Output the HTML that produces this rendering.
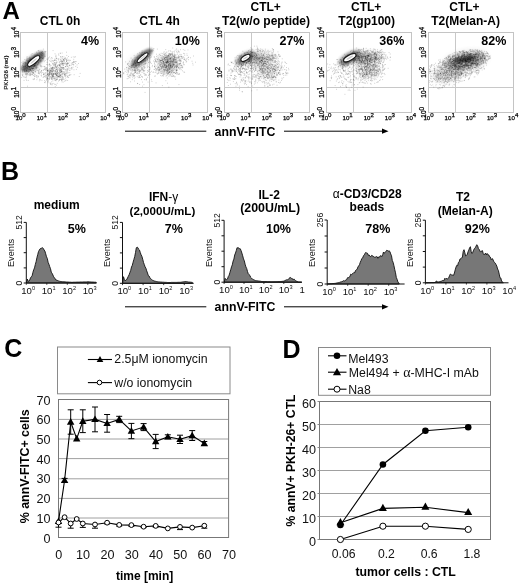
<!DOCTYPE html>
<html><head><meta charset="utf-8"><style>
html,body{margin:0;padding:0;background:#fff;}
svg{display:block;filter:blur(0.35px);}
text{font-family:"Liberation Sans",sans-serif;}
</style></head><body>
<svg width="520" height="584" viewBox="0 0 520 584">
<defs><filter id="b11" x="-50%" y="-50%" width="200%" height="200%"><feGaussianBlur stdDeviation="1.1"/></filter><filter id="b12" x="-50%" y="-50%" width="200%" height="200%"><feGaussianBlur stdDeviation="1.2"/></filter><filter id="b15" x="-50%" y="-50%" width="200%" height="200%"><feGaussianBlur stdDeviation="1.5"/></filter><filter id="b30" x="-50%" y="-50%" width="200%" height="200%"><feGaussianBlur stdDeviation="3.0"/></filter></defs>
<rect width="520" height="584" fill="#fff"/>
<text x="2.5" y="19.3" font-size="24" font-weight="bold" text-anchor="start" fill="#000" >A</text>
<rect x="20.5" y="32.5" width="85" height="80" fill="none" stroke="#c4c4c4" stroke-width="1"/>
<line x1="47.5" y1="32.5" x2="47.5" y2="112.5" stroke="#c8c8c8" stroke-width="1"/>
<line x1="20.5" y1="87.5" x2="105.5" y2="87.5" stroke="#c8c8c8" stroke-width="1"/>
<ellipse cx="0" cy="0" rx="14.5" ry="5.5" fill="#333" opacity="0.72" filter="url(#b11)" transform="translate(33.3 61.699999999999996) rotate(-40)"/>
<ellipse cx="0" cy="0" rx="9" ry="6" fill="#777" opacity="0.3" filter="url(#b30)" transform="translate(31.4 65.3) rotate(-30)"/>
<path d="M33.2 64.2h.9M28.2 62.2h.9M26.7 62.9h.9M36.3 67.1h.9M27.4 64.2h.9M36.7 61.6h.9M30.7 59.8h.9M34.0 65.6h.9M22.0 69.7h.9M24.4 71.5h.9M33.0 61.8h.9M32.4 63.9h.9M23.6 66.5h.9M37.6 54.7h.9M34.4 66.2h.9M28.1 66.3h.9M33.3 62.9h.9M24.1 70.6h.9M37.8 50.7h.9M38.6 58.7h.9M33.1 73.1h.9M34.6 55.2h.9M34.4 64.6h.9M32.9 66.5h.9M33.7 65.7h.9M40.6 52.9h.9M32.6 60.7h.9M30.2 58.9h.9M27.9 66.1h.9M41.5 61.6h.9M21.2 68.5h.9M31.7 53.5h.9M29.0 65.7h.9M42.8 58.1h.9M29.2 64.1h.9M34.6 69.4h.9M28.7 64.8h.9M34.5 60.9h.9M28.2 61.0h.9M31.2 62.0h.9M42.1 58.6h.9M34.0 65.5h.9M32.8 68.5h.9M33.9 65.1h.9M24.4 71.8h.9M28.0 62.3h.9M39.3 69.2h.9M25.1 66.2h.9M35.1 63.6h.9M30.7 63.7h.9M38.6 60.8h.9M25.1 69.0h.9M29.9 59.9h.9M32.0 59.2h.9M39.6 58.3h.9M31.5 61.0h.9M26.4 57.9h.9M25.5 71.0h.9M22.3 75.7h.9M28.6 70.6h.9M29.4 57.8h.9M44.7 60.5h.9M31.2 62.8h.9M28.8 61.2h.9M38.6 55.3h.9M30.0 61.2h.9M24.8 63.0h.9M40.7 55.6h.9M39.1 57.8h.9M26.8 66.3h.9M28.6 66.6h.9M29.0 64.6h.9M42.1 51.7h.9M26.0 70.4h.9M38.4 50.7h.9M29.3 62.6h.9M22.1 75.7h.9M32.4 63.7h.9M28.4 69.0h.9M28.3 66.0h.9M21.6 66.0h.9M40.3 54.0h.9M34.3 61.5h.9M28.1 64.3h.9M36.0 58.7h.9M31.4 64.2h.9M42.3 58.6h.9M33.6 59.4h.9M25.3 74.2h.9M38.7 57.3h.9M38.1 62.6h.9M40.5 61.3h.9M33.2 70.6h.9M26.0 73.2h.9M38.1 63.1h.9M49.2 57.0h.9M35.4 55.5h.9M34.5 65.9h.9M34.3 61.9h.9M30.8 64.8h.9M22.6 63.6h.9M28.8 61.3h.9M22.4 74.4h.9M33.0 64.9h.9M23.9 67.0h.9M23.2 66.4h.9M31.7 59.8h.9M35.7 62.3h.9M38.3 57.9h.9M28.6 58.9h.9M31.1 68.2h.9M32.0 64.0h.9M33.4 68.5h.9M26.6 56.7h.9M22.6 61.3h.9M41.7 55.7h.9M21.9 67.2h.9M40.6 57.2h.9M32.6 62.9h.9M34.7 65.5h.9M36.8 60.8h.9M26.5 70.9h.9M30.5 70.6h.9M23.3 70.2h.9M28.9 59.3h.9M48.0 57.8h.9M31.2 68.3h.9M34.0 61.7h.9M30.2 59.5h.9M30.1 64.3h.9M41.5 57.5h.9M36.3 68.0h.9M27.6 65.3h.9M41.4 60.5h.9M37.3 59.8h.9M33.2 61.3h.9M31.1 64.6h.9M44.3 56.3h.9M30.5 61.9h.9M32.1 71.9h.9M36.1 60.6h.9M27.2 61.9h.9M34.2 66.4h.9M29.1 64.9h.9M31.2 64.9h.9M28.8 71.0h.9M28.6 69.5h.9M42.1 53.5h.9M28.7 67.4h.9M29.8 60.3h.9M40.8 66.8h.9M30.1 64.2h.9M26.0 70.3h.9M21.0 67.1h.9M38.9 53.1h.9M43.8 61.7h.9M35.6 63.5h.9M45.4 51.4h.9M24.8 62.6h.9M36.5 67.6h.9M36.6 54.9h.9M25.2 66.7h.9M33.9 61.0h.9M34.6 63.0h.9M30.2 64.9h.9M33.6 61.8h.9M40.7 66.1h.9M36.6 60.0h.9M21.8 74.2h.9M40.1 60.5h.9M27.0 58.9h.9M28.1 63.4h.9M42.6 66.5h.9M31.9 59.7h.9M24.2 69.9h.9M28.2 60.8h.9M30.2 59.1h.9M42.8 60.1h.9M38.7 55.6h.9M35.6 59.9h.9M28.8 64.5h.9M37.4 58.1h.9M36.5 65.1h.9M34.6 63.5h.9M32.4 68.6h.9M30.7 58.4h.9M28.1 71.2h.9M30.7 54.8h.9M43.2 57.3h.9M40.7 54.4h.9M27.5 61.6h.9M41.7 52.1h.9M29.2 57.2h.9M32.3 68.5h.9M26.5 73.8h.9M32.0 58.2h.9M27.8 64.8h.9M30.7 61.9h.9M25.9 67.2h.9M22.0 65.3h.9M34.3 66.3h.9M21.9 72.2h.9M25.4 64.1h.9M37.0 56.8h.9M40.7 52.2h.9M34.5 60.4h.9M28.7 69.5h.9M32.9 66.0h.9M29.3 60.2h.9M31.8 64.0h.9M36.7 55.0h.9M27.7 58.3h.9M34.1 56.2h.9M36.1 52.2h.9M23.0 67.3h.9M25.6 71.0h.9M25.0 65.8h.9M34.5 57.6h.9M32.9 57.8h.9M44.4 51.6h.9M34.0 61.8h.9M33.6 62.5h.9M42.9 49.1h.9M25.1 73.3h.9M35.6 55.6h.9M21.9 70.3h.9M33.3 57.0h.9M36.8 54.0h.9M26.6 60.3h.9M29.2 73.2h.9M37.0 57.3h.9M21.5 62.5h.9M29.6 65.5h.9M31.6 63.5h.9M24.5 69.6h.9M35.5 67.5h.9M44.9 52.1h.9M26.9 67.5h.9M32.6 72.3h.9M27.9 80.4h.9M32.6 79.2h.9M36.2 67.0h.9M28.1 72.5h.9M30.8 70.5h.9M28.7 61.3h.9M29.0 59.2h.9M32.6 66.7h.9M26.1 69.2h.9M32.0 63.1h.9M39.9 65.0h.9M34.3 63.4h.9M32.2 68.7h.9M30.0 73.1h.9M40.9 71.3h.9M31.1 65.4h.9M33.9 69.1h.9M35.4 70.1h.9M28.6 74.7h.9M28.3 66.3h.9M28.8 63.4h.9M37.3 64.8h.9M25.2 68.3h.9M36.4 66.2h.9M26.3 74.7h.9M35.6 68.4h.9M23.7 62.6h.9M26.2 59.1h.9M34.9 67.1h.9M33.3 79.6h.9M37.4 64.5h.9M35.6 76.1h.9M25.9 65.5h.9M29.7 62.3h.9M23.8 69.0h.9M29.0 71.1h.9M32.0 69.2h.9M30.4 66.7h.9M31.2 71.4h.9M24.9 67.1h.9M35.2 72.0h.9M26.3 80.5h.9M35.1 71.4h.9M29.2 67.6h.9M29.1 67.5h.9M34.9 68.3h.9M27.8 64.3h.9M30.1 65.8h.9M29.3 75.5h.9M32.6 72.8h.9M32.5 70.6h.9M29.6 68.8h.9M35.0 64.9h.9M38.4 70.5h.9M25.9 67.9h.9M26.3 71.1h.9M26.1 76.0h.9M26.0 60.3h.9M30.2 75.6h.9M34.3 63.6h.9M25.8 79.2h.9M32.3 70.3h.9M38.2 71.0h.9M32.5 73.4h.9M26.7 65.0h.9M30.7 65.6h.9M30.0 70.8h.9M29.7 69.5h.9M33.0 75.5h.9M27.5 66.2h.9M33.6 70.5h.9M24.3 68.4h.9M30.6 72.8h.9M26.8 69.0h.9M28.4 71.4h.9M28.2 66.3h.9M30.0 70.3h.9M29.9 60.9h.9M29.5 66.0h.9M27.1 71.4h.9M34.2 74.8h.9M27.4 74.9h.9M37.4 76.0h.9M38.7 69.6h.9M29.4 74.4h.9M22.2 71.3h.9M27.2 68.5h.9M30.3 74.7h.9M36.3 69.9h.9M29.3 66.1h.9M32.8 69.1h.9M34.0 79.1h.9M30.2 62.8h.9M25.2 63.0h.9M23.2 76.8h.9M31.8 62.7h.9M34.3 76.6h.9M28.2 66.9h.9M28.4 71.7h.9M34.2 76.2h.9M37.7 76.2h.9M38.6 73.6h.9M21.2 69.6h.9M32.3 68.4h.9M35.9 68.5h.9M24.8 77.5h.9M34.4 71.4h.9M36.0 75.6h.9M26.3 68.0h.9M24.5 71.3h.9M37.6 67.9h.9M23.6 80.4h.9M27.7 64.1h.9M31.8 72.4h.9M26.2 74.3h.9M27.5 65.7h.9M31.5 74.2h.9M26.6 72.0h.9M26.1 77.2h.9M30.1 69.7h.9M34.7 74.8h.9M38.0 71.9h.9M26.8 67.6h.9M33.5 73.2h.9M38.8 72.4h.9M36.8 77.9h.9M31.4 62.9h.9M23.3 63.1h.9M39.9 66.1h.9M37.8 73.2h.9M40.7 75.3h.9M29.8 69.3h.9M30.9 71.2h.9M27.2 70.1h.9M40.1 61.8h.9M32.0 65.8h.9M31.5 74.5h.9M30.1 74.2h.9M26.8 73.4h.9M25.9 71.4h.9M39.7 71.7h.9M31.9 63.2h.9M39.0 79.3h.9M30.6 69.2h.9M38.0 73.0h.9M24.5 77.0h.9M23.0 69.2h.9M32.1 74.7h.9M32.9 72.2h.9M25.8 63.9h.9M30.8 66.7h.9M22.6 64.0h.9M47.1 70.5h.9M50.7 84.1h.9M51.5 71.9h.9M50.5 73.6h.9M59.0 75.2h.9M68.8 75.3h.9M64.5 75.5h.9M58.6 67.8h.9M53.5 74.0h.9M52.7 64.6h.9M60.6 72.6h.9M51.3 73.2h.9M52.8 76.1h.9M45.5 70.1h.9M56.4 75.0h.9M51.8 71.7h.9M48.6 74.0h.9M62.7 69.5h.9M65.1 78.1h.9M51.2 77.8h.9M44.1 66.5h.9M45.4 72.5h.9M52.1 72.0h.9M55.1 64.7h.9M57.9 67.9h.9M49.8 72.4h.9M46.3 68.1h.9M47.4 74.2h.9M58.5 76.8h.9M47.4 70.7h.9M48.0 76.3h.9M40.1 79.9h.9M51.0 70.8h.9M56.8 78.9h.9M56.8 79.0h.9M55.3 79.8h.9M63.1 73.9h.9M64.5 75.0h.9M55.0 70.2h.9M52.4 77.8h.9M45.2 77.2h.9M56.8 75.5h.9M39.0 73.8h.9M58.9 70.9h.9M55.0 63.6h.9M59.1 71.3h.9M60.5 66.0h.9M59.2 73.2h.9M60.1 70.1h.9M50.1 84.4h.9M48.6 71.1h.9M52.5 69.7h.9M62.7 82.1h.9M49.5 66.5h.9M62.6 79.3h.9M60.2 79.5h.9M48.3 73.5h.9M44.7 67.9h.9M61.3 71.3h.9M70.4 74.6h.9M49.9 77.9h.9M67.0 76.5h.9M45.9 76.0h.9M64.0 72.1h.9M49.0 78.9h.9M55.4 69.3h.9M51.7 70.9h.9M56.5 74.8h.9M62.5 77.5h.9M43.5 76.1h.9M60.7 76.4h.9M61.6 71.8h.9M47.7 78.5h.9M61.6 71.0h.9M52.3 68.0h.9M45.1 69.1h.9M51.9 76.0h.9M46.1 69.5h.9M59.1 74.0h.9M48.4 75.4h.9M55.8 80.7h.9M51.2 78.8h.9M49.2 79.3h.9M49.1 72.7h.9M67.7 75.7h.9M55.2 84.4h.9M56.9 70.6h.9M59.5 69.0h.9M62.3 79.7h.9M50.4 71.5h.9M55.6 74.4h.9M47.6 76.9h.9M40.1 72.4h.9M51.6 73.1h.9M56.6 68.8h.9M58.5 73.5h.9M49.8 68.1h.9M46.1 75.9h.9M47.7 74.6h.9M61.8 78.9h.9M65.3 73.0h.9M46.8 78.9h.9M56.6 79.4h.9M54.5 79.7h.9M60.3 77.5h.9M57.9 76.1h.9M56.0 75.3h.9M61.3 72.0h.9M66.5 73.8h.9M61.3 73.9h.9M52.7 83.4h.9M52.2 68.6h.9M49.4 72.9h.9M69.5 75.2h.9M60.9 69.8h.9M56.9 77.3h.9M67.0 71.2h.9M58.6 75.7h.9M47.2 74.2h.9M52.6 63.8h.9M58.6 76.7h.9M51.3 68.3h.9M64.8 75.5h.9M61.5 80.6h.9M50.8 78.0h.9M52.7 74.0h.9M53.8 74.3h.9M62.2 74.9h.9M53.3 73.1h.9M56.8 70.3h.9M50.9 74.1h.9M50.4 73.8h.9M50.1 83.3h.9M63.7 76.3h.9M54.0 84.2h.9M56.7 73.9h.9M56.5 75.7h.9M64.3 74.2h.9M69.1 70.3h.9M59.3 69.8h.9M67.1 72.8h.9M54.0 78.5h.9M63.2 69.3h.9M52.0 68.0h.9M55.4 73.8h.9M52.0 71.2h.9M51.7 70.9h.9M58.1 81.1h.9M40.9 73.8h.9M51.5 76.5h.9M47.7 73.6h.9M47.1 77.4h.9M55.1 73.6h.9M57.0 73.2h.9M43.5 77.0h.9M56.4 73.6h.9M61.3 79.8h.9M46.8 70.8h.9M65.2 80.7h.9M49.2 69.0h.9M49.9 72.1h.9M43.3 74.4h.9M45.4 68.9h.9M60.8 71.2h.9M53.9 77.1h.9M60.1 72.8h.9M54.7 70.6h.9M66.6 77.2h.9M46.7 74.3h.9M59.4 76.5h.9M67.2 80.5h.9M50.6 73.9h.9M45.4 75.4h.9M55.1 64.9h.9M49.7 74.8h.9M45.6 70.4h.9M51.8 75.8h.9M53.2 70.3h.9M59.9 71.9h.9M50.9 68.1h.9M48.9 77.2h.9M43.1 74.0h.9M59.4 72.6h.9M56.1 69.3h.9M63.6 79.3h.9M56.0 66.4h.9M47.1 78.7h.9M66.4 75.6h.9M63.1 71.6h.9M53.1 74.3h.9M57.4 67.4h.9M61.0 80.3h.9M46.4 68.2h.9M56.9 71.4h.9M55.5 72.2h.9M69.2 74.9h.9M49.1 74.8h.9M47.1 70.9h.9M57.1 71.8h.9M51.2 81.8h.9M60.4 77.9h.9M58.1 76.5h.9M64.6 74.2h.9M67.4 70.0h.9M52.6 68.1h.9M52.0 76.6h.9M64.6 71.3h.9M54.4 72.7h.9M49.2 68.9h.9M54.8 66.5h.9M55.2 74.4h.9M49.8 69.8h.9M44.7 82.7h.9M45.0 81.3h.9M58.6 72.7h.9M46.3 79.0h.9M66.5 70.1h.9M52.3 79.0h.9M56.8 83.3h.9M50.4 76.7h.9M49.3 64.4h.9M53.5 73.7h.9M67.8 72.8h.9M54.3 77.0h.9M65.5 74.0h.9M61.7 76.6h.9M52.3 74.6h.9M54.6 70.2h.9M62.9 68.1h.9M62.6 78.6h.9M53.7 70.9h.9M52.8 76.4h.9M59.6 75.6h.9M61.3 71.8h.9M56.0 67.2h.9M59.7 75.0h.9M51.5 79.5h.9M54.7 67.8h.9M50.8 74.6h.9M52.6 75.9h.9M58.9 80.1h.9M47.5 81.4h.9M47.9 75.5h.9M62.5 77.5h.9M47.8 71.1h.9M51.2 74.1h.9M62.4 68.5h.9M57.7 77.0h.9M58.3 76.4h.9M65.0 76.5h.9M60.4 76.8h.9M63.4 73.1h.9M52.4 69.9h.9M41.3 72.6h.9M49.6 76.5h.9M44.1 80.7h.9M56.3 73.2h.9M49.4 70.8h.9M46.5 71.9h.9M54.4 73.5h.9M44.5 73.1h.9M48.1 75.0h.9M67.5 77.1h.9M52.2 67.0h.9M44.5 66.7h.9M59.5 70.9h.9M54.8 71.5h.9M55.0 80.6h.9M49.6 72.8h.9M48.8 78.2h.9M47.2 69.2h.9M44.7 68.0h.9M47.4 78.6h.9M56.2 69.3h.9M52.5 73.3h.9M49.6 83.0h.9M41.1 76.0h.9M56.7 71.7h.9M55.4 78.2h.9M55.5 76.2h.9M59.3 65.2h.9M61.3 78.9h.9M44.5 73.8h.9M48.7 71.7h.9M61.2 70.7h.9M53.5 65.7h.9M53.3 74.7h.9M49.5 71.1h.9M67.6 68.9h.9M47.0 70.7h.9M56.7 71.1h.9M51.4 79.1h.9M48.0 80.8h.9M64.3 74.6h.9M58.9 77.7h.9M65.3 69.6h.9M62.7 72.6h.9M49.0 74.8h.9M52.9 69.9h.9M43.2 70.1h.9M59.0 79.6h.9M50.8 74.0h.9M56.4 69.4h.9M47.5 74.7h.9M52.2 69.5h.9M57.1 73.1h.9M61.5 74.3h.9M52.3 74.9h.9M53.2 71.3h.9M51.6 77.7h.9M58.9 80.1h.9M42.5 72.5h.9M51.5 75.1h.9M51.2 72.0h.9M59.9 75.1h.9M46.2 80.3h.9M61.4 71.7h.9M60.2 71.0h.9M62.3 73.3h.9M48.8 72.6h.9M49.0 75.2h.9M55.6 74.5h.9M55.0 65.8h.9M56.1 79.4h.9M56.3 72.5h.9M53.1 73.7h.9M50.6 71.7h.9M47.9 79.6h.9M54.3 78.6h.9M52.6 74.6h.9M53.2 76.4h.9M60.2 75.4h.9M49.7 70.8h.9M66.0 73.0h.9M52.4 80.9h.9M62.0 76.7h.9M51.6 84.9h.9M57.2 76.8h.9M53.2 67.9h.9M45.1 76.1h.9M57.1 73.2h.9M46.2 67.8h.9M52.1 67.7h.9M60.7 79.5h.9M50.3 70.4h.9M53.2 78.7h.9M58.7 76.9h.9M55.9 77.3h.9M64.5 69.5h.9M51.2 68.1h.9M65.7 80.1h.9M59.7 68.9h.9M55.6 73.2h.9M55.0 73.5h.9M58.0 72.5h.9M60.4 75.4h.9M52.3 73.8h.9M51.3 78.0h.9M52.5 75.6h.9M51.7 67.6h.9M60.7 69.5h.9M59.2 76.2h.9M42.8 70.0h.9M50.8 70.6h.9M46.1 77.6h.9M52.7 76.0h.9M51.4 75.7h.9M49.1 74.2h.9M58.5 74.5h.9M51.2 69.4h.9M55.6 75.9h.9M52.6 70.8h.9M52.3 75.8h.9M55.3 71.1h.9M64.1 73.2h.9M49.0 73.3h.9M55.6 71.8h.9M54.0 68.2h.9M52.8 77.8h.9M68.2 77.5h.9M56.3 79.6h.9M61.5 81.8h.9M62.0 73.8h.9M56.2 75.1h.9M56.5 75.2h.9M48.9 64.8h.9M49.7 65.2h.9M54.9 74.3h.9M42.7 77.4h.9M60.5 74.7h.9M46.0 79.0h.9M57.5 76.2h.9M60.9 71.1h.9M50.3 70.6h.9M49.1 73.9h.9M44.2 69.6h.9M58.4 74.0h.9M57.1 65.8h.9M48.9 71.8h.9M54.6 71.7h.9M55.7 62.5h.9M49.1 63.8h.9M67.2 62.6h.9M65.9 59.1h.9M51.5 60.4h.9M71.1 67.9h.9M59.0 68.7h.9M60.0 70.1h.9M66.0 61.3h.9M68.4 59.8h.9M55.4 56.8h.9M64.3 63.1h.9M61.8 61.5h.9M73.2 61.4h.9M57.0 68.9h.9M73.1 64.8h.9M49.3 60.6h.9M67.0 63.4h.9M74.1 57.1h.9M67.5 60.5h.9M72.3 63.0h.9M70.1 60.4h.9M51.8 58.3h.9M57.8 58.7h.9M71.4 69.3h.9M64.4 58.6h.9M61.5 60.2h.9M73.3 64.7h.9M66.1 61.5h.9M47.3 59.8h.9M54.0 65.0h.9M63.1 59.7h.9M59.5 70.3h.9M55.2 59.2h.9M60.7 60.2h.9M59.2 65.7h.9M62.3 63.5h.9M61.8 62.5h.9M59.8 67.8h.9M58.9 62.7h.9M62.4 63.8h.9M61.1 67.8h.9M62.3 64.1h.9M62.0 58.8h.9M56.2 58.6h.9M63.8 60.1h.9M54.4 64.4h.9M66.3 55.4h.9M75.1 63.4h.9M61.6 68.1h.9M62.9 60.6h.9M61.7 67.1h.9M54.4 62.8h.9M55.7 63.1h.9M67.3 63.7h.9M53.4 65.1h.9M63.2 65.3h.9M70.9 67.9h.9M65.5 64.7h.9M54.2 62.7h.9M64.1 61.5h.9M63.1 59.6h.9M59.5 65.1h.9M60.6 69.0h.9M65.7 63.6h.9M60.7 63.9h.9M54.9 66.3h.9M57.0 65.7h.9M63.4 68.2h.9M62.3 67.9h.9M55.5 66.0h.9M60.7 64.2h.9M62.9 67.5h.9M47.3 64.8h.9M51.2 68.7h.9M47.6 58.8h.9M49.8 70.7h.9M52.7 63.8h.9M58.4 55.2h.9M59.9 66.3h.9M61.0 67.5h.9M59.7 63.3h.9M59.5 64.8h.9M76.6 64.9h.9M63.9 60.5h.9M56.7 69.9h.9M54.1 59.2h.9M61.7 61.4h.9M65.1 66.5h.9M54.0 60.4h.9M65.6 70.6h.9M55.5 56.2h.9M69.7 70.2h.9M59.9 53.3h.9M73.3 62.4h.9M70.8 63.1h.9M59.6 61.3h.9M73.5 69.8h.9M46.4 59.1h.9M75.7 61.6h.9M52.2 63.3h.9M61.6 62.9h.9M58.8 61.9h.9M59.0 64.8h.9M56.3 62.0h.9M61.3 69.2h.9M65.2 62.8h.9M66.4 65.1h.9M70.6 65.6h.9M75.9 69.4h.9M62.1 61.4h.9M69.0 65.6h.9M61.7 56.7h.9M48.7 64.9h.9M68.2 66.9h.9M52.7 68.0h.9M58.4 65.0h.9M65.5 59.7h.9M58.0 54.0h.9M55.5 55.2h.9M65.7 63.6h.9M69.3 64.9h.9M57.6 64.9h.9M59.5 66.0h.9M64.8 58.9h.9M62.4 63.5h.9M60.1 67.3h.9M75.2 61.6h.9M59.8 53.2h.9M61.4 61.3h.9M46.2 64.6h.9M66.8 60.0h.9M59.6 59.0h.9M68.1 56.5h.9M60.1 72.1h.9M62.8 65.4h.9M61.3 58.0h.9M62.2 65.1h.9M54.7 64.8h.9M71.7 68.1h.9M50.5 58.9h.9M50.3 68.1h.9M67.0 66.5h.9M55.8 58.1h.9M63.0 63.8h.9M56.0 63.9h.9M67.2 64.3h.9M54.6 53.8h.9M60.5 64.0h.9M60.4 61.4h.9M57.2 66.5h.9M62.0 63.9h.9M55.1 60.5h.9M63.6 58.8h.9M53.0 61.8h.9M71.4 64.2h.9M73.3 62.7h.9M60.1 57.0h.9M58.1 69.8h.9M64.9 66.6h.9M67.7 63.3h.9M60.9 63.8h.9M67.4 65.4h.9M66.1 64.0h.9M56.6 62.1h.9M55.3 67.8h.9M46.6 62.3h.9M53.9 63.2h.9M72.1 62.6h.9M67.0 63.7h.9M62.9 60.9h.9M58.7 65.0h.9M65.5 66.8h.9M63.5 56.9h.9M66.4 61.9h.9M60.3 56.6h.9M58.1 60.0h.9M62.1 56.8h.9M62.8 63.9h.9M54.0 60.5h.9M56.0 67.4h.9M49.9 61.4h.9M68.8 60.5h.9M63.4 59.5h.9M76.9 67.4h.9M70.9 57.3h.9M54.1 68.2h.9M60.9 62.1h.9M64.9 57.7h.9M68.2 63.4h.9M66.0 60.3h.9M66.2 60.1h.9M69.6 68.4h.9M69.2 65.6h.9M68.7 62.1h.9M63.1 62.0h.9M52.0 60.9h.9M67.3 69.7h.9M57.7 59.2h.9M73.3 59.3h.9M78.0 63.5h.9M55.8 67.7h.9M75.1 56.8h.9M74.1 62.0h.9M73.5 61.6h.9M50.6 65.6h.9M69.3 72.7h.9M75.3 66.4h.9M60.6 61.0h.9M60.2 59.6h.9M63.7 63.2h.9M58.8 65.8h.9M53.2 60.6h.9M48.4 69.8h.9M66.9 58.0h.9M61.9 67.6h.9M66.1 65.0h.9M56.0 60.4h.9M63.1 67.4h.9M56.2 58.3h.9M65.2 73.8h.9M65.9 69.0h.9M27.1 86.2h.9M47.6 82.7h.9M57.3 76.4h.9M79.7 73.4h.9M72.8 56.9h.9M64.3 68.1h.9M48.3 70.4h.9M55.9 85.2h.9M38.9 80.8h.9M43.6 74.4h.9M44.0 76.3h.9M66.6 66.7h.9M51.2 57.5h.9M55.3 78.0h.9M41.5 80.4h.9M28.2 65.9h.9M50.7 69.6h.9M49.3 76.8h.9M42.8 58.9h.9M73.7 74.7h.9M37.1 70.3h.9M64.2 81.2h.9M36.0 77.1h.9M54.4 80.2h.9M72.6 67.2h.9M27.2 73.9h.9M78.8 76.5h.9M33.8 78.4h.9M41.3 70.7h.9M51.8 83.9h.9M35.4 65.5h.9M24.9 74.7h.9M43.1 74.1h.9M33.2 67.1h.9M67.0 68.7h.9M60.4 75.1h.9M44.7 56.3h.9M66.2 71.8h.9M66.1 52.2h.9M36.4 79.7h.9M59.5 70.0h.9M52.5 77.1h.9M45.6 73.9h.9M52.6 50.6h.9M44.2 82.5h.9M44.1 69.0h.9M40.7 65.9h.9M68.4 67.9h.9M41.2 52.6h.9M21.2 77.5h.9M61.7 53.0h.9M64.0 74.4h.9M37.9 76.9h.9M24.4 59.5h.9M27.4 60.3h.9M64.5 58.3h.9M32.0 61.7h.9M53.5 67.2h.9M64.2 63.9h.9M29.8 65.8h.9M51.0 61.9h.9M54.8 86.6h.9M41.0 70.6h.9M71.9 64.4h.9M36.7 60.3h.9M56.6 74.8h.9" stroke="#000" stroke-opacity="0.22" stroke-width=".9" fill="none"/>
<g transform="translate(33.7 61.0) rotate(-40)"><ellipse rx="7.6" ry="2.6" fill="#fff" stroke="#1a1a1a" stroke-width="1.1"/><ellipse rx="4.18" ry="0.78" fill="#ccc"/></g>
<text x="60.1" y="25.4" font-size="12" font-weight="bold" text-anchor="middle" fill="#000" >CTL 0h</text>
<text x="99.2" y="44.8" font-size="12.5" font-weight="bold" text-anchor="end" fill="#000" >4%</text>
<text x="20.6" y="119.6" font-size="6.1" text-anchor="middle" fill="#000" stroke="#000" stroke-width=".25">10<tspan dy="-2.4">0</tspan></text>
<text x="41.8" y="119.6" font-size="6.1" text-anchor="middle" fill="#000" stroke="#000" stroke-width=".25">10<tspan dy="-2.4">1</tspan></text>
<text x="63.0" y="119.6" font-size="6.1" text-anchor="middle" fill="#000" stroke="#000" stroke-width=".25">10<tspan dy="-2.4">2</tspan></text>
<text x="84.1" y="119.6" font-size="6.1" text-anchor="middle" fill="#000" stroke="#000" stroke-width=".25">10<tspan dy="-2.4">3</tspan></text>
<text x="105.3" y="119.6" font-size="6.1" text-anchor="middle" fill="#000" stroke="#000" stroke-width=".25">10<tspan dy="-2.4">4</tspan></text>
<text x="18.6" y="112.3" font-size="6.5" text-anchor="middle" fill="#000" stroke="#000" stroke-width=".25" transform="rotate(-90 18.6 112.3)">10<tspan dy="-2.4">0</tspan></text>
<text x="18.6" y="92.3" font-size="6.5" text-anchor="middle" fill="#000" stroke="#000" stroke-width=".25" transform="rotate(-90 18.6 92.3)">10<tspan dy="-2.4">1</tspan></text>
<text x="18.6" y="72.3" font-size="6.5" text-anchor="middle" fill="#000" stroke="#000" stroke-width=".25" transform="rotate(-90 18.6 72.3)">10<tspan dy="-2.4">2</tspan></text>
<text x="18.6" y="52.3" font-size="6.5" text-anchor="middle" fill="#000" stroke="#000" stroke-width=".25" transform="rotate(-90 18.6 52.3)">10<tspan dy="-2.4">3</tspan></text>
<text x="18.6" y="32.3" font-size="6.5" text-anchor="middle" fill="#000" stroke="#000" stroke-width=".25" transform="rotate(-90 18.6 32.3)">10<tspan dy="-2.4">4</tspan></text>
<rect x="122.5" y="32.5" width="85" height="80" fill="none" stroke="#c4c4c4" stroke-width="1"/>
<line x1="149.5" y1="32.5" x2="149.5" y2="112.5" stroke="#c8c8c8" stroke-width="1"/>
<line x1="122.5" y1="87.5" x2="207.5" y2="87.5" stroke="#c8c8c8" stroke-width="1"/>
<ellipse cx="0" cy="0" rx="13.5" ry="4.6" fill="#333" opacity="0.7" filter="url(#b11)" transform="translate(141.8 57.9) rotate(-40)"/>
<ellipse cx="0" cy="0" rx="9" ry="6" fill="#888" opacity="0.3" filter="url(#b30)" transform="translate(137.5 63.3) rotate(-30)"/>
<ellipse cx="0" cy="0" rx="8" ry="7" fill="#777" opacity="0.35" filter="url(#b30)" transform="translate(168.4 64.3) rotate(0)"/>
<path d="M141.6 62.9h.9M137.2 53.8h.9M138.8 64.9h.9M144.9 63.5h.9M132.0 70.1h.9M135.8 65.6h.9M144.5 61.4h.9M136.3 65.1h.9M128.2 63.2h.9M143.8 58.2h.9M126.3 67.5h.9M143.8 66.3h.9M149.4 58.3h.9M126.9 70.8h.9M144.3 60.1h.9M142.4 58.4h.9M156.1 56.6h.9M136.9 58.8h.9M153.4 48.5h.9M153.1 61.0h.9M133.9 67.5h.9M138.7 65.0h.9M146.9 65.9h.9M144.2 58.2h.9M147.4 54.5h.9M142.7 70.6h.9M132.9 64.3h.9M137.7 57.8h.9M127.3 76.2h.9M133.0 64.0h.9M134.9 60.3h.9M132.6 67.8h.9M141.7 52.6h.9M136.9 57.8h.9M144.9 56.5h.9M140.0 60.9h.9M132.1 59.7h.9M140.8 53.9h.9M130.7 66.9h.9M135.5 66.1h.9M147.8 56.8h.9M141.4 60.4h.9M141.7 50.9h.9M140.3 56.5h.9M131.1 68.1h.9M138.6 65.4h.9M144.1 68.1h.9M149.7 61.4h.9M137.2 56.3h.9M133.6 69.8h.9M145.1 53.9h.9M138.6 63.7h.9M126.5 69.8h.9M143.6 67.9h.9M134.2 61.7h.9M142.9 70.9h.9M142.8 60.2h.9M130.6 76.0h.9M136.9 62.9h.9M145.6 54.1h.9M141.6 62.2h.9M147.1 56.5h.9M151.8 51.3h.9M134.5 63.2h.9M147.8 56.8h.9M134.9 67.0h.9M124.8 71.4h.9M145.4 60.8h.9M136.6 68.5h.9M152.4 49.9h.9M141.6 52.4h.9M127.4 74.0h.9M140.8 61.8h.9M135.1 63.6h.9M150.0 62.5h.9M134.5 57.3h.9M150.6 56.4h.9M145.3 58.3h.9M156.9 49.1h.9M139.2 52.7h.9M134.2 62.4h.9M140.6 62.7h.9M138.8 71.0h.9M131.3 65.7h.9M138.7 56.1h.9M145.6 60.3h.9M142.5 69.1h.9M141.3 61.9h.9M129.1 61.3h.9M134.7 63.8h.9M138.6 66.3h.9M130.1 75.6h.9M134.7 62.8h.9M134.3 70.3h.9M137.6 64.4h.9M128.2 76.2h.9M144.2 61.0h.9M148.4 54.1h.9M140.5 64.6h.9M142.5 58.3h.9M139.1 59.6h.9M147.4 60.5h.9M144.6 67.4h.9M128.4 69.0h.9M151.3 50.8h.9M131.9 74.6h.9M141.1 54.6h.9M143.2 53.9h.9M130.0 68.2h.9M133.9 60.5h.9M135.0 60.2h.9M140.4 61.0h.9M144.3 55.9h.9M127.3 64.4h.9M142.0 67.7h.9M144.6 54.7h.9M144.0 52.6h.9M146.4 54.7h.9M147.1 59.2h.9M138.8 64.0h.9M132.2 67.0h.9M145.3 57.9h.9M135.3 70.3h.9M126.2 67.8h.9M139.7 55.6h.9M153.8 56.5h.9M134.6 62.7h.9M127.2 64.1h.9M144.8 61.0h.9M143.2 60.3h.9M136.9 65.6h.9M129.5 69.4h.9M153.9 57.6h.9M135.9 62.8h.9M154.3 59.6h.9M128.2 68.2h.9M144.7 64.0h.9M135.6 68.0h.9M143.6 70.7h.9M142.8 58.6h.9M140.2 66.6h.9M142.3 54.2h.9M138.4 55.9h.9M131.5 61.4h.9M128.8 66.4h.9M134.3 68.4h.9M145.2 56.3h.9M133.9 70.1h.9M146.9 59.5h.9M146.6 55.4h.9M129.7 66.6h.9M142.3 55.9h.9M131.6 60.7h.9M133.7 70.4h.9M140.5 55.2h.9M130.9 65.5h.9M141.2 54.7h.9M133.7 55.4h.9M132.0 69.6h.9M143.8 52.8h.9M136.4 68.2h.9M135.9 61.8h.9M144.3 59.2h.9M150.0 57.9h.9M135.6 64.1h.9M136.4 57.4h.9M135.4 69.8h.9M131.0 73.2h.9M141.8 59.4h.9M145.1 60.0h.9M147.8 53.5h.9M137.8 61.8h.9M156.0 54.2h.9M132.6 65.3h.9M135.0 65.3h.9M147.2 67.6h.9M129.4 74.6h.9M141.6 56.8h.9M137.8 60.6h.9M142.9 64.3h.9M132.3 73.8h.9M141.1 68.2h.9M146.1 63.1h.9M146.8 61.8h.9M138.5 58.4h.9M146.7 60.0h.9M141.3 65.9h.9M130.6 67.5h.9M137.3 70.7h.9M150.6 57.4h.9M143.5 60.1h.9M132.7 64.4h.9M145.8 57.8h.9M152.7 50.3h.9M143.1 61.1h.9M138.7 58.4h.9M149.4 51.1h.9M144.7 56.6h.9M135.0 72.4h.9M142.5 57.9h.9M141.5 76.7h.9M138.7 67.3h.9M135.7 71.9h.9M147.6 82.1h.9M140.9 67.8h.9M131.7 71.2h.9M148.6 74.3h.9M137.1 67.7h.9M144.6 74.0h.9M137.1 72.9h.9M151.0 71.3h.9M151.0 79.8h.9M137.9 77.6h.9M136.5 67.3h.9M135.4 66.9h.9M141.6 72.4h.9M142.0 77.3h.9M123.1 73.3h.9M130.5 72.9h.9M148.4 62.1h.9M139.0 71.8h.9M137.8 69.2h.9M134.3 61.5h.9M130.1 70.1h.9M134.4 71.8h.9M129.1 75.5h.9M133.6 64.1h.9M131.0 70.0h.9M144.3 75.2h.9M134.8 72.4h.9M139.2 84.5h.9M132.6 75.1h.9M143.3 66.6h.9M139.0 73.3h.9M133.7 75.7h.9M145.7 79.1h.9M136.0 73.4h.9M139.3 77.6h.9M138.7 76.2h.9M138.9 76.8h.9M147.8 71.0h.9M139.1 72.0h.9M134.3 72.2h.9M128.4 76.8h.9M147.7 66.5h.9M149.7 68.0h.9M137.1 83.4h.9M128.9 77.3h.9M139.8 71.4h.9M130.5 74.8h.9M133.8 78.6h.9M147.3 64.0h.9M133.5 70.4h.9M128.0 65.6h.9M138.2 71.1h.9M124.3 69.1h.9M141.7 65.1h.9M130.1 81.8h.9M148.0 62.6h.9M126.7 74.6h.9M128.0 70.8h.9M133.9 75.7h.9M127.7 78.4h.9M136.3 62.1h.9M141.4 76.5h.9M135.5 70.3h.9M141.0 79.6h.9M138.7 75.5h.9M137.1 70.0h.9M130.2 73.8h.9M135.1 70.8h.9M144.9 75.2h.9M144.5 62.8h.9M142.0 68.8h.9M131.0 67.2h.9M147.2 77.3h.9M131.8 65.5h.9M137.6 69.5h.9M150.8 63.5h.9M137.6 73.1h.9M143.5 84.7h.9M134.8 69.0h.9M123.4 73.8h.9M144.3 70.7h.9M146.9 72.5h.9M149.6 74.3h.9M129.0 68.5h.9M125.2 61.9h.9M139.6 77.5h.9M153.1 72.0h.9M135.6 65.6h.9M145.4 74.6h.9M132.7 76.4h.9M142.0 61.1h.9M143.4 73.1h.9M134.4 69.8h.9M151.5 81.5h.9M152.1 65.4h.9M132.3 77.7h.9M127.8 68.0h.9M146.0 75.1h.9M139.3 69.8h.9M134.3 76.0h.9M131.8 79.7h.9M133.6 67.1h.9M147.9 71.4h.9M141.9 69.8h.9M126.7 78.8h.9M140.0 74.9h.9M138.4 65.0h.9M144.6 63.5h.9M133.8 67.6h.9M134.5 77.4h.9M132.4 75.7h.9M143.1 62.0h.9M128.2 70.0h.9M132.8 74.1h.9M143.5 71.3h.9M126.4 72.3h.9M133.2 75.7h.9M136.8 76.7h.9M134.0 81.0h.9M141.4 63.2h.9M143.4 65.0h.9M138.2 66.8h.9M134.0 73.3h.9M136.7 70.0h.9M154.7 72.4h.9M129.7 77.9h.9M144.1 79.6h.9M151.8 66.7h.9M146.0 79.1h.9M137.5 73.8h.9M133.2 74.0h.9M142.1 82.1h.9M123.4 72.6h.9M144.4 64.4h.9M137.2 83.6h.9M148.0 75.5h.9M140.6 70.4h.9M135.8 66.5h.9M139.4 70.4h.9M135.0 71.8h.9M143.7 73.7h.9M127.9 71.5h.9M141.3 69.5h.9M182.2 67.8h.9M167.9 56.1h.9M166.3 75.3h.9M171.0 72.1h.9M165.7 55.8h.9M165.0 62.2h.9M163.0 62.4h.9M167.5 62.5h.9M159.2 65.4h.9M171.3 67.3h.9M159.5 64.0h.9M155.5 70.7h.9M160.9 63.0h.9M165.2 61.0h.9M160.7 53.3h.9M181.6 66.4h.9M167.9 68.4h.9M168.8 72.5h.9M172.4 66.8h.9M166.7 66.6h.9M167.7 62.1h.9M166.4 52.0h.9M174.1 59.3h.9M166.9 61.5h.9M156.1 61.9h.9M154.8 58.7h.9M166.3 64.8h.9M169.1 63.9h.9M159.5 60.8h.9M163.7 63.7h.9M164.1 59.3h.9M181.0 65.1h.9M166.1 63.2h.9M167.0 73.9h.9M172.2 72.1h.9M168.9 53.7h.9M173.1 60.9h.9M155.2 60.8h.9M176.6 72.6h.9M174.1 58.0h.9M168.1 55.4h.9M178.6 67.7h.9M175.3 65.4h.9M168.2 66.0h.9M175.5 62.3h.9M168.6 66.8h.9M180.5 67.7h.9M169.0 61.6h.9M157.4 61.0h.9M169.3 63.2h.9M169.3 69.7h.9M172.0 66.7h.9M173.7 66.1h.9M168.5 67.9h.9M159.1 70.3h.9M168.8 72.1h.9M169.0 58.8h.9M176.8 66.1h.9M169.7 65.4h.9M176.3 70.2h.9M170.5 54.8h.9M165.8 65.6h.9M182.2 67.4h.9M168.1 72.7h.9M168.0 64.8h.9M170.0 55.2h.9M176.0 67.7h.9M166.7 57.5h.9M170.4 74.1h.9M164.0 58.1h.9M172.0 54.6h.9M163.6 63.2h.9M164.7 67.1h.9M167.2 61.1h.9M165.4 69.1h.9M176.0 70.9h.9M161.3 62.9h.9M170.4 54.5h.9M179.5 67.0h.9M164.2 66.0h.9M166.2 60.0h.9M172.6 62.0h.9M158.3 60.9h.9M168.0 58.0h.9M178.3 57.9h.9M182.0 70.8h.9M161.8 65.8h.9M177.7 63.8h.9M159.9 65.7h.9M173.0 65.1h.9M168.0 62.5h.9M166.5 71.8h.9M173.4 58.6h.9M180.6 56.6h.9M173.9 66.2h.9M177.9 67.4h.9M176.8 64.9h.9M176.2 67.3h.9M177.9 68.1h.9M170.3 61.4h.9M172.3 55.5h.9M158.7 69.7h.9M166.9 66.7h.9M169.5 67.8h.9M166.9 62.7h.9M168.0 71.9h.9M177.5 73.4h.9M171.7 63.8h.9M156.4 69.3h.9M175.3 62.5h.9M175.0 73.5h.9M169.7 72.0h.9M171.3 53.8h.9M165.4 62.4h.9M172.9 59.5h.9M165.7 58.8h.9M168.7 65.6h.9M176.3 70.3h.9M170.2 66.7h.9M169.8 65.8h.9M167.7 67.1h.9M177.5 58.0h.9M171.6 70.7h.9M165.6 52.7h.9M166.3 57.3h.9M173.9 59.6h.9M182.3 66.0h.9M162.9 61.8h.9M160.8 67.6h.9M180.2 63.7h.9M175.9 59.0h.9M158.4 73.1h.9M158.2 58.8h.9M176.2 62.3h.9M167.7 69.7h.9M169.9 66.6h.9M166.6 72.4h.9M163.1 76.0h.9M166.4 59.9h.9M173.8 68.0h.9M154.1 66.5h.9M158.8 59.7h.9M174.9 59.5h.9M171.6 62.6h.9M183.4 64.5h.9M160.1 57.9h.9M162.1 65.9h.9M168.9 71.4h.9M170.2 65.9h.9M171.3 64.2h.9M171.1 70.1h.9M174.8 61.5h.9M155.6 59.8h.9M165.3 67.9h.9M164.6 57.7h.9M166.9 73.6h.9M178.6 57.6h.9M166.9 57.9h.9M169.4 56.4h.9M168.8 72.0h.9M170.4 63.2h.9M180.4 59.1h.9M176.1 63.0h.9M170.4 65.1h.9M169.8 64.6h.9M162.9 61.2h.9M172.1 64.2h.9M160.0 60.3h.9M163.6 64.5h.9M170.1 65.5h.9M163.8 65.0h.9M168.3 54.1h.9M161.6 57.0h.9M173.4 57.0h.9M170.7 61.6h.9M159.4 54.6h.9M172.1 67.3h.9M174.4 76.7h.9M170.6 66.6h.9M167.7 65.4h.9M165.9 58.9h.9M170.4 67.6h.9M169.6 58.4h.9M167.1 61.7h.9M160.4 64.4h.9M165.4 61.1h.9M173.6 57.8h.9M171.7 60.7h.9M171.6 65.1h.9M170.2 58.2h.9M162.6 59.0h.9M169.7 69.4h.9M176.5 61.3h.9M169.0 54.1h.9M163.4 54.5h.9M155.0 68.0h.9M162.3 53.6h.9M165.9 68.9h.9M162.6 74.8h.9M156.8 56.0h.9M167.2 59.5h.9M162.8 66.0h.9M172.4 70.9h.9M164.6 65.5h.9M174.6 62.4h.9M166.0 61.4h.9M163.3 57.1h.9M164.0 54.3h.9M171.0 54.0h.9M176.4 63.0h.9M163.7 72.3h.9M169.4 67.9h.9M162.7 71.2h.9M162.1 65.0h.9M155.1 60.1h.9M171.8 61.4h.9M164.7 69.4h.9M167.5 72.3h.9M171.8 54.3h.9M158.3 70.0h.9M160.0 60.1h.9M172.5 62.1h.9M171.6 58.6h.9M170.2 71.3h.9M172.9 64.6h.9M161.2 73.3h.9M163.3 74.4h.9M167.7 55.6h.9M168.7 66.4h.9M172.0 71.1h.9M161.3 67.4h.9M173.5 62.5h.9M161.0 58.1h.9M173.6 69.4h.9M161.8 55.6h.9M177.2 54.2h.9M169.2 59.0h.9M154.9 65.0h.9M166.6 73.6h.9M175.6 71.0h.9M164.1 58.6h.9M180.0 61.9h.9M167.8 62.4h.9M167.0 60.3h.9M173.6 72.4h.9M165.2 55.3h.9M168.4 54.6h.9M163.2 72.2h.9M160.0 69.3h.9M179.3 69.1h.9M174.4 63.9h.9M163.5 66.9h.9M163.7 51.8h.9M174.0 60.0h.9M160.5 55.6h.9M169.8 59.0h.9M172.6 62.5h.9M176.0 61.7h.9M159.8 68.9h.9M160.2 66.4h.9M171.5 59.9h.9M168.6 53.8h.9M165.8 70.1h.9M180.2 63.2h.9M166.1 67.2h.9M176.2 67.4h.9M162.4 66.5h.9M175.2 59.6h.9M158.0 67.5h.9M170.7 70.5h.9M168.7 60.1h.9M164.7 57.6h.9M160.9 60.6h.9M164.4 71.5h.9M158.9 64.0h.9M163.6 73.9h.9M170.0 61.9h.9M174.1 64.7h.9M164.5 74.2h.9M173.3 75.5h.9M176.7 69.3h.9M169.0 57.3h.9M173.3 64.8h.9M173.1 64.2h.9M162.9 57.8h.9M173.3 72.7h.9M165.9 67.2h.9M178.4 58.9h.9M165.5 57.1h.9M176.9 66.0h.9M164.6 53.6h.9M166.7 70.8h.9M165.9 61.6h.9M172.9 56.4h.9M168.5 68.2h.9M162.3 59.0h.9M169.9 63.7h.9M166.3 65.7h.9M169.8 58.4h.9M163.1 67.2h.9M176.5 73.1h.9M161.8 71.4h.9M173.8 64.2h.9M171.8 69.7h.9M181.4 57.6h.9M172.6 63.5h.9M166.6 71.8h.9M174.2 57.8h.9M166.0 65.9h.9M157.6 70.0h.9M167.6 65.4h.9M170.7 76.0h.9M168.4 62.1h.9M181.1 61.2h.9M164.3 55.5h.9M176.2 66.2h.9M171.7 65.5h.9M167.2 59.4h.9M162.4 67.2h.9M169.1 74.9h.9M162.5 61.3h.9M160.6 73.3h.9M159.0 69.4h.9M178.9 63.5h.9M165.3 53.8h.9M169.5 64.5h.9M162.5 70.5h.9M170.8 61.1h.9M164.4 55.0h.9M166.8 78.0h.9M162.9 67.1h.9M164.1 69.6h.9M171.5 62.9h.9M155.0 61.1h.9M177.1 62.9h.9M172.9 61.3h.9M154.4 67.2h.9M170.6 60.7h.9M165.5 66.3h.9M163.8 66.7h.9M167.1 60.6h.9M162.0 67.0h.9M164.6 67.9h.9M176.3 65.4h.9M156.8 59.8h.9M175.0 62.8h.9M162.2 63.9h.9M172.0 66.1h.9M173.0 59.2h.9M166.2 62.8h.9M168.1 51.0h.9M166.5 55.8h.9M178.6 74.5h.9M180.7 69.7h.9M164.7 70.6h.9M166.8 68.4h.9M161.6 60.7h.9M171.7 75.9h.9M168.1 58.4h.9M167.2 61.1h.9M167.8 70.7h.9M175.2 66.2h.9M168.3 65.3h.9M169.2 68.2h.9M168.3 67.7h.9M158.6 69.6h.9M181.2 65.7h.9M157.8 73.2h.9M166.7 68.4h.9M171.1 72.5h.9M172.9 65.3h.9M169.6 68.9h.9M160.7 60.6h.9M171.8 52.2h.9M153.9 63.0h.9M170.2 61.4h.9M158.4 68.7h.9M167.6 66.2h.9M173.1 61.1h.9M174.4 72.5h.9M171.3 73.1h.9M163.7 70.4h.9M170.3 58.2h.9M167.7 61.1h.9M164.2 65.1h.9M176.2 62.5h.9M169.2 55.1h.9M169.1 71.9h.9M174.3 67.6h.9M164.4 58.3h.9M167.6 55.9h.9M159.2 70.6h.9M161.5 76.1h.9M157.7 67.3h.9M159.6 65.6h.9M160.6 64.8h.9M167.2 61.6h.9M172.1 74.2h.9M163.9 70.2h.9M168.9 64.3h.9M163.3 52.9h.9M166.0 63.0h.9M165.0 67.6h.9M180.7 65.6h.9M169.9 67.8h.9M157.1 59.3h.9M170.8 68.0h.9M161.5 62.4h.9M167.4 63.5h.9M173.5 65.2h.9M169.5 55.4h.9M160.5 66.6h.9M156.4 66.2h.9M163.4 59.3h.9M173.1 60.1h.9M161.9 60.1h.9M166.5 70.6h.9M178.1 57.4h.9M167.8 55.6h.9M160.1 61.3h.9M174.6 69.9h.9M163.8 67.7h.9M165.5 65.2h.9M169.4 68.4h.9M163.6 63.6h.9M169.8 65.0h.9M162.3 75.5h.9M164.8 69.3h.9M169.7 72.3h.9M166.6 56.5h.9M172.0 56.5h.9M164.7 73.0h.9M157.7 63.2h.9M166.0 72.9h.9M163.1 59.2h.9M175.7 68.4h.9M155.3 68.5h.9M173.0 60.4h.9M169.8 66.1h.9M164.5 60.6h.9M163.2 62.6h.9M158.3 64.1h.9M157.0 64.9h.9M167.5 57.7h.9M174.5 76.9h.9M178.0 55.6h.9M177.6 65.8h.9M167.8 60.5h.9M168.1 73.3h.9M172.2 61.7h.9M163.2 61.7h.9M172.5 76.4h.9M160.3 64.4h.9M165.3 59.5h.9M171.1 67.9h.9M157.6 57.7h.9M177.0 66.4h.9M172.0 61.1h.9M165.3 67.3h.9M164.4 57.2h.9M168.1 70.2h.9M160.5 71.2h.9M173.4 58.8h.9M168.2 64.1h.9M172.9 68.7h.9M158.5 55.7h.9M175.8 65.1h.9M171.2 66.5h.9M179.5 56.6h.9M176.2 59.1h.9M173.5 73.0h.9M157.9 67.0h.9M166.1 62.5h.9M168.5 57.6h.9M161.0 68.6h.9M174.4 60.7h.9M176.3 66.7h.9M160.5 60.6h.9M169.9 58.2h.9M180.0 65.3h.9M171.1 57.8h.9M161.4 59.3h.9M170.2 62.7h.9M166.0 66.4h.9M169.8 73.9h.9M166.7 57.9h.9M168.1 73.8h.9M164.1 64.7h.9M165.5 67.0h.9M170.0 59.2h.9M166.5 70.4h.9M176.2 70.3h.9M174.5 62.3h.9M165.5 70.3h.9M159.5 64.0h.9M154.5 62.0h.9M162.9 56.7h.9M172.4 59.7h.9M165.4 62.7h.9M162.7 73.5h.9M164.5 65.6h.9M158.5 61.4h.9M165.8 62.4h.9M163.9 65.3h.9M179.6 63.5h.9M167.1 61.9h.9M172.3 68.9h.9M162.9 63.4h.9M169.7 65.2h.9M161.9 59.4h.9M172.0 66.4h.9M177.5 60.3h.9M169.9 55.1h.9M174.3 57.3h.9M159.0 62.4h.9M158.9 67.3h.9M169.9 75.0h.9M158.8 54.2h.9M165.9 66.8h.9M170.8 71.3h.9M157.2 59.1h.9M167.2 69.8h.9M171.7 61.7h.9M160.7 70.0h.9M166.9 74.8h.9M159.3 60.9h.9M163.2 61.5h.9M161.7 60.9h.9M167.8 61.5h.9M173.0 63.9h.9M168.2 73.8h.9M170.5 65.4h.9M168.0 64.8h.9M172.4 59.3h.9M176.6 74.4h.9M176.7 61.3h.9M156.5 61.6h.9M169.3 69.7h.9M166.8 62.5h.9M179.4 60.1h.9M176.0 70.2h.9M158.4 66.2h.9M164.1 58.4h.9M171.2 61.9h.9M170.2 57.6h.9M165.8 62.7h.9M171.4 65.3h.9M161.3 63.8h.9M173.0 76.1h.9M161.7 68.3h.9M183.7 64.8h.9M178.8 64.3h.9M154.4 69.4h.9M175.9 72.1h.9M177.0 64.2h.9M162.7 61.5h.9M167.9 67.0h.9M164.6 64.7h.9M174.6 66.5h.9M159.7 60.8h.9M158.6 57.0h.9M172.2 58.1h.9M160.5 62.7h.9M174.1 62.1h.9M165.6 70.3h.9M171.7 67.3h.9M175.2 58.0h.9M169.8 60.4h.9M175.7 69.6h.9M160.5 73.0h.9M159.6 71.9h.9M169.7 58.8h.9M159.9 62.5h.9M168.0 59.9h.9M172.3 55.5h.9M168.1 64.4h.9M154.4 66.4h.9M163.6 62.9h.9M174.9 61.3h.9M179.1 73.6h.9M176.2 72.9h.9M170.8 60.8h.9M173.0 70.6h.9M169.9 62.8h.9M156.6 68.7h.9M170.8 56.1h.9M168.9 69.0h.9M167.4 69.4h.9M173.8 54.9h.9M165.9 67.5h.9M175.0 73.4h.9M154.0 64.0h.9M173.5 72.3h.9M180.7 58.4h.9M165.4 57.6h.9M174.2 55.9h.9M176.9 70.4h.9M163.2 69.2h.9M157.7 62.9h.9M167.4 70.1h.9M170.3 66.2h.9M164.9 64.4h.9M167.2 69.1h.9M166.8 71.0h.9M155.6 72.1h.9M166.9 71.6h.9M168.8 69.9h.9M179.2 60.8h.9M168.8 63.3h.9M169.7 54.0h.9M166.9 62.8h.9M162.3 63.1h.9M156.7 73.4h.9M171.5 76.5h.9M161.7 56.9h.9M170.2 53.7h.9M169.8 59.9h.9M165.7 66.0h.9M168.5 76.3h.9M172.8 56.1h.9M175.4 55.8h.9M168.8 56.4h.9M162.0 72.8h.9M164.0 60.2h.9M164.0 62.4h.9M178.8 56.8h.9M159.0 68.1h.9M156.3 62.0h.9M176.5 64.4h.9M164.6 59.8h.9M161.3 60.5h.9M169.1 72.3h.9M175.2 60.7h.9M162.7 68.8h.9M154.6 61.5h.9M165.7 57.2h.9M160.7 66.5h.9M155.8 58.4h.9M163.2 64.8h.9M157.9 71.2h.9M165.7 62.6h.9M165.3 59.9h.9M160.7 71.6h.9M169.5 63.5h.9M175.3 59.6h.9M172.6 64.3h.9M161.3 69.1h.9M156.9 68.3h.9M161.4 66.8h.9M178.1 67.8h.9M176.5 57.5h.9M177.7 50.3h.9M184.3 55.2h.9M179.3 64.7h.9M181.1 54.8h.9M165.4 63.9h.9M179.5 61.1h.9M175.4 54.5h.9M184.2 53.7h.9M184.4 50.3h.9M170.4 51.4h.9M187.5 49.9h.9M168.8 61.5h.9M179.3 68.8h.9M191.6 61.2h.9M182.8 49.6h.9M170.8 56.7h.9M176.1 51.7h.9M170.4 54.2h.9M185.6 60.3h.9M175.0 57.0h.9M179.7 55.0h.9M175.5 50.1h.9M182.6 62.9h.9M180.3 60.6h.9M180.3 68.1h.9M179.1 52.0h.9M169.5 61.7h.9M185.7 62.0h.9M183.9 59.2h.9M166.1 54.9h.9M163.6 56.4h.9M167.0 58.8h.9M176.2 49.0h.9M183.1 61.9h.9M166.8 59.0h.9M183.0 56.9h.9M184.0 59.2h.9M185.7 59.2h.9M176.2 60.7h.9M183.5 59.5h.9M174.0 54.5h.9M174.6 55.5h.9M179.0 59.1h.9M176.8 58.2h.9M178.7 65.8h.9M186.7 55.5h.9M180.6 56.7h.9M176.6 57.1h.9M172.6 51.7h.9M158.4 59.2h.9M186.5 53.9h.9M181.3 56.4h.9M179.5 54.3h.9M175.6 57.7h.9M159.0 59.3h.9M182.4 58.0h.9M178.9 59.9h.9M174.1 53.0h.9M173.9 56.1h.9M173.6 56.2h.9M179.8 60.9h.9M172.0 53.3h.9M192.3 63.3h.9M165.3 49.6h.9M170.9 59.2h.9M181.5 56.5h.9M164.8 59.2h.9M182.0 58.2h.9M173.4 60.9h.9M176.8 52.7h.9M178.0 51.9h.9M184.8 60.4h.9M169.5 59.2h.9M176.2 66.2h.9M165.2 57.3h.9M166.2 57.8h.9M173.1 58.8h.9M180.2 60.2h.9M186.2 61.6h.9M183.0 53.4h.9M195.0 62.2h.9M183.0 63.0h.9M174.1 67.7h.9M174.3 57.7h.9M180.1 49.7h.9M172.1 57.7h.9M174.5 59.0h.9M171.2 57.6h.9M167.9 56.2h.9M166.3 61.4h.9M167.1 61.6h.9M174.0 56.7h.9M186.6 58.7h.9M162.3 60.6h.9M174.1 51.2h.9M177.9 56.6h.9M193.1 56.0h.9M192.6 65.0h.9M172.4 54.1h.9M187.7 57.5h.9M178.5 56.9h.9M167.7 56.3h.9M169.7 50.6h.9M174.9 67.0h.9M190.1 57.8h.9M178.3 60.7h.9M188.1 59.7h.9M173.5 56.2h.9M172.3 48.0h.9M183.7 57.8h.9M178.4 64.3h.9M177.8 51.6h.9M161.6 57.9h.9M168.0 59.6h.9M167.1 56.4h.9M165.6 56.3h.9M173.7 61.1h.9M188.0 57.2h.9M170.4 67.9h.9M179.4 63.7h.9M163.1 69.5h.9M145.8 80.1h.9M137.6 61.2h.9M163.8 71.7h.9M147.1 70.6h.9M160.8 68.2h.9M165.6 76.1h.9M178.5 84.6h.9M167.3 69.9h.9M154.0 66.0h.9M161.9 85.6h.9M127.3 63.7h.9M144.8 62.0h.9M129.0 66.8h.9M175.2 79.2h.9M152.5 72.3h.9M159.6 61.1h.9M155.6 70.1h.9M142.6 62.1h.9M139.8 62.6h.9M160.2 75.6h.9M157.7 70.2h.9M144.6 92.4h.9M158.3 72.7h.9M142.8 69.8h.9M130.6 58.1h.9M149.9 55.4h.9M167.1 83.2h.9M156.9 74.1h.9M154.0 76.2h.9M165.4 80.7h.9M184.2 72.3h.9M167.5 55.8h.9M149.6 59.8h.9M161.8 59.0h.9M150.0 72.3h.9M155.6 82.9h.9M176.6 67.1h.9M142.0 86.2h.9M147.3 58.4h.9M128.2 72.6h.9M168.4 87.1h.9M149.0 67.4h.9M181.3 67.5h.9M178.3 74.4h.9M156.4 69.7h.9M157.4 67.4h.9M139.9 70.7h.9M140.4 75.1h.9M153.6 69.4h.9M148.5 69.8h.9M183.4 72.0h.9M141.4 69.1h.9M164.0 70.1h.9M149.4 69.5h.9M155.0 76.0h.9M160.1 55.7h.9" stroke="#000" stroke-opacity="0.22" stroke-width=".9" fill="none"/>
<g transform="translate(142.6 57.599999999999994) rotate(-41)"><ellipse rx="6.9" ry="1.9" fill="#fff" stroke="#1a1a1a" stroke-width="1.0"/><ellipse rx="3.7950000000000004" ry="0.57" fill="#ccc"/></g>
<text x="159.5" y="25.4" font-size="12" font-weight="bold" text-anchor="middle" fill="#000" >CTL 4h</text>
<text x="199.9" y="44.8" font-size="12.5" font-weight="bold" text-anchor="end" fill="#000" >10%</text>
<text x="122.7" y="119.6" font-size="6.1" text-anchor="middle" fill="#000" stroke="#000" stroke-width=".25">10<tspan dy="-2.4">0</tspan></text>
<text x="143.9" y="119.6" font-size="6.1" text-anchor="middle" fill="#000" stroke="#000" stroke-width=".25">10<tspan dy="-2.4">1</tspan></text>
<text x="165.0" y="119.6" font-size="6.1" text-anchor="middle" fill="#000" stroke="#000" stroke-width=".25">10<tspan dy="-2.4">2</tspan></text>
<text x="186.2" y="119.6" font-size="6.1" text-anchor="middle" fill="#000" stroke="#000" stroke-width=".25">10<tspan dy="-2.4">3</tspan></text>
<text x="207.4" y="119.6" font-size="6.1" text-anchor="middle" fill="#000" stroke="#000" stroke-width=".25">10<tspan dy="-2.4">4</tspan></text>
<text x="120.7" y="112.3" font-size="6.5" text-anchor="middle" fill="#000" stroke="#000" stroke-width=".25" transform="rotate(-90 120.7 112.3)">10<tspan dy="-2.4">0</tspan></text>
<text x="120.7" y="92.3" font-size="6.5" text-anchor="middle" fill="#000" stroke="#000" stroke-width=".25" transform="rotate(-90 120.7 92.3)">10<tspan dy="-2.4">1</tspan></text>
<text x="120.7" y="72.3" font-size="6.5" text-anchor="middle" fill="#000" stroke="#000" stroke-width=".25" transform="rotate(-90 120.7 72.3)">10<tspan dy="-2.4">2</tspan></text>
<text x="120.7" y="52.3" font-size="6.5" text-anchor="middle" fill="#000" stroke="#000" stroke-width=".25" transform="rotate(-90 120.7 52.3)">10<tspan dy="-2.4">3</tspan></text>
<text x="120.7" y="32.3" font-size="6.5" text-anchor="middle" fill="#000" stroke="#000" stroke-width=".25" transform="rotate(-90 120.7 32.3)">10<tspan dy="-2.4">4</tspan></text>
<rect x="224.5" y="32.5" width="85" height="80" fill="none" stroke="#c4c4c4" stroke-width="1"/>
<line x1="251.5" y1="32.5" x2="251.5" y2="112.5" stroke="#c8c8c8" stroke-width="1"/>
<line x1="224.5" y1="87.5" x2="309.5" y2="87.5" stroke="#c8c8c8" stroke-width="1"/>
<ellipse cx="0" cy="0" rx="11" ry="5" fill="#3a3a3a" opacity="0.6" filter="url(#b15)" transform="translate(245.5 58.099999999999994) rotate(-30)"/>
<ellipse cx="0" cy="0" rx="12" ry="5" fill="#777" opacity="0.28" filter="url(#b30)" transform="translate(260.3 58.3) rotate(-5)"/>
<ellipse cx="0" cy="0" rx="10" ry="8" fill="#999" opacity="0.22" filter="url(#b30)" transform="translate(267.3 70.3) rotate(10)"/>
<path d="M241.0 65.3h.9M234.8 59.9h.9M250.3 47.8h.9M245.5 52.6h.9M244.4 59.9h.9M236.9 55.5h.9M244.2 60.8h.9M238.3 64.7h.9M250.6 53.0h.9M244.3 55.3h.9M249.3 60.5h.9M251.4 62.7h.9M240.2 68.9h.9M239.7 61.1h.9M253.6 55.5h.9M251.4 48.9h.9M245.9 57.3h.9M238.8 55.6h.9M252.4 56.3h.9M234.9 61.0h.9M241.9 69.3h.9M243.6 59.8h.9M248.7 57.9h.9M248.5 61.6h.9M249.5 61.5h.9M236.6 66.6h.9M242.8 62.5h.9M243.4 58.5h.9M244.8 65.1h.9M238.4 59.1h.9M251.7 60.4h.9M243.5 62.1h.9M238.7 63.9h.9M255.0 57.3h.9M245.7 58.7h.9M234.2 69.6h.9M250.9 61.4h.9M260.7 51.3h.9M249.7 51.9h.9M255.9 57.0h.9M256.6 55.6h.9M251.9 62.8h.9M242.0 65.7h.9M251.4 52.3h.9M238.0 67.5h.9M247.6 61.6h.9M248.3 54.6h.9M250.3 62.2h.9M242.2 61.2h.9M239.1 68.6h.9M256.4 46.1h.9M252.9 59.3h.9M240.6 61.9h.9M236.2 63.0h.9M248.1 61.5h.9M248.2 62.4h.9M244.3 55.5h.9M258.5 56.8h.9M244.3 69.5h.9M249.1 58.3h.9M235.5 70.6h.9M241.6 58.5h.9M257.4 54.2h.9M234.9 64.6h.9M255.6 61.7h.9M231.7 71.1h.9M238.9 56.6h.9M240.8 56.0h.9M245.3 68.1h.9M251.0 60.2h.9M250.7 58.4h.9M250.0 51.6h.9M244.9 64.8h.9M239.4 62.5h.9M257.7 59.1h.9M239.4 60.7h.9M250.4 58.2h.9M242.1 65.5h.9M249.8 57.7h.9M253.8 59.4h.9M241.2 64.9h.9M244.9 58.0h.9M248.1 59.7h.9M244.2 58.9h.9M248.1 50.9h.9M251.7 56.1h.9M242.4 51.2h.9M253.9 46.2h.9M240.9 66.6h.9M240.4 62.0h.9M228.6 70.1h.9M248.8 61.3h.9M244.1 62.4h.9M247.4 55.8h.9M244.7 70.3h.9M242.4 68.5h.9M249.5 64.6h.9M242.3 65.1h.9M247.6 57.8h.9M246.2 56.2h.9M244.3 59.3h.9M251.0 56.1h.9M234.8 66.1h.9M243.0 57.8h.9M256.3 54.8h.9M250.1 53.5h.9M245.1 65.5h.9M236.2 68.6h.9M245.3 58.2h.9M244.0 56.3h.9M244.6 55.2h.9M239.7 71.2h.9M235.9 57.0h.9M251.0 52.8h.9M253.2 56.6h.9M257.9 51.1h.9M247.8 53.9h.9M250.4 64.3h.9M249.8 58.2h.9M230.6 69.0h.9M238.2 69.3h.9M241.2 65.1h.9M242.7 71.4h.9M237.6 66.6h.9M240.8 66.6h.9M254.9 58.0h.9M231.9 70.9h.9M245.2 58.4h.9M251.7 58.4h.9M240.8 71.5h.9M240.0 55.8h.9M259.4 58.0h.9M256.1 55.6h.9M241.4 67.8h.9M261.2 53.4h.9M255.7 49.5h.9M255.3 58.0h.9M231.2 62.5h.9M240.7 64.1h.9M248.6 57.2h.9M245.1 60.2h.9M247.8 61.6h.9M249.3 57.5h.9M246.7 57.4h.9M250.5 54.5h.9M257.7 51.7h.9M246.1 56.3h.9M243.7 62.5h.9M244.5 58.1h.9M237.4 66.3h.9M248.2 61.2h.9M254.2 52.8h.9M230.9 70.0h.9M229.4 65.5h.9M254.7 56.8h.9M239.7 61.4h.9M241.2 54.9h.9M248.5 56.6h.9M256.9 47.3h.9M251.6 52.8h.9M251.1 51.8h.9M250.2 55.0h.9M239.4 63.9h.9M250.3 59.1h.9M259.3 54.8h.9M230.3 69.2h.9M247.4 52.6h.9M237.5 66.7h.9M247.3 66.8h.9M249.4 60.3h.9M257.6 49.6h.9M243.6 57.0h.9M250.1 62.2h.9M255.8 53.0h.9M238.9 61.3h.9M235.9 67.8h.9M234.8 69.6h.9M238.4 69.2h.9M252.0 56.7h.9M252.1 56.1h.9M254.2 63.2h.9M252.5 52.4h.9M239.5 63.5h.9M244.4 61.6h.9M243.0 65.4h.9M247.0 61.2h.9M247.4 62.2h.9M240.8 71.5h.9M249.5 59.9h.9M252.9 60.6h.9M251.9 57.1h.9M240.9 55.7h.9M246.9 58.0h.9M232.4 69.9h.9M257.2 57.1h.9M252.3 49.6h.9M240.4 67.1h.9M247.8 67.3h.9M248.2 59.6h.9M248.7 57.0h.9M245.4 57.3h.9M244.7 58.8h.9M244.7 54.2h.9M236.2 69.4h.9M245.6 55.8h.9M242.0 57.9h.9M256.9 48.6h.9M248.6 57.1h.9M245.5 65.2h.9M251.5 55.0h.9M244.2 71.6h.9M256.8 53.4h.9M244.6 62.6h.9M249.5 63.6h.9M239.1 65.2h.9M243.4 68.5h.9M259.2 50.5h.9M253.4 62.0h.9M241.8 58.6h.9M255.0 56.4h.9M248.0 66.0h.9M243.8 53.1h.9M248.6 58.1h.9M260.0 50.4h.9M245.7 62.6h.9M244.8 54.3h.9M246.3 58.4h.9M235.7 62.7h.9M238.5 62.3h.9M241.2 63.9h.9M251.2 50.2h.9M230.6 62.0h.9M257.4 58.8h.9M231.1 62.7h.9M249.7 63.0h.9M254.1 55.5h.9M252.0 57.7h.9M246.5 69.2h.9M243.6 56.5h.9M239.2 57.5h.9M248.8 63.6h.9M239.5 70.3h.9M262.5 50.6h.9M235.7 63.3h.9M240.8 57.6h.9M236.4 65.7h.9M246.3 63.0h.9M241.7 72.5h.9M256.1 57.6h.9M245.4 69.2h.9M267.0 59.4h.9M257.2 65.3h.9M253.9 57.8h.9M267.6 61.8h.9M279.1 56.6h.9M243.3 64.3h.9M272.0 57.5h.9M254.0 57.4h.9M249.0 63.1h.9M267.3 61.9h.9M248.6 56.4h.9M246.4 52.2h.9M247.2 52.3h.9M258.9 61.6h.9M266.1 58.7h.9M254.1 59.8h.9M265.5 57.3h.9M260.7 57.7h.9M255.5 59.9h.9M250.5 65.6h.9M246.1 62.9h.9M248.4 68.2h.9M268.0 54.4h.9M255.6 53.9h.9M260.0 61.5h.9M271.5 55.3h.9M263.2 63.6h.9M265.5 61.0h.9M258.5 59.4h.9M262.2 65.3h.9M246.5 58.0h.9M248.4 55.4h.9M253.4 65.6h.9M249.4 60.6h.9M250.0 62.5h.9M272.3 61.3h.9M268.3 57.8h.9M259.6 62.3h.9M271.9 56.5h.9M261.1 60.5h.9M270.1 58.1h.9M250.7 65.7h.9M264.3 60.9h.9M248.6 60.3h.9M257.9 57.3h.9M266.2 66.2h.9M260.8 68.5h.9M255.2 63.7h.9M248.7 61.0h.9M257.3 58.5h.9M264.9 49.2h.9M261.0 55.1h.9M261.6 61.2h.9M256.7 57.7h.9M249.9 63.0h.9M254.3 62.1h.9M247.8 67.4h.9M251.4 66.0h.9M256.4 62.4h.9M259.3 62.9h.9M260.9 65.8h.9M266.8 62.2h.9M275.3 54.4h.9M272.3 58.6h.9M246.9 62.9h.9M259.2 68.1h.9M255.8 59.9h.9M261.6 49.4h.9M264.5 53.8h.9M274.0 66.7h.9M259.5 51.2h.9M262.0 60.1h.9M266.8 57.2h.9M249.3 59.5h.9M252.6 69.1h.9M253.5 56.5h.9M259.3 53.0h.9M256.1 59.0h.9M255.7 58.4h.9M271.9 60.5h.9M247.8 58.2h.9M266.9 55.4h.9M261.0 59.1h.9M265.1 58.0h.9M258.6 55.0h.9M263.2 54.3h.9M276.2 57.8h.9M258.6 63.5h.9M259.6 59.8h.9M259.5 55.6h.9M251.5 56.5h.9M270.4 55.2h.9M256.4 57.3h.9M267.6 68.8h.9M252.1 62.8h.9M261.3 57.7h.9M264.4 52.4h.9M268.0 59.8h.9M251.9 68.2h.9M268.6 64.5h.9M246.8 59.1h.9M255.8 62.9h.9M271.9 48.5h.9M260.4 58.6h.9M269.5 58.3h.9M248.5 59.3h.9M250.4 56.2h.9M260.5 56.8h.9M262.2 51.3h.9M266.3 52.1h.9M240.1 56.6h.9M259.2 70.9h.9M272.0 55.6h.9M271.9 64.6h.9M261.0 65.5h.9M263.0 55.7h.9M249.5 59.6h.9M268.8 51.6h.9M245.8 63.4h.9M256.6 63.4h.9M257.6 58.9h.9M262.9 64.5h.9M272.5 58.8h.9M257.2 59.4h.9M263.7 65.7h.9M262.4 68.5h.9M252.7 62.7h.9M277.0 64.5h.9M263.0 54.5h.9M253.7 59.1h.9M263.0 57.8h.9M246.6 56.7h.9M265.4 63.1h.9M247.3 58.6h.9M244.7 57.8h.9M256.9 56.6h.9M248.4 50.8h.9M259.8 57.9h.9M273.1 49.8h.9M264.9 65.8h.9M242.6 64.2h.9M245.8 63.3h.9M273.8 58.1h.9M262.6 55.5h.9M263.5 64.8h.9M258.6 58.7h.9M264.2 63.2h.9M245.3 60.9h.9M254.2 62.4h.9M269.9 60.1h.9M271.7 53.2h.9M256.1 54.6h.9M260.9 59.7h.9M257.9 53.3h.9M259.4 57.1h.9M265.7 57.4h.9M271.1 59.5h.9M243.2 59.9h.9M247.6 65.4h.9M273.4 58.0h.9M263.7 51.6h.9M239.4 58.3h.9M257.3 51.8h.9M261.3 60.8h.9M266.9 66.7h.9M267.6 56.8h.9M261.5 62.3h.9M251.3 66.9h.9M268.5 57.4h.9M268.5 63.4h.9M277.3 62.9h.9M262.6 62.7h.9M252.3 63.7h.9M246.4 62.7h.9M264.8 50.9h.9M277.5 51.9h.9M269.7 55.8h.9M262.9 55.7h.9M277.4 61.9h.9M266.9 59.6h.9M258.5 62.7h.9M261.9 58.5h.9M247.7 58.9h.9M265.8 56.5h.9M263.6 58.4h.9M250.6 55.6h.9M253.6 58.5h.9M258.6 65.3h.9M249.6 49.8h.9M266.6 56.5h.9M274.2 61.2h.9M269.3 59.3h.9M269.1 55.5h.9M253.8 57.6h.9M275.8 66.1h.9M255.5 65.8h.9M259.6 65.0h.9M258.1 64.6h.9M259.4 58.1h.9M260.5 60.3h.9M254.6 52.9h.9M276.0 56.1h.9M272.4 50.0h.9M256.9 50.3h.9M271.0 60.4h.9M264.2 66.1h.9M276.3 63.4h.9M254.7 53.1h.9M250.3 51.3h.9M277.2 57.0h.9M261.9 60.4h.9M279.0 55.0h.9M271.7 60.1h.9M258.4 49.8h.9M268.8 54.9h.9M256.6 61.0h.9M262.1 65.2h.9M254.6 60.9h.9M263.3 59.4h.9M266.9 57.6h.9M271.5 54.9h.9M247.4 60.4h.9M271.4 55.9h.9M254.8 58.2h.9M262.1 58.4h.9M262.8 50.4h.9M274.8 61.3h.9M253.4 67.2h.9M265.5 66.7h.9M250.6 68.9h.9M260.2 48.9h.9M267.5 57.3h.9M251.3 59.2h.9M243.0 64.0h.9M258.6 58.3h.9M273.8 58.5h.9M254.2 55.1h.9M260.6 65.0h.9M254.9 54.6h.9M269.2 59.0h.9M261.4 70.2h.9M249.6 61.5h.9M244.2 59.4h.9M266.6 64.8h.9M249.3 64.8h.9M267.9 58.2h.9M252.8 62.4h.9M269.6 56.6h.9M266.6 61.7h.9M278.3 54.8h.9M257.3 51.7h.9M259.3 61.7h.9M256.2 55.0h.9M271.6 57.5h.9M263.3 64.2h.9M248.2 55.8h.9M251.0 59.0h.9M254.8 53.6h.9M256.9 59.7h.9M260.8 62.2h.9M244.0 53.2h.9M267.8 56.6h.9M272.1 60.0h.9M247.9 63.4h.9M251.5 61.6h.9M260.4 63.1h.9M263.8 63.3h.9M263.6 61.6h.9M254.1 64.3h.9M270.9 58.9h.9M258.4 57.8h.9M262.5 65.4h.9M274.3 55.9h.9M251.8 56.2h.9M269.9 59.8h.9M263.7 61.7h.9M264.1 58.5h.9M250.8 57.2h.9M262.0 61.4h.9M257.1 57.6h.9M273.1 56.0h.9M262.6 57.7h.9M252.1 52.4h.9M255.4 55.7h.9M268.0 52.9h.9M257.2 63.1h.9M259.9 62.1h.9M267.6 50.3h.9M256.5 54.9h.9M273.0 57.8h.9M266.0 67.7h.9M257.5 60.1h.9M264.3 57.8h.9M272.6 62.6h.9M269.9 58.9h.9M257.4 57.9h.9M256.6 51.4h.9M264.4 63.3h.9M260.4 57.0h.9M261.1 60.6h.9M264.5 68.3h.9M253.0 62.0h.9M267.0 59.3h.9M258.1 54.5h.9M255.6 63.5h.9M273.6 55.0h.9M265.2 61.7h.9M270.0 59.9h.9M265.1 63.6h.9M250.1 60.6h.9M252.5 52.3h.9M265.7 64.1h.9M257.8 59.0h.9M258.4 58.3h.9M262.0 61.1h.9M256.1 55.9h.9M256.3 63.9h.9M257.5 67.1h.9M259.1 66.5h.9M249.5 56.9h.9M265.2 61.5h.9M260.1 69.8h.9M261.4 60.8h.9M256.2 68.2h.9M268.6 60.8h.9M246.0 62.6h.9M256.6 61.8h.9M268.5 55.0h.9M263.0 63.7h.9M261.9 57.7h.9M250.8 56.9h.9M249.6 65.4h.9M261.0 53.3h.9M260.0 53.0h.9M270.5 51.1h.9M254.2 61.0h.9M256.8 55.5h.9M255.9 58.6h.9M255.7 60.9h.9M258.2 55.8h.9M260.1 51.1h.9M272.8 49.6h.9M260.0 61.2h.9M264.4 60.4h.9M271.4 52.8h.9M260.0 60.2h.9M255.9 56.8h.9M271.8 54.9h.9M256.1 58.4h.9M258.7 60.4h.9M258.9 61.4h.9M262.0 61.7h.9M272.5 54.1h.9M275.1 55.9h.9M266.6 59.7h.9M257.0 49.9h.9M274.6 54.4h.9M253.9 65.3h.9M262.0 68.8h.9M275.9 61.6h.9M263.1 63.0h.9M248.8 61.3h.9M261.6 56.9h.9M262.2 51.9h.9M269.1 65.1h.9M249.0 61.1h.9M274.5 60.3h.9M250.9 55.3h.9M268.9 67.8h.9M250.8 60.4h.9M253.5 58.6h.9M263.2 58.9h.9M255.3 70.3h.9M259.0 58.6h.9M270.4 58.6h.9M259.1 64.2h.9M251.6 63.9h.9M269.9 61.9h.9M258.9 59.5h.9M245.2 60.1h.9M263.4 63.4h.9M261.6 57.3h.9M253.0 59.8h.9M262.2 65.2h.9M260.3 56.9h.9M259.3 57.1h.9M257.4 48.7h.9M245.8 54.7h.9M264.6 58.6h.9M262.3 65.0h.9M251.7 65.8h.9M263.6 55.6h.9M273.1 51.2h.9M250.4 59.2h.9M264.0 58.1h.9M241.4 59.6h.9M272.7 58.9h.9M250.9 61.9h.9M250.2 61.3h.9M263.5 57.1h.9M282.8 67.8h.9M273.7 68.3h.9M256.0 76.8h.9M270.3 70.6h.9M270.3 68.3h.9M255.3 80.4h.9M274.6 72.3h.9M273.9 79.9h.9M264.5 73.0h.9M263.3 73.2h.9M263.2 72.2h.9M271.5 67.2h.9M275.4 69.8h.9M263.3 68.3h.9M258.8 76.6h.9M271.2 77.2h.9M254.7 68.8h.9M260.1 68.4h.9M277.9 72.8h.9M264.0 76.9h.9M273.5 84.2h.9M250.1 68.4h.9M264.4 61.8h.9M269.5 60.5h.9M262.2 82.3h.9M262.1 59.2h.9M249.9 63.2h.9M264.7 69.6h.9M255.2 61.0h.9M246.7 66.6h.9M276.6 74.5h.9M269.6 72.1h.9M256.4 75.2h.9M255.2 81.4h.9M271.4 55.7h.9M272.1 84.9h.9M263.3 76.4h.9M265.9 64.0h.9M262.6 71.1h.9M258.1 60.5h.9M277.4 67.8h.9M265.1 59.0h.9M267.9 75.0h.9M263.2 66.8h.9M254.4 77.4h.9M261.7 66.8h.9M282.3 69.9h.9M254.5 59.7h.9M261.5 81.6h.9M269.3 67.7h.9M272.7 79.9h.9M258.4 78.4h.9M274.1 73.7h.9M279.8 69.2h.9M287.5 73.2h.9M257.2 71.8h.9M268.6 75.7h.9M263.4 78.4h.9M262.0 69.2h.9M257.0 61.1h.9M269.8 64.5h.9M263.4 66.8h.9M268.4 75.2h.9M272.6 77.9h.9M269.7 65.3h.9M253.4 64.0h.9M262.4 54.3h.9M269.6 73.8h.9M268.3 63.4h.9M284.0 65.9h.9M255.6 59.3h.9M261.3 68.4h.9M272.2 58.3h.9M267.3 86.4h.9M260.9 67.0h.9M271.8 79.2h.9M262.4 60.8h.9M256.6 75.7h.9M278.1 54.3h.9M253.1 69.8h.9M266.5 84.1h.9M274.1 71.3h.9M278.9 64.3h.9M254.5 67.1h.9M277.7 58.5h.9M274.0 77.0h.9M262.4 69.6h.9M264.6 69.3h.9M275.5 64.4h.9M275.3 77.3h.9M277.9 55.8h.9M249.5 71.3h.9M262.8 63.0h.9M262.0 57.8h.9M265.5 63.2h.9M260.6 71.7h.9M255.0 75.7h.9M254.1 71.3h.9M275.4 70.5h.9M274.0 69.5h.9M250.8 68.9h.9M278.2 66.8h.9M252.6 61.9h.9M269.7 71.9h.9M276.4 75.0h.9M274.4 54.9h.9M287.2 73.0h.9M275.4 67.9h.9M265.7 69.3h.9M279.3 83.0h.9M270.1 85.0h.9M262.9 72.4h.9M261.3 78.1h.9M266.2 76.6h.9M286.4 75.0h.9M266.8 54.2h.9M267.5 51.3h.9M268.2 68.0h.9M284.1 69.6h.9M275.4 79.7h.9M286.2 70.6h.9M276.1 58.9h.9M257.5 65.4h.9M268.6 60.0h.9M262.5 73.8h.9M263.3 67.3h.9M257.3 78.2h.9M283.1 73.6h.9M264.0 81.6h.9M272.5 64.9h.9M255.8 62.6h.9M288.0 68.3h.9M263.5 78.9h.9M264.5 71.7h.9M259.5 58.2h.9M260.3 69.8h.9M263.8 53.3h.9M271.8 68.8h.9M265.5 64.2h.9M262.2 72.5h.9M278.4 80.1h.9M269.1 69.7h.9M268.9 76.6h.9M273.1 66.8h.9M270.9 72.9h.9M273.3 72.0h.9M279.5 73.0h.9M275.3 71.0h.9M263.3 61.2h.9M265.1 73.1h.9M278.9 70.6h.9M263.2 64.6h.9M278.9 72.2h.9M261.7 74.1h.9M255.1 68.1h.9M267.1 68.2h.9M255.5 74.9h.9M284.4 62.0h.9M267.5 74.4h.9M288.4 69.8h.9M258.7 67.7h.9M285.5 73.0h.9M267.3 83.2h.9M274.5 76.6h.9M254.0 71.0h.9M267.4 71.0h.9M260.6 64.6h.9M259.3 68.3h.9M263.0 81.7h.9M275.1 58.4h.9M269.2 80.8h.9M268.4 78.0h.9M266.0 74.6h.9M257.8 73.8h.9M253.0 76.9h.9M272.4 68.8h.9M267.8 72.7h.9M268.2 62.6h.9M268.8 72.3h.9M269.1 85.1h.9M260.5 68.6h.9M273.0 66.8h.9M257.2 63.1h.9M277.3 69.0h.9M273.8 64.7h.9M272.3 64.9h.9M259.5 68.8h.9M265.8 80.5h.9M251.9 70.6h.9M280.1 82.2h.9M264.7 63.5h.9M262.4 70.8h.9M268.6 72.3h.9M274.2 62.2h.9M258.7 58.2h.9M255.2 66.4h.9M272.1 70.3h.9M281.2 66.0h.9M269.1 77.2h.9M273.9 73.6h.9M265.8 59.3h.9M266.7 64.5h.9M273.7 69.4h.9M274.6 58.0h.9M277.3 64.4h.9M254.9 56.4h.9M260.1 76.8h.9M275.3 61.6h.9M268.2 68.6h.9M254.4 59.3h.9M249.9 59.4h.9M259.9 61.8h.9M258.3 76.7h.9M263.8 70.6h.9M273.0 77.3h.9M274.2 66.2h.9M258.4 61.7h.9M263.0 68.6h.9M265.1 77.5h.9M264.0 82.7h.9M277.3 67.3h.9M279.2 74.6h.9M273.1 57.2h.9M264.5 77.6h.9M266.7 62.6h.9M274.6 62.7h.9M273.8 71.5h.9M279.1 61.9h.9M278.2 73.5h.9M286.1 67.5h.9M283.2 77.6h.9M275.4 65.1h.9M271.5 75.3h.9M261.3 59.2h.9M258.3 79.1h.9M267.5 76.6h.9M269.8 70.6h.9M269.9 66.6h.9M278.1 72.6h.9M271.2 59.2h.9M271.0 64.7h.9M261.4 76.3h.9M257.7 66.0h.9M271.5 79.0h.9M262.2 70.9h.9M271.4 61.2h.9M272.6 71.0h.9M256.0 62.3h.9M264.1 66.0h.9M264.1 85.9h.9M260.0 69.1h.9M261.2 63.3h.9M259.6 66.1h.9M261.8 71.0h.9M270.4 62.9h.9M286.2 63.5h.9M267.6 86.2h.9M259.1 78.2h.9M279.7 74.1h.9M248.7 77.1h.9M268.9 65.3h.9M279.8 65.9h.9M277.7 66.9h.9M273.6 62.0h.9M264.9 61.7h.9M260.6 69.6h.9M265.5 70.4h.9M279.1 70.5h.9M250.8 64.1h.9M266.7 77.1h.9M275.4 78.1h.9M264.4 73.8h.9M252.5 76.7h.9M270.6 73.8h.9M263.8 69.1h.9M260.5 72.5h.9M254.0 74.5h.9M269.5 85.4h.9M267.1 68.5h.9M269.0 69.9h.9M267.8 60.8h.9M258.0 63.3h.9M266.2 59.9h.9M257.2 65.3h.9M274.3 69.0h.9M272.1 77.7h.9M274.8 67.3h.9M266.1 54.6h.9M260.5 71.7h.9M255.7 77.8h.9M280.8 68.8h.9M277.5 60.1h.9M258.3 64.8h.9M267.6 67.9h.9M256.9 82.8h.9M269.6 71.9h.9M273.2 71.7h.9M265.9 64.7h.9M250.5 78.0h.9M261.2 55.3h.9M262.1 55.9h.9M284.9 75.2h.9M278.1 82.5h.9M271.7 74.5h.9M260.9 67.5h.9M261.8 68.7h.9M259.3 77.7h.9M274.4 69.7h.9M251.3 71.8h.9M275.4 70.2h.9M255.3 70.5h.9M279.4 56.5h.9M274.8 56.5h.9M265.7 82.6h.9M267.5 73.1h.9M264.4 68.7h.9M265.0 65.9h.9M264.6 85.9h.9M267.7 78.0h.9M265.7 59.1h.9M279.4 70.8h.9M261.1 62.8h.9M262.0 63.7h.9M251.8 75.9h.9M269.5 77.2h.9M263.7 71.4h.9M267.3 78.4h.9M274.2 73.3h.9M263.0 59.2h.9M260.9 63.3h.9M264.1 59.1h.9M281.9 74.0h.9M250.6 57.9h.9M254.9 69.0h.9M278.2 63.6h.9M273.2 68.2h.9M275.8 81.4h.9M269.2 75.2h.9M267.8 66.5h.9M256.4 69.9h.9M267.2 66.3h.9M266.9 67.8h.9M258.7 63.7h.9M277.9 69.4h.9M281.4 62.9h.9M255.0 68.1h.9M275.1 65.6h.9M271.7 77.3h.9M277.1 70.2h.9M269.0 56.9h.9M267.1 71.4h.9M281.7 62.0h.9M261.0 60.5h.9M254.9 83.0h.9M274.9 60.4h.9M265.6 75.5h.9M272.5 68.5h.9M259.1 74.3h.9M266.2 75.3h.9M271.5 66.4h.9M280.9 67.9h.9M272.0 65.3h.9M265.6 67.1h.9M261.1 70.0h.9M276.6 85.2h.9M280.4 70.3h.9M279.8 74.7h.9M285.0 62.7h.9M281.4 67.2h.9M278.3 67.7h.9M275.8 68.6h.9M251.8 59.1h.9M265.1 69.1h.9M261.0 66.6h.9M270.4 63.5h.9M253.3 69.2h.9M263.2 75.4h.9M261.8 73.3h.9M259.0 69.9h.9M267.5 72.8h.9M259.1 66.9h.9M259.9 66.8h.9M266.7 74.7h.9M266.8 77.9h.9M270.1 77.8h.9M281.8 58.8h.9M269.9 70.4h.9M248.8 59.5h.9M264.2 63.1h.9M270.8 56.2h.9M273.0 76.3h.9M270.9 67.4h.9M268.0 65.9h.9M276.9 74.9h.9M285.6 69.7h.9M281.0 67.3h.9M267.2 61.3h.9M272.1 69.7h.9M270.9 81.4h.9M266.3 72.1h.9M275.4 70.3h.9M262.0 71.1h.9M270.8 75.9h.9M275.6 65.7h.9M269.7 79.2h.9M262.7 71.3h.9M261.6 69.6h.9M282.6 73.4h.9M258.3 70.4h.9M267.8 78.0h.9M256.4 60.4h.9M268.7 57.7h.9M280.1 56.1h.9M261.9 57.1h.9M260.5 74.3h.9M271.5 77.2h.9M275.4 55.3h.9M272.4 56.2h.9M263.4 65.7h.9M261.9 72.2h.9M257.9 80.9h.9M271.1 79.1h.9M272.9 77.2h.9M264.4 83.8h.9M257.4 71.1h.9M267.7 67.7h.9M271.2 64.3h.9M274.1 76.5h.9M267.3 75.0h.9M260.5 54.4h.9M262.5 66.7h.9M275.4 77.3h.9M286.0 73.5h.9M273.4 69.0h.9M261.0 60.6h.9M258.5 78.7h.9M270.1 68.7h.9M268.3 65.2h.9M267.1 69.0h.9M272.0 77.1h.9M252.5 68.5h.9M280.9 64.0h.9M264.9 70.2h.9M276.4 75.5h.9M264.8 72.7h.9M276.1 73.9h.9M283.3 75.4h.9M259.1 62.0h.9M266.5 67.7h.9M272.4 73.0h.9M281.5 78.1h.9M281.6 66.1h.9M262.7 73.8h.9M267.4 74.2h.9M270.4 65.2h.9M281.0 80.5h.9M254.4 62.4h.9M266.7 74.5h.9M268.5 59.3h.9M275.1 69.2h.9M277.7 73.6h.9M275.2 77.2h.9M275.9 67.1h.9M276.3 72.6h.9M256.9 64.6h.9M263.8 72.4h.9M275.0 62.3h.9M274.0 70.1h.9M257.0 74.0h.9M262.3 59.5h.9M273.0 77.3h.9M260.3 76.3h.9M277.0 67.2h.9M285.2 72.2h.9M272.6 52.3h.9M273.9 66.0h.9M273.6 57.6h.9M275.8 82.1h.9M272.3 73.0h.9M264.9 79.9h.9M259.9 69.8h.9M266.6 72.2h.9M262.9 75.6h.9M277.9 61.1h.9M278.5 65.9h.9M263.7 77.5h.9M267.7 74.0h.9M273.8 75.3h.9M264.1 61.8h.9M272.7 76.3h.9M271.0 68.9h.9M275.3 70.8h.9M255.2 69.7h.9M271.1 76.2h.9M260.8 62.8h.9M271.2 67.0h.9M265.9 76.6h.9M268.8 83.8h.9M268.1 82.9h.9M268.0 69.3h.9M280.0 68.1h.9M263.4 71.0h.9M273.0 60.2h.9M270.5 68.1h.9M267.4 71.2h.9M264.8 77.6h.9M272.5 69.4h.9M267.3 77.8h.9M273.2 80.6h.9M266.6 70.9h.9M285.8 73.0h.9M281.7 79.0h.9M266.1 59.2h.9M274.5 66.0h.9M264.0 56.4h.9M278.4 72.8h.9M267.8 73.1h.9M270.1 71.3h.9M273.0 69.0h.9M271.8 71.1h.9M236.0 82.2h.9M257.9 73.4h.9M236.9 84.9h.9M240.5 65.2h.9M241.1 79.8h.9M259.1 70.6h.9M248.2 71.8h.9M254.6 76.4h.9M245.2 66.7h.9M239.0 71.9h.9M242.3 72.8h.9M238.5 74.6h.9M245.0 64.2h.9M243.7 75.3h.9M242.7 62.8h.9M240.9 64.4h.9M246.1 84.6h.9M251.7 71.7h.9M236.6 70.0h.9M246.1 69.2h.9M233.3 68.3h.9M236.6 83.8h.9M227.9 64.0h.9M248.8 66.7h.9M240.6 75.7h.9M242.5 68.3h.9M252.2 86.0h.9M231.6 72.2h.9M252.4 72.7h.9M231.7 71.0h.9M251.3 66.6h.9M245.1 77.3h.9M235.4 78.7h.9M249.5 82.1h.9M252.3 62.8h.9M251.9 78.9h.9M252.8 67.7h.9M252.0 77.2h.9M230.0 84.2h.9M234.0 66.5h.9M246.6 69.7h.9M246.2 72.4h.9M245.4 80.7h.9M242.0 81.1h.9M251.4 67.9h.9M251.5 79.2h.9M243.8 83.0h.9M260.1 80.3h.9M226.7 77.8h.9M241.0 72.3h.9M246.1 71.8h.9M259.8 76.5h.9M242.6 80.5h.9M251.0 83.6h.9M249.2 74.1h.9M243.9 57.7h.9M226.8 82.5h.9M239.0 88.5h.9M261.7 64.7h.9M234.1 77.5h.9M240.0 72.6h.9M239.5 74.3h.9M250.6 68.2h.9M247.9 69.0h.9M248.1 76.9h.9M234.2 75.5h.9M234.6 67.9h.9M254.9 60.3h.9M248.4 79.9h.9M236.2 82.9h.9M252.2 64.4h.9M248.1 78.1h.9M234.6 78.9h.9M250.5 68.8h.9M234.6 61.1h.9M238.4 55.9h.9M238.9 86.1h.9M232.6 71.2h.9M232.8 79.4h.9M242.4 68.4h.9M228.5 71.1h.9M254.8 65.0h.9M246.9 77.1h.9M242.1 91.8h.9M261.1 72.5h.9M240.8 66.6h.9M227.8 80.6h.9M239.8 71.3h.9M240.7 79.7h.9M252.6 74.4h.9M240.4 75.2h.9M230.1 78.2h.9M244.1 84.1h.9M256.6 89.9h.9M233.9 79.3h.9M240.0 82.1h.9M244.5 81.4h.9M234.5 75.8h.9M237.0 72.4h.9M237.7 66.4h.9M254.6 76.8h.9M254.3 66.7h.9M240.9 80.7h.9M253.9 84.1h.9M259.1 80.2h.9M243.8 68.5h.9M250.0 70.6h.9M233.9 79.1h.9M244.9 81.2h.9M234.8 83.7h.9M246.5 73.2h.9M234.4 66.0h.9M227.9 85.5h.9M227.3 79.5h.9M239.9 70.0h.9M237.5 73.7h.9M252.3 78.9h.9M242.6 63.7h.9M231.7 62.2h.9M254.7 62.7h.9M250.6 81.8h.9M245.3 82.1h.9M227.6 64.9h.9M240.5 74.5h.9M241.7 78.1h.9M234.6 57.8h.9M246.9 72.7h.9M251.3 90.8h.9M243.4 79.0h.9M232.9 81.6h.9M246.2 76.4h.9M252.4 65.6h.9M248.6 78.1h.9M259.7 60.3h.9M241.6 91.7h.9M238.1 71.0h.9M243.8 68.9h.9M236.1 71.4h.9M233.4 68.1h.9M244.4 74.8h.9M247.7 74.7h.9M229.5 80.3h.9M245.2 69.9h.9M239.6 77.0h.9M243.4 73.4h.9M250.8 82.8h.9M239.1 74.3h.9M230.5 73.1h.9M247.7 81.2h.9M244.3 73.8h.9M234.8 76.1h.9M230.7 75.5h.9M242.7 67.3h.9M246.0 72.8h.9M249.0 70.7h.9M247.7 86.7h.9M244.4 80.6h.9M235.6 71.7h.9M230.3 75.3h.9M243.4 77.5h.9M232.6 78.5h.9M245.0 78.0h.9M252.8 75.2h.9M251.6 60.4h.9M235.5 86.2h.9M249.0 82.0h.9M235.8 76.6h.9M250.1 65.5h.9M240.1 72.5h.9M239.3 68.9h.9M228.9 77.8h.9M245.1 83.4h.9M241.7 69.1h.9M226.8 75.1h.9M239.1 90.2h.9M232.7 63.5h.9M239.9 67.4h.9M257.7 75.3h.9M238.0 74.3h.9M255.9 67.0h.9M247.7 64.0h.9M240.2 69.2h.9M245.8 75.6h.9M255.3 79.7h.9M235.9 64.0h.9M233.6 71.0h.9M239.9 68.4h.9M254.0 81.7h.9M239.5 70.5h.9M239.8 74.0h.9M242.1 61.7h.9M237.7 59.7h.9M242.8 79.6h.9M230.9 75.6h.9" stroke="#000" stroke-opacity="0.22" stroke-width=".9" fill="none"/>
<g transform="translate(245.5 57.9) rotate(-32)"><ellipse rx="5.2" ry="2.4" fill="#fff" stroke="#1a1a1a" stroke-width="1.2"/><ellipse rx="2.8600000000000003" ry="0.72" fill="#ccc"/></g>
<text x="265.7" y="10.7" font-size="12" font-weight="bold" text-anchor="middle" fill="#000" >CTL+</text>
<text x="266" y="25.2" font-size="12" font-weight="bold" text-anchor="middle" fill="#000" >T2(w/o peptide)</text>
<text x="304.5" y="44.8" font-size="12.5" font-weight="bold" text-anchor="end" fill="#000" >27%</text>
<text x="224.5" y="119.6" font-size="6.1" text-anchor="middle" fill="#000" stroke="#000" stroke-width=".25">10<tspan dy="-2.4">0</tspan></text>
<text x="245.7" y="119.6" font-size="6.1" text-anchor="middle" fill="#000" stroke="#000" stroke-width=".25">10<tspan dy="-2.4">1</tspan></text>
<text x="266.9" y="119.6" font-size="6.1" text-anchor="middle" fill="#000" stroke="#000" stroke-width=".25">10<tspan dy="-2.4">2</tspan></text>
<text x="288.0" y="119.6" font-size="6.1" text-anchor="middle" fill="#000" stroke="#000" stroke-width=".25">10<tspan dy="-2.4">3</tspan></text>
<text x="309.2" y="119.6" font-size="6.1" text-anchor="middle" fill="#000" stroke="#000" stroke-width=".25">10<tspan dy="-2.4">4</tspan></text>
<text x="222.5" y="112.3" font-size="6.5" text-anchor="middle" fill="#000" stroke="#000" stroke-width=".25" transform="rotate(-90 222.5 112.3)">10<tspan dy="-2.4">0</tspan></text>
<text x="222.5" y="92.3" font-size="6.5" text-anchor="middle" fill="#000" stroke="#000" stroke-width=".25" transform="rotate(-90 222.5 92.3)">10<tspan dy="-2.4">1</tspan></text>
<text x="222.5" y="72.3" font-size="6.5" text-anchor="middle" fill="#000" stroke="#000" stroke-width=".25" transform="rotate(-90 222.5 72.3)">10<tspan dy="-2.4">2</tspan></text>
<text x="222.5" y="52.3" font-size="6.5" text-anchor="middle" fill="#000" stroke="#000" stroke-width=".25" transform="rotate(-90 222.5 52.3)">10<tspan dy="-2.4">3</tspan></text>
<text x="222.5" y="32.3" font-size="6.5" text-anchor="middle" fill="#000" stroke="#000" stroke-width=".25" transform="rotate(-90 222.5 32.3)">10<tspan dy="-2.4">4</tspan></text>
<rect x="326.5" y="32.5" width="85" height="80" fill="none" stroke="#c4c4c4" stroke-width="1"/>
<line x1="353.5" y1="32.5" x2="353.5" y2="112.5" stroke="#c8c8c8" stroke-width="1"/>
<line x1="326.5" y1="87.5" x2="411.5" y2="87.5" stroke="#c8c8c8" stroke-width="1"/>
<ellipse cx="0" cy="0" rx="12.5" ry="5.2" fill="#3a3a3a" opacity="0.6" filter="url(#b15)" transform="translate(349.8 57.8) rotate(-30)"/>
<ellipse cx="0" cy="0" rx="14" ry="5" fill="#666" opacity="0.32" filter="url(#b30)" transform="translate(366.2 58.3) rotate(-5)"/>
<ellipse cx="0" cy="0" rx="10" ry="8" fill="#999" opacity="0.22" filter="url(#b30)" transform="translate(368.2 69.3) rotate(10)"/>
<path d="M350.3 59.1h.9M341.2 60.2h.9M348.6 60.9h.9M338.0 66.4h.9M351.9 58.3h.9M352.3 54.6h.9M353.4 61.9h.9M354.3 59.1h.9M346.3 57.4h.9M352.7 56.5h.9M343.3 67.2h.9M335.5 65.6h.9M357.1 60.1h.9M346.3 62.2h.9M353.2 57.6h.9M344.0 65.3h.9M350.6 59.9h.9M358.4 56.4h.9M345.9 62.9h.9M362.8 49.1h.9M345.5 58.7h.9M349.4 54.3h.9M354.1 60.9h.9M341.4 60.9h.9M337.6 67.2h.9M339.1 63.2h.9M344.5 59.8h.9M358.8 62.1h.9M330.9 67.1h.9M349.0 55.5h.9M345.4 63.4h.9M362.3 58.1h.9M347.1 62.1h.9M346.0 61.3h.9M336.4 59.5h.9M348.2 65.3h.9M351.4 50.4h.9M346.4 59.0h.9M349.2 55.2h.9M355.8 55.5h.9M355.4 60.7h.9M333.6 68.3h.9M361.0 53.6h.9M358.1 57.1h.9M345.8 63.5h.9M359.9 60.0h.9M358.2 50.0h.9M352.9 51.8h.9M347.7 60.2h.9M354.7 58.6h.9M357.7 52.6h.9M356.5 57.9h.9M346.8 56.1h.9M354.2 58.8h.9M355.2 56.6h.9M347.9 62.8h.9M354.1 60.6h.9M362.7 49.7h.9M355.0 53.2h.9M363.0 48.2h.9M355.4 52.1h.9M342.0 68.2h.9M354.5 54.0h.9M359.3 49.8h.9M341.9 64.9h.9M342.2 66.4h.9M332.8 70.6h.9M342.9 59.5h.9M350.4 58.6h.9M347.3 65.1h.9M352.2 60.3h.9M359.4 54.1h.9M354.9 55.1h.9M354.9 59.4h.9M341.9 57.5h.9M337.4 62.8h.9M353.2 57.3h.9M347.8 63.3h.9M357.6 61.8h.9M345.6 64.9h.9M352.8 53.9h.9M348.3 56.6h.9M348.3 62.8h.9M334.2 64.9h.9M343.1 64.2h.9M344.2 64.9h.9M341.5 62.4h.9M354.5 58.7h.9M350.3 59.5h.9M359.7 60.5h.9M344.9 59.5h.9M344.6 70.9h.9M339.6 59.8h.9M353.3 62.7h.9M339.4 65.4h.9M336.7 64.3h.9M362.1 53.6h.9M347.3 61.7h.9M351.2 58.7h.9M337.6 61.5h.9M363.2 48.7h.9M357.0 52.5h.9M360.6 56.9h.9M351.5 68.2h.9M341.5 63.7h.9M341.0 61.5h.9M344.5 58.6h.9M349.8 67.2h.9M333.2 63.8h.9M340.9 63.0h.9M358.4 58.3h.9M353.3 58.9h.9M340.2 65.4h.9M350.3 58.6h.9M340.1 59.6h.9M345.6 59.1h.9M343.3 58.7h.9M360.5 55.9h.9M362.5 50.2h.9M349.1 59.2h.9M348.8 59.3h.9M344.0 54.3h.9M348.5 63.9h.9M333.4 67.8h.9M356.1 62.1h.9M349.4 62.2h.9M365.3 56.9h.9M344.5 60.2h.9M357.5 56.5h.9M344.5 61.9h.9M351.2 58.2h.9M346.8 60.6h.9M341.1 72.9h.9M361.6 60.1h.9M348.4 61.3h.9M355.3 60.6h.9M335.7 69.7h.9M341.3 64.5h.9M347.4 69.1h.9M353.3 57.8h.9M359.8 53.8h.9M343.2 62.9h.9M346.5 62.1h.9M355.5 56.1h.9M350.7 64.1h.9M353.3 62.3h.9M347.6 55.2h.9M337.2 59.6h.9M358.8 56.6h.9M343.6 59.0h.9M351.7 58.2h.9M350.0 56.0h.9M343.7 70.6h.9M341.8 64.5h.9M355.9 48.0h.9M354.7 57.4h.9M348.6 61.9h.9M363.2 50.9h.9M358.3 60.1h.9M352.3 60.6h.9M357.8 62.5h.9M355.5 62.4h.9M346.1 60.1h.9M350.7 61.3h.9M357.2 64.6h.9M355.8 56.8h.9M365.2 52.6h.9M353.0 60.4h.9M344.5 58.0h.9M349.6 58.6h.9M342.8 64.6h.9M346.5 59.2h.9M335.2 67.6h.9M364.5 55.5h.9M357.5 55.4h.9M356.0 53.3h.9M346.7 64.1h.9M338.3 66.8h.9M354.9 64.7h.9M344.7 64.9h.9M343.1 61.3h.9M359.1 57.0h.9M351.0 53.7h.9M347.6 61.0h.9M359.8 50.1h.9M354.4 61.8h.9M343.2 64.2h.9M333.9 69.6h.9M331.5 68.8h.9M363.3 54.0h.9M349.9 60.6h.9M367.0 52.6h.9M356.4 54.2h.9M343.8 58.6h.9M346.5 58.7h.9M358.1 58.1h.9M347.3 59.0h.9M352.9 61.2h.9M348.4 56.1h.9M346.6 59.6h.9M350.1 51.3h.9M346.7 66.1h.9M349.2 56.5h.9M353.3 59.3h.9M343.8 66.6h.9M354.2 56.8h.9M354.2 52.1h.9M354.8 56.2h.9M340.8 62.4h.9M357.1 53.2h.9M345.3 59.6h.9M345.1 67.1h.9M354.7 60.6h.9M345.6 60.1h.9M343.1 70.4h.9M345.2 59.3h.9M344.7 63.8h.9M345.1 62.8h.9M353.2 64.1h.9M340.3 66.8h.9M343.1 61.9h.9M363.0 55.2h.9M347.3 63.7h.9M351.3 64.2h.9M346.5 64.1h.9M347.7 61.2h.9M346.9 58.8h.9M352.0 63.2h.9M343.9 61.7h.9M350.6 56.1h.9M357.4 58.8h.9M330.3 68.3h.9M342.6 67.9h.9M354.1 52.0h.9M343.9 63.1h.9M347.9 64.4h.9M358.0 58.0h.9M359.5 58.6h.9M347.9 59.1h.9M345.2 66.4h.9M358.2 59.8h.9M346.0 60.4h.9M353.8 63.4h.9M352.5 59.5h.9M343.8 65.5h.9M351.6 54.7h.9M361.0 49.4h.9M356.1 55.5h.9M349.0 56.9h.9M346.4 65.2h.9M357.6 58.7h.9M355.7 58.7h.9M362.3 58.6h.9M357.2 58.8h.9M369.4 55.1h.9M360.1 53.3h.9M364.5 59.1h.9M367.1 58.0h.9M381.1 55.5h.9M371.5 60.4h.9M373.7 58.6h.9M369.6 64.7h.9M367.6 55.9h.9M374.7 63.3h.9M382.6 56.8h.9M376.9 58.8h.9M369.3 59.8h.9M374.7 57.6h.9M385.7 55.0h.9M389.7 57.3h.9M366.3 51.4h.9M352.4 52.3h.9M377.0 59.3h.9M350.2 58.1h.9M371.6 51.4h.9M377.8 51.8h.9M379.8 57.6h.9M361.2 51.6h.9M365.0 57.2h.9M367.0 55.2h.9M366.5 60.8h.9M359.3 57.1h.9M373.0 57.1h.9M377.4 62.8h.9M364.9 58.4h.9M374.9 52.8h.9M381.4 49.5h.9M381.9 54.7h.9M358.1 56.1h.9M365.5 53.6h.9M354.5 56.1h.9M378.0 58.4h.9M381.7 54.3h.9M364.8 56.3h.9M369.9 59.0h.9M386.1 59.1h.9M370.3 62.4h.9M360.3 52.8h.9M375.1 57.6h.9M369.8 60.8h.9M365.0 57.1h.9M372.3 59.6h.9M378.2 57.3h.9M380.3 50.7h.9M364.7 51.5h.9M384.4 54.4h.9M366.7 56.8h.9M375.8 59.9h.9M367.3 61.6h.9M359.4 60.4h.9M362.2 60.3h.9M361.5 56.0h.9M382.8 52.3h.9M356.7 60.1h.9M365.5 55.8h.9M367.3 65.5h.9M357.9 56.8h.9M369.7 53.7h.9M368.0 59.2h.9M359.4 62.0h.9M356.8 57.4h.9M350.8 59.3h.9M379.2 57.6h.9M354.0 59.6h.9M359.4 58.1h.9M353.4 60.9h.9M381.2 58.6h.9M364.7 56.6h.9M367.7 57.3h.9M360.8 55.9h.9M374.2 54.7h.9M360.1 55.6h.9M364.7 58.1h.9M363.3 56.8h.9M361.0 62.4h.9M369.0 56.1h.9M371.1 57.0h.9M352.5 57.4h.9M384.8 58.4h.9M379.8 54.1h.9M353.2 55.4h.9M381.5 52.8h.9M360.5 61.9h.9M365.7 56.7h.9M372.0 57.4h.9M365.2 58.4h.9M361.1 57.5h.9M374.5 52.9h.9M365.8 53.1h.9M375.8 59.2h.9M377.8 60.7h.9M378.6 59.5h.9M360.6 61.3h.9M371.2 59.4h.9M356.1 62.0h.9M379.6 50.7h.9M362.5 55.8h.9M362.0 62.9h.9M378.6 55.8h.9M364.1 62.1h.9M360.8 62.2h.9M363.3 61.9h.9M373.9 55.4h.9M360.5 57.1h.9M379.8 56.7h.9M352.4 57.3h.9M373.4 53.0h.9M368.0 55.7h.9M353.5 59.8h.9M356.6 55.0h.9M380.3 52.4h.9M374.4 61.5h.9M378.2 58.5h.9M365.5 52.1h.9M369.7 58.9h.9M362.8 53.8h.9M376.6 52.8h.9M372.4 55.2h.9M351.6 64.3h.9M374.3 59.0h.9M353.9 57.5h.9M370.7 54.3h.9M374.7 49.7h.9M352.1 53.2h.9M373.5 54.2h.9M361.0 54.1h.9M352.9 54.6h.9M357.9 56.5h.9M361.5 62.1h.9M363.0 57.1h.9M360.3 54.9h.9M366.6 52.0h.9M365.5 50.8h.9M370.5 50.9h.9M374.2 60.6h.9M351.3 60.4h.9M363.5 61.7h.9M361.9 56.2h.9M364.6 61.9h.9M348.1 60.9h.9M368.1 55.1h.9M365.0 60.7h.9M375.8 63.0h.9M360.4 50.1h.9M361.6 56.5h.9M363.0 61.8h.9M390.0 57.2h.9M349.5 61.8h.9M360.7 57.5h.9M375.6 57.9h.9M366.5 58.1h.9M374.8 58.9h.9M359.2 55.1h.9M375.4 57.4h.9M375.3 51.1h.9M365.1 59.5h.9M366.5 55.5h.9M370.2 63.1h.9M369.7 53.6h.9M373.7 56.8h.9M379.0 53.3h.9M376.6 53.0h.9M370.4 59.4h.9M366.4 59.4h.9M361.4 61.3h.9M361.9 54.5h.9M365.9 56.8h.9M358.9 60.4h.9M366.0 59.3h.9M351.9 52.7h.9M364.3 53.3h.9M365.9 59.1h.9M378.5 61.9h.9M374.8 53.9h.9M372.5 54.7h.9M372.3 52.7h.9M380.6 57.8h.9M364.0 51.9h.9M369.8 54.8h.9M369.5 54.1h.9M361.8 59.6h.9M381.7 51.4h.9M365.3 58.5h.9M365.5 55.4h.9M388.6 52.6h.9M370.7 54.9h.9M365.7 48.3h.9M376.0 55.7h.9M357.8 63.8h.9M364.3 54.8h.9M358.9 61.5h.9M367.4 55.8h.9M353.8 54.2h.9M370.6 56.7h.9M346.9 54.7h.9M374.7 54.7h.9M354.1 59.8h.9M364.7 53.4h.9M354.0 57.2h.9M367.7 50.2h.9M376.8 51.6h.9M381.2 57.5h.9M365.4 58.3h.9M361.2 57.0h.9M383.5 53.9h.9M375.2 53.1h.9M367.2 60.6h.9M355.2 58.9h.9M363.2 60.5h.9M374.2 53.1h.9M365.9 57.7h.9M351.6 59.4h.9M380.9 61.0h.9M361.2 55.7h.9M357.7 55.6h.9M364.8 59.7h.9M367.8 53.4h.9M375.5 59.9h.9M361.0 56.4h.9M365.8 50.8h.9M368.7 59.5h.9M386.7 56.7h.9M364.3 56.6h.9M373.5 59.7h.9M358.7 58.2h.9M373.3 49.0h.9M380.9 55.5h.9M375.9 56.4h.9M364.7 56.8h.9M370.3 60.1h.9M364.4 52.9h.9M360.1 53.7h.9M374.6 53.0h.9M382.5 56.7h.9M366.6 62.0h.9M363.5 56.1h.9M375.2 59.4h.9M372.7 52.0h.9M365.7 60.6h.9M369.7 60.2h.9M387.5 58.6h.9M361.0 63.1h.9M360.6 61.0h.9M373.8 53.5h.9M360.4 56.8h.9M371.7 61.9h.9M368.6 64.3h.9M376.1 54.2h.9M361.4 57.8h.9M362.4 57.1h.9M375.5 57.7h.9M377.3 54.0h.9M358.8 52.3h.9M349.9 56.4h.9M368.4 56.4h.9M368.3 64.9h.9M356.9 56.7h.9M362.8 54.0h.9M381.3 56.4h.9M380.1 52.3h.9M359.2 57.6h.9M366.7 59.4h.9M355.0 59.7h.9M375.1 54.6h.9M345.2 55.8h.9M364.1 60.3h.9M361.5 53.2h.9M374.2 58.3h.9M375.3 57.0h.9M378.6 58.6h.9M350.2 58.9h.9M375.7 57.0h.9M382.5 54.7h.9M374.7 52.2h.9M367.9 55.2h.9M357.8 52.8h.9M370.3 58.7h.9M361.4 52.9h.9M359.4 60.6h.9M356.2 62.2h.9M351.4 59.2h.9M374.9 61.5h.9M363.6 54.6h.9M354.0 61.4h.9M366.7 55.6h.9M363.9 58.4h.9M368.6 61.7h.9M346.7 61.6h.9M362.7 57.2h.9M364.9 57.1h.9M375.7 57.7h.9M353.7 57.8h.9M367.2 58.7h.9M368.5 56.9h.9M378.1 52.6h.9M389.8 54.0h.9M357.9 60.8h.9M379.1 61.5h.9M382.8 58.3h.9M368.9 58.7h.9M368.0 55.2h.9M368.2 56.4h.9M362.9 51.2h.9M361.3 55.7h.9M367.8 53.5h.9M349.3 60.8h.9M367.0 60.6h.9M356.3 52.5h.9M368.5 56.4h.9M362.2 63.9h.9M383.3 59.0h.9M367.5 56.1h.9M377.1 56.0h.9M383.4 61.3h.9M362.4 60.6h.9M384.2 59.0h.9M358.9 56.8h.9M365.1 58.0h.9M368.7 56.0h.9M377.3 62.1h.9M362.6 52.1h.9M372.3 57.3h.9M372.7 54.6h.9M371.4 53.8h.9M379.9 63.3h.9M363.8 55.7h.9M370.7 57.5h.9M363.2 56.4h.9M372.8 50.3h.9M376.6 54.7h.9M354.4 55.1h.9M374.1 60.5h.9M381.5 58.6h.9M361.9 60.0h.9M376.8 58.7h.9M368.0 55.5h.9M359.1 52.2h.9M389.6 60.1h.9M375.9 58.6h.9M349.9 57.6h.9M370.6 61.9h.9M359.2 59.2h.9M366.8 57.9h.9M361.5 59.4h.9M369.7 50.5h.9M360.7 62.5h.9M359.4 56.2h.9M386.9 57.5h.9M384.5 58.0h.9M379.4 56.5h.9M376.1 55.2h.9M365.5 54.3h.9M375.6 59.4h.9M362.7 61.6h.9M364.1 64.9h.9M378.0 63.3h.9M362.2 54.3h.9M351.4 61.1h.9M358.6 63.4h.9M371.2 60.6h.9M356.6 56.2h.9M371.6 60.4h.9M356.8 59.7h.9M361.5 61.3h.9M367.3 56.7h.9M374.2 61.9h.9M367.5 62.5h.9M359.7 59.4h.9M358.5 59.1h.9M360.5 58.4h.9M375.6 53.8h.9M352.1 58.0h.9M374.8 58.4h.9M360.7 61.4h.9M366.9 60.8h.9M360.9 59.9h.9M381.2 54.6h.9M366.8 60.2h.9M374.8 58.8h.9M368.0 51.9h.9M369.2 52.8h.9M369.9 48.8h.9M373.7 54.3h.9M366.6 61.2h.9M375.9 54.7h.9M381.5 59.8h.9M374.7 56.1h.9M369.3 55.0h.9M371.2 55.1h.9M381.1 57.2h.9M371.6 58.8h.9M372.3 52.2h.9M382.1 57.4h.9M363.8 54.3h.9M362.5 55.7h.9M369.4 54.4h.9M370.5 58.2h.9M363.0 66.4h.9M368.3 59.0h.9M370.4 57.0h.9M376.3 62.5h.9M368.4 54.5h.9M374.3 49.3h.9M370.8 56.9h.9M372.2 51.8h.9M364.7 54.0h.9M364.0 60.1h.9M367.1 55.5h.9M380.8 57.0h.9M348.9 54.7h.9M373.2 59.0h.9M371.3 58.4h.9M360.1 57.6h.9M357.0 55.0h.9M359.7 54.8h.9M365.4 56.8h.9M361.1 61.9h.9M364.5 63.5h.9M378.3 52.4h.9M377.1 51.7h.9M382.9 57.9h.9M358.3 49.7h.9M364.3 52.5h.9M379.0 52.1h.9M366.2 59.3h.9M368.5 58.3h.9M366.0 60.2h.9M359.2 59.9h.9M356.4 58.6h.9M357.0 57.1h.9M374.2 61.6h.9M350.3 55.4h.9M358.8 62.3h.9M359.8 60.4h.9M362.8 52.2h.9M369.0 53.0h.9M375.5 60.0h.9M381.0 52.8h.9M383.8 60.1h.9M384.5 52.5h.9M371.1 52.1h.9M366.8 58.0h.9M374.0 53.9h.9M367.6 53.8h.9M372.0 59.6h.9M369.0 61.5h.9M375.6 58.3h.9M379.3 52.0h.9M367.4 50.6h.9M367.8 55.5h.9M376.1 55.2h.9M361.7 57.2h.9M366.9 59.3h.9M359.2 52.1h.9M352.6 62.4h.9M355.5 56.2h.9M357.3 61.1h.9M362.8 62.2h.9M361.2 58.7h.9M375.8 60.5h.9M356.2 56.5h.9M366.9 50.4h.9M375.2 58.4h.9M372.9 51.8h.9M370.0 58.8h.9M378.2 54.8h.9M375.2 64.3h.9M363.8 56.0h.9M364.6 51.8h.9M364.9 63.6h.9M358.9 57.0h.9M380.1 58.8h.9M370.3 55.9h.9M367.0 57.4h.9M375.0 57.2h.9M377.1 49.8h.9M376.2 54.9h.9M368.2 55.7h.9M374.5 56.5h.9M374.2 54.0h.9M370.3 61.8h.9M379.1 55.4h.9M369.5 55.8h.9M367.0 57.4h.9M380.3 58.9h.9M382.9 62.3h.9M355.8 59.1h.9M363.5 51.5h.9M357.5 56.0h.9M384.7 56.8h.9M366.4 57.3h.9M360.9 58.3h.9M367.0 51.3h.9M374.4 56.6h.9M374.6 53.3h.9M369.3 60.5h.9M352.3 55.4h.9M364.3 56.5h.9M363.3 58.6h.9M378.3 58.1h.9M378.5 60.7h.9M362.5 58.6h.9M364.7 60.0h.9M364.8 56.8h.9M384.9 55.8h.9M353.0 58.6h.9M371.1 55.3h.9M369.2 61.1h.9M363.2 56.9h.9M361.4 58.9h.9M366.9 54.0h.9M367.1 64.2h.9M351.4 53.1h.9M371.3 52.0h.9M355.5 56.1h.9M379.0 59.8h.9M373.9 58.2h.9M380.7 49.9h.9M371.3 62.5h.9M358.0 59.1h.9M380.5 61.4h.9M367.4 64.3h.9M373.5 61.1h.9M357.8 55.1h.9M361.3 64.3h.9M376.1 57.5h.9M365.6 62.0h.9M349.6 56.4h.9M378.9 59.6h.9M359.4 56.8h.9M383.9 64.8h.9M369.1 66.3h.9M382.8 69.8h.9M356.5 66.9h.9M364.2 63.5h.9M367.1 60.3h.9M369.2 63.1h.9M372.6 78.7h.9M355.9 64.0h.9M372.3 64.2h.9M374.1 62.0h.9M364.0 67.6h.9M372.5 70.1h.9M364.2 65.9h.9M366.3 66.8h.9M370.6 73.3h.9M372.6 65.4h.9M356.3 65.8h.9M363.5 64.6h.9M368.9 70.8h.9M379.5 70.1h.9M354.9 70.6h.9M378.3 60.0h.9M373.7 71.3h.9M364.7 69.6h.9M371.5 73.6h.9M378.2 70.7h.9M361.0 66.0h.9M365.5 73.7h.9M379.4 62.3h.9M380.2 63.3h.9M378.2 69.1h.9M375.6 65.4h.9M370.2 69.6h.9M369.0 74.5h.9M366.0 66.5h.9M358.9 66.5h.9M364.3 74.2h.9M375.3 65.5h.9M371.2 78.3h.9M368.8 61.4h.9M362.5 70.1h.9M353.6 69.8h.9M373.2 64.8h.9M362.6 66.9h.9M365.5 79.1h.9M367.4 67.9h.9M369.6 58.8h.9M366.8 59.9h.9M372.6 55.4h.9M360.0 69.3h.9M378.5 62.1h.9M368.7 71.2h.9M362.7 56.9h.9M381.8 67.8h.9M374.1 65.1h.9M373.5 61.3h.9M359.5 60.6h.9M364.9 64.3h.9M366.0 71.5h.9M363.9 74.5h.9M363.2 72.6h.9M377.5 82.2h.9M353.6 75.9h.9M368.6 71.5h.9M360.6 73.9h.9M375.2 66.6h.9M363.3 73.9h.9M376.4 75.6h.9M366.1 68.7h.9M375.6 75.9h.9M377.9 71.7h.9M363.3 70.1h.9M373.3 66.5h.9M373.6 64.5h.9M371.9 65.7h.9M372.7 61.2h.9M358.7 72.0h.9M367.6 71.0h.9M358.4 57.4h.9M370.3 68.1h.9M359.6 62.3h.9M375.8 67.6h.9M371.8 80.6h.9M371.7 70.5h.9M363.1 76.2h.9M359.0 60.2h.9M370.7 59.8h.9M377.6 66.6h.9M373.7 68.0h.9M367.2 69.0h.9M354.9 59.5h.9M362.9 82.8h.9M374.8 75.0h.9M360.0 73.5h.9M378.1 75.8h.9M361.0 66.1h.9M361.4 68.2h.9M373.3 69.9h.9M369.5 72.0h.9M376.0 66.1h.9M362.5 75.9h.9M367.4 63.4h.9M371.8 67.4h.9M370.1 69.0h.9M373.1 76.0h.9M364.0 60.3h.9M382.5 67.1h.9M369.6 65.0h.9M355.8 60.6h.9M359.7 74.1h.9M371.0 69.4h.9M359.3 66.3h.9M374.1 71.1h.9M377.3 71.2h.9M374.0 73.1h.9M363.1 77.0h.9M371.0 75.0h.9M361.9 60.8h.9M368.6 63.8h.9M373.5 72.7h.9M378.1 74.6h.9M359.1 73.7h.9M364.8 63.6h.9M369.6 69.2h.9M370.8 79.1h.9M367.0 71.0h.9M365.5 65.8h.9M379.2 73.9h.9M373.5 64.7h.9M382.7 70.4h.9M364.0 68.2h.9M373.6 74.9h.9M381.9 64.4h.9M364.0 78.6h.9M387.7 68.3h.9M370.1 59.2h.9M363.6 62.4h.9M369.6 61.4h.9M376.5 70.1h.9M366.1 74.7h.9M368.4 60.9h.9M366.9 83.1h.9M369.3 72.7h.9M367.8 67.5h.9M360.0 63.7h.9M365.4 78.1h.9M371.5 74.1h.9M382.1 65.0h.9M365.1 69.5h.9M373.6 57.5h.9M374.3 59.6h.9M374.2 75.7h.9M350.8 69.3h.9M371.3 65.5h.9M374.3 83.3h.9M374.2 62.9h.9M359.1 59.7h.9M359.8 74.9h.9M371.4 69.4h.9M375.9 70.5h.9M370.3 63.9h.9M364.2 68.5h.9M358.0 78.2h.9M370.7 65.9h.9M378.0 63.8h.9M377.3 71.2h.9M384.5 68.3h.9M366.9 63.2h.9M359.0 69.1h.9M360.4 69.7h.9M362.9 75.0h.9M369.5 69.2h.9M362.1 79.4h.9M365.4 71.3h.9M367.4 66.5h.9M369.0 73.6h.9M360.8 64.6h.9M357.6 69.7h.9M363.2 63.2h.9M374.2 70.0h.9M372.4 68.8h.9M372.2 70.3h.9M360.1 69.0h.9M366.6 67.1h.9M371.9 66.0h.9M359.4 75.2h.9M383.9 69.5h.9M377.6 73.2h.9M365.0 62.9h.9M367.3 66.0h.9M366.6 67.9h.9M359.2 73.1h.9M361.4 60.8h.9M375.5 75.3h.9M380.3 72.0h.9M362.7 75.6h.9M368.5 68.2h.9M361.9 70.5h.9M352.3 71.9h.9M356.1 71.3h.9M357.7 79.9h.9M366.8 61.4h.9M358.9 58.7h.9M365.9 55.2h.9M374.4 76.8h.9M369.1 66.4h.9M356.2 70.0h.9M362.8 72.1h.9M377.0 70.9h.9M353.5 60.2h.9M379.5 72.8h.9M368.4 67.9h.9M357.0 62.8h.9M376.2 74.0h.9M364.5 70.5h.9M379.7 63.9h.9M370.2 76.2h.9M362.2 76.5h.9M367.1 76.1h.9M376.1 72.1h.9M367.5 64.6h.9M370.2 70.8h.9M380.3 70.6h.9M370.0 80.5h.9M371.1 72.6h.9M381.7 72.0h.9M371.4 74.6h.9M369.4 61.9h.9M357.8 65.9h.9M376.8 77.1h.9M380.9 77.2h.9M365.6 59.0h.9M365.3 66.8h.9M362.2 74.1h.9M362.2 71.8h.9M377.2 59.1h.9M364.3 76.6h.9M375.6 71.1h.9M361.2 63.1h.9M368.4 77.4h.9M373.1 69.3h.9M370.1 74.5h.9M356.4 60.4h.9M368.0 77.0h.9M378.5 65.7h.9M370.1 64.5h.9M365.8 69.5h.9M366.9 65.1h.9M361.7 57.4h.9M367.3 70.1h.9M374.9 64.8h.9M362.0 76.2h.9M371.3 75.4h.9M365.4 63.8h.9M358.9 73.9h.9M362.1 56.5h.9M361.8 76.2h.9M369.0 70.7h.9M370.0 69.0h.9M369.3 59.9h.9M382.3 70.5h.9M380.4 60.8h.9M374.6 62.4h.9M358.6 69.1h.9M375.6 79.3h.9M379.8 69.3h.9M375.9 66.4h.9M364.5 69.9h.9M367.2 74.4h.9M353.4 73.9h.9M362.8 77.8h.9M379.4 63.4h.9M367.9 73.4h.9M363.7 63.3h.9M365.8 73.5h.9M376.7 67.7h.9M373.9 79.7h.9M377.1 65.8h.9M362.2 69.8h.9M375.1 73.0h.9M367.1 62.7h.9M379.2 70.0h.9M385.0 64.5h.9M367.2 64.7h.9M382.2 79.6h.9M367.4 56.3h.9M378.0 71.6h.9M362.0 58.1h.9M372.5 68.5h.9M369.8 71.9h.9M366.5 67.0h.9M374.4 69.4h.9M366.3 72.9h.9M352.3 74.4h.9M373.5 65.0h.9M366.4 76.8h.9M375.5 58.7h.9M361.0 69.0h.9M382.3 76.6h.9M367.0 72.7h.9M369.6 67.4h.9M374.6 56.2h.9M376.5 74.1h.9M366.7 63.3h.9M359.5 69.4h.9M370.2 70.6h.9M364.4 63.4h.9M376.9 69.0h.9M361.6 69.3h.9M370.6 80.1h.9M371.7 66.9h.9M366.2 63.5h.9M372.1 75.2h.9M367.6 68.1h.9M379.9 71.8h.9M374.3 63.1h.9M366.9 54.9h.9M358.1 69.8h.9M379.2 69.3h.9M359.8 68.3h.9M378.3 69.8h.9M376.5 70.2h.9M360.6 61.9h.9M364.7 83.4h.9M374.0 68.6h.9M371.2 71.1h.9M365.9 68.0h.9M366.4 73.7h.9M379.9 79.9h.9M366.1 72.4h.9M364.8 61.4h.9M369.1 73.3h.9M367.8 74.5h.9M374.8 75.3h.9M369.5 60.5h.9M383.8 68.8h.9M374.4 73.4h.9M364.5 80.4h.9M374.5 70.2h.9M367.0 62.6h.9M358.7 71.2h.9M366.3 65.8h.9M373.6 67.8h.9M375.0 66.2h.9M364.1 74.4h.9M363.2 72.3h.9M373.2 70.1h.9M357.8 58.7h.9M362.1 59.7h.9M376.9 65.0h.9M360.1 64.4h.9M370.3 58.6h.9M373.1 74.7h.9M363.7 73.6h.9M357.7 63.7h.9M367.8 69.5h.9M378.5 68.8h.9M361.1 69.3h.9M369.9 72.3h.9M366.4 69.9h.9M364.1 72.1h.9M364.7 64.5h.9M379.1 66.1h.9M368.6 72.9h.9M365.7 74.6h.9M363.6 74.9h.9M358.6 58.6h.9M368.1 78.4h.9M382.6 66.1h.9M369.5 66.1h.9M351.8 70.9h.9M364.8 77.4h.9M371.9 66.3h.9M364.0 67.2h.9M373.3 66.8h.9M360.3 68.2h.9M377.6 73.6h.9M367.4 64.7h.9M364.4 60.7h.9M364.9 70.2h.9M363.0 78.8h.9M372.6 67.0h.9M367.3 78.5h.9M355.7 68.4h.9M362.0 68.8h.9M364.3 66.6h.9M368.2 59.9h.9M373.7 67.3h.9M372.2 74.7h.9M376.5 59.5h.9M379.9 76.8h.9M375.4 70.4h.9M369.8 65.9h.9M371.4 75.7h.9M363.9 73.7h.9M364.9 72.4h.9M367.1 74.5h.9M383.9 73.4h.9M365.8 65.9h.9M374.6 67.0h.9M376.5 72.5h.9M376.8 67.1h.9M362.6 63.3h.9M373.2 64.9h.9M376.9 57.3h.9M364.2 67.4h.9M355.7 62.9h.9M357.7 66.8h.9M366.5 73.7h.9M364.5 57.9h.9M364.8 69.4h.9M369.8 70.5h.9M379.1 68.7h.9M368.5 63.7h.9M363.5 75.1h.9M380.8 58.4h.9M365.0 74.9h.9M369.6 73.0h.9M375.6 72.4h.9M359.1 69.9h.9M366.4 72.4h.9M370.2 69.6h.9M382.4 73.5h.9M376.0 72.7h.9M382.4 69.3h.9M376.4 82.5h.9M365.2 75.5h.9M358.4 69.5h.9M375.9 65.2h.9M355.3 67.2h.9M366.5 70.1h.9M370.6 75.1h.9M381.0 74.3h.9M356.7 71.6h.9M372.2 70.9h.9M381.3 73.3h.9M366.0 71.9h.9M355.9 73.3h.9M367.9 80.2h.9M374.3 72.8h.9M372.1 62.3h.9M368.4 71.3h.9M376.5 73.6h.9M374.0 74.8h.9M365.0 70.7h.9M369.1 61.4h.9M356.8 72.7h.9M379.0 80.5h.9M361.2 77.9h.9M382.4 66.9h.9M371.3 81.0h.9M368.8 77.2h.9M365.0 66.6h.9M376.5 69.8h.9M370.3 70.4h.9M359.9 77.6h.9M368.8 67.3h.9M365.9 69.4h.9M361.3 73.8h.9M365.9 74.1h.9M363.8 62.0h.9M362.1 69.8h.9M358.3 73.1h.9M365.9 74.8h.9M365.6 74.2h.9M362.7 61.2h.9M374.6 66.9h.9M378.4 66.6h.9M374.3 65.1h.9M354.3 76.2h.9M366.7 75.4h.9M372.7 59.0h.9M371.3 76.9h.9M377.6 81.6h.9M372.5 69.4h.9M371.2 62.3h.9M374.3 75.1h.9M373.0 65.1h.9M375.0 66.9h.9M379.7 67.4h.9M365.6 66.8h.9M362.4 62.4h.9M384.5 74.6h.9M372.6 64.3h.9M370.8 69.7h.9M371.7 60.2h.9M370.5 57.3h.9M368.8 63.5h.9M364.9 66.5h.9M374.5 78.3h.9M370.7 62.6h.9M382.4 62.6h.9M365.2 67.3h.9M362.0 76.8h.9M371.2 76.8h.9M366.0 74.5h.9M368.3 68.2h.9M371.2 72.3h.9M374.0 68.8h.9M357.9 65.3h.9M362.0 73.4h.9M368.3 58.7h.9M372.0 73.0h.9M370.1 83.7h.9M362.4 70.0h.9M371.1 65.2h.9M370.1 77.7h.9M362.1 71.0h.9M376.3 74.8h.9M356.4 68.9h.9M364.8 76.6h.9M366.0 81.6h.9M359.0 70.8h.9M360.4 79.4h.9M382.5 65.6h.9M375.1 70.1h.9M357.7 60.5h.9M369.4 72.7h.9M366.0 70.7h.9M339.2 78.2h.9M346.4 67.0h.9M342.8 69.8h.9M346.3 62.4h.9M327.2 64.0h.9M344.5 94.3h.9M357.4 84.6h.9M346.1 87.5h.9M350.1 75.7h.9M358.6 65.8h.9M362.3 82.1h.9M348.2 73.3h.9M344.0 78.2h.9M335.9 81.1h.9M334.7 85.6h.9M342.0 68.0h.9M342.6 67.9h.9M344.4 61.1h.9M340.2 75.7h.9M350.4 72.1h.9M360.0 62.0h.9M343.4 71.3h.9M345.8 73.1h.9M362.0 75.1h.9M346.4 73.8h.9M356.2 70.5h.9M343.3 81.8h.9M332.1 71.6h.9M356.9 89.1h.9M345.0 74.3h.9M358.6 63.6h.9M337.8 68.9h.9M341.1 82.2h.9M353.7 84.9h.9M361.5 68.3h.9M330.7 77.8h.9M346.0 80.1h.9M345.8 84.8h.9M354.0 77.1h.9M341.5 80.6h.9M338.1 82.6h.9M359.4 82.5h.9M331.0 78.6h.9M350.3 81.9h.9M327.7 70.4h.9M345.0 86.0h.9M339.0 82.1h.9M347.7 90.2h.9M349.8 62.6h.9M342.7 77.1h.9M360.8 80.3h.9M342.7 65.3h.9M346.4 74.2h.9M361.6 82.4h.9M341.1 77.3h.9M334.6 71.1h.9M360.0 80.9h.9M347.9 73.6h.9M352.7 79.8h.9M337.4 71.3h.9M354.5 90.3h.9M353.2 79.4h.9M349.2 71.7h.9M346.9 65.7h.9M354.8 78.9h.9M348.2 68.5h.9M343.0 70.7h.9M349.7 73.0h.9M350.3 82.5h.9M361.0 67.2h.9M342.2 66.7h.9M360.8 68.6h.9M362.0 71.3h.9M358.2 71.0h.9M343.5 76.2h.9M347.2 74.1h.9M354.0 84.6h.9M356.3 71.5h.9M353.5 65.7h.9M353.0 70.1h.9M361.0 69.3h.9M336.4 70.1h.9M349.0 67.1h.9M372.7 72.4h.9M366.8 73.0h.9M342.4 69.7h.9M337.2 78.7h.9M360.3 76.1h.9M335.7 76.9h.9M347.6 61.6h.9M338.7 75.7h.9M341.5 73.2h.9M364.4 82.8h.9M364.0 77.0h.9M348.8 89.1h.9M338.8 77.9h.9M347.7 77.6h.9M353.2 76.2h.9M355.7 68.7h.9M352.0 67.1h.9M358.8 82.9h.9M343.7 71.3h.9M345.8 79.6h.9M328.4 67.4h.9M357.1 73.5h.9M340.9 61.5h.9M347.5 74.5h.9M367.5 65.4h.9M353.4 65.8h.9M333.9 73.5h.9M336.0 89.3h.9M345.3 69.2h.9M372.9 68.9h.9M341.5 73.4h.9M336.7 79.7h.9M359.7 65.0h.9M340.1 72.1h.9M329.4 64.7h.9M341.4 68.0h.9M349.3 81.3h.9M347.8 77.2h.9M334.9 70.2h.9M350.2 79.3h.9M344.6 79.1h.9M342.7 65.9h.9M349.2 71.6h.9M350.0 80.5h.9M340.1 86.4h.9M351.1 82.4h.9M338.0 72.5h.9M360.4 74.7h.9M345.9 86.4h.9M359.0 76.7h.9M367.7 63.4h.9M344.8 70.6h.9M362.7 87.1h.9M340.1 76.0h.9M356.5 79.0h.9M348.7 82.6h.9M368.1 75.9h.9M333.0 74.1h.9M345.3 72.1h.9M353.8 80.6h.9M356.2 78.7h.9M348.8 67.2h.9M341.8 68.4h.9M349.4 74.1h.9M345.3 79.0h.9M342.4 83.2h.9M357.8 67.8h.9M360.8 72.4h.9M337.5 72.6h.9M331.2 77.6h.9M359.6 63.4h.9M350.6 79.5h.9M353.3 79.9h.9M350.7 71.5h.9M356.0 77.5h.9M354.9 77.4h.9M342.8 74.7h.9M352.7 82.9h.9M327.1 71.0h.9M338.1 76.5h.9M342.3 85.1h.9M338.7 69.6h.9M336.3 72.7h.9M347.6 71.3h.9M335.2 64.6h.9M347.8 70.8h.9M334.5 72.9h.9M349.5 90.5h.9M364.2 68.2h.9M340.5 60.1h.9M356.0 73.8h.9M328.9 69.8h.9M339.9 69.9h.9M362.3 60.2h.9M340.4 76.8h.9M351.1 58.3h.9M347.7 65.3h.9M339.0 62.8h.9M357.2 72.6h.9M359.3 66.5h.9M356.4 61.3h.9M331.0 76.0h.9M329.7 80.7h.9M362.0 75.4h.9M351.3 87.2h.9M351.6 85.0h.9M362.2 67.0h.9M370.8 84.1h.9M347.6 81.4h.9M349.6 76.9h.9M334.6 72.1h.9M342.2 83.5h.9" stroke="#000" stroke-opacity="0.22" stroke-width=".9" fill="none"/>
<g transform="translate(349.8 57.699999999999996) rotate(-30)"><ellipse rx="7.0" ry="2.7" fill="#fff" stroke="#1a1a1a" stroke-width="1.2"/><ellipse rx="3.8500000000000005" ry="0.81" fill="#ccc"/></g>
<text x="366.2" y="10.7" font-size="12" font-weight="bold" text-anchor="middle" fill="#000" >CTL+</text>
<text x="366.7" y="25.2" font-size="12" font-weight="bold" text-anchor="middle" fill="#000" >T2(gp100)</text>
<text x="404.3" y="44.8" font-size="12.5" font-weight="bold" text-anchor="end" fill="#000" >36%</text>
<text x="326.4" y="119.6" font-size="6.1" text-anchor="middle" fill="#000" stroke="#000" stroke-width=".25">10<tspan dy="-2.4">0</tspan></text>
<text x="347.6" y="119.6" font-size="6.1" text-anchor="middle" fill="#000" stroke="#000" stroke-width=".25">10<tspan dy="-2.4">1</tspan></text>
<text x="368.8" y="119.6" font-size="6.1" text-anchor="middle" fill="#000" stroke="#000" stroke-width=".25">10<tspan dy="-2.4">2</tspan></text>
<text x="389.9" y="119.6" font-size="6.1" text-anchor="middle" fill="#000" stroke="#000" stroke-width=".25">10<tspan dy="-2.4">3</tspan></text>
<text x="411.1" y="119.6" font-size="6.1" text-anchor="middle" fill="#000" stroke="#000" stroke-width=".25">10<tspan dy="-2.4">4</tspan></text>
<text x="324.4" y="112.3" font-size="6.5" text-anchor="middle" fill="#000" stroke="#000" stroke-width=".25" transform="rotate(-90 324.4 112.3)">10<tspan dy="-2.4">0</tspan></text>
<text x="324.4" y="92.3" font-size="6.5" text-anchor="middle" fill="#000" stroke="#000" stroke-width=".25" transform="rotate(-90 324.4 92.3)">10<tspan dy="-2.4">1</tspan></text>
<text x="324.4" y="72.3" font-size="6.5" text-anchor="middle" fill="#000" stroke="#000" stroke-width=".25" transform="rotate(-90 324.4 72.3)">10<tspan dy="-2.4">2</tspan></text>
<text x="324.4" y="52.3" font-size="6.5" text-anchor="middle" fill="#000" stroke="#000" stroke-width=".25" transform="rotate(-90 324.4 52.3)">10<tspan dy="-2.4">3</tspan></text>
<text x="324.4" y="32.3" font-size="6.5" text-anchor="middle" fill="#000" stroke="#000" stroke-width=".25" transform="rotate(-90 324.4 32.3)">10<tspan dy="-2.4">4</tspan></text>
<rect x="428.5" y="32.5" width="85" height="80" fill="none" stroke="#c4c4c4" stroke-width="1"/>
<line x1="455.5" y1="32.5" x2="455.5" y2="112.5" stroke="#c8c8c8" stroke-width="1"/>
<line x1="428.5" y1="87.5" x2="513.5" y2="87.5" stroke="#c8c8c8" stroke-width="1"/>
<ellipse cx="0" cy="0" rx="20" ry="7.2" fill="#666" opacity="0.45" filter="url(#b30)" transform="translate(466.0 60.3) rotate(-10)"/>
<ellipse cx="0" cy="0" rx="10" ry="2.3" fill="#222" opacity="0.6" filter="url(#b12)" transform="translate(464.5 59.099999999999994) rotate(-6)"/>
<ellipse cx="0" cy="0" rx="15" ry="8" fill="#aaa" opacity="0.35" filter="url(#b30)" transform="translate(448.3 72.3) rotate(-15)"/>
<path d="M473.4 60.3h.9M466.5 68.7h.9M465.7 66.4h.9M459.5 69.3h.9M485.2 53.6h.9M466.2 64.9h.9M470.4 59.8h.9M478.0 51.2h.9M487.7 59.0h.9M465.5 52.3h.9M484.8 59.3h.9M467.7 65.5h.9M461.9 60.3h.9M480.4 60.3h.9M479.4 56.2h.9M450.0 65.5h.9M463.5 61.8h.9M467.7 59.3h.9M454.0 63.9h.9M483.6 53.2h.9M457.3 66.1h.9M453.3 61.8h.9M453.0 59.7h.9M443.5 63.2h.9M453.3 57.7h.9M442.2 64.4h.9M464.6 54.6h.9M460.8 56.7h.9M446.7 58.8h.9M461.1 62.8h.9M463.3 62.3h.9M484.8 62.3h.9M460.5 51.9h.9M465.0 60.9h.9M480.2 58.8h.9M475.0 54.1h.9M454.1 60.6h.9M470.4 63.2h.9M477.9 57.7h.9M475.3 65.6h.9M455.1 65.5h.9M473.4 58.3h.9M454.4 61.8h.9M460.0 68.2h.9M471.5 63.3h.9M452.7 69.1h.9M455.0 59.4h.9M489.9 56.0h.9M458.7 62.6h.9M457.0 62.6h.9M450.2 59.0h.9M459.9 64.5h.9M460.8 63.4h.9M444.9 63.1h.9M452.3 65.6h.9M469.8 59.4h.9M459.0 56.1h.9M464.0 60.5h.9M471.3 63.4h.9M473.6 50.3h.9M460.9 57.1h.9M459.4 67.2h.9M467.9 60.1h.9M467.3 58.7h.9M463.2 57.1h.9M459.3 58.9h.9M462.7 50.7h.9M467.3 59.6h.9M470.9 53.4h.9M455.2 65.9h.9M457.7 63.9h.9M456.9 55.2h.9M447.4 59.8h.9M459.4 54.6h.9M484.6 57.2h.9M456.3 69.4h.9M476.4 54.4h.9M453.2 61.1h.9M474.6 51.3h.9M480.8 55.7h.9M477.0 57.6h.9M473.2 62.2h.9M482.4 53.7h.9M471.1 62.8h.9M467.6 64.4h.9M446.0 63.0h.9M479.3 58.0h.9M452.7 63.0h.9M468.2 54.6h.9M483.0 54.6h.9M453.7 62.6h.9M458.2 60.3h.9M469.3 57.4h.9M474.4 60.3h.9M481.3 52.5h.9M467.7 61.2h.9M453.5 63.8h.9M474.0 59.0h.9M470.0 65.8h.9M461.6 56.9h.9M486.2 60.1h.9M464.1 56.7h.9M486.9 55.4h.9M457.5 68.1h.9M448.0 62.2h.9M474.5 57.3h.9M460.6 63.3h.9M451.2 61.4h.9M475.0 53.0h.9M484.1 56.2h.9M465.4 57.8h.9M473.7 56.5h.9M470.6 65.9h.9M483.4 54.8h.9M470.7 59.9h.9M469.8 56.4h.9M475.0 64.0h.9M459.4 61.1h.9M477.9 63.8h.9M471.2 60.7h.9M472.6 57.3h.9M470.7 57.9h.9M444.3 65.5h.9M476.4 60.8h.9M467.7 58.3h.9M473.5 56.8h.9M467.8 67.6h.9M448.6 59.7h.9M462.0 50.8h.9M452.4 67.7h.9M473.0 58.2h.9M482.3 52.4h.9M459.8 66.7h.9M473.3 59.9h.9M463.5 51.0h.9M478.0 54.0h.9M466.3 51.8h.9M447.5 62.6h.9M475.8 62.3h.9M480.9 53.5h.9M464.9 64.2h.9M453.1 60.4h.9M466.3 59.8h.9M477.7 60.3h.9M477.1 63.4h.9M473.0 60.7h.9M472.8 65.1h.9M459.7 60.6h.9M453.5 60.8h.9M455.2 57.4h.9M482.2 57.1h.9M457.7 62.8h.9M462.8 60.0h.9M484.1 57.9h.9M470.4 57.8h.9M463.1 55.6h.9M463.8 56.1h.9M480.2 56.4h.9M476.3 64.9h.9M478.3 54.3h.9M454.4 61.3h.9M447.2 64.1h.9M444.7 66.4h.9M481.5 64.3h.9M469.0 59.1h.9M481.6 60.6h.9M471.0 64.7h.9M479.2 53.7h.9M470.8 55.2h.9M462.1 68.8h.9M470.4 61.1h.9M446.7 67.5h.9M458.1 63.5h.9M453.3 63.7h.9M471.6 51.3h.9M469.2 54.7h.9M482.0 59.2h.9M476.2 56.2h.9M477.2 59.5h.9M482.2 52.1h.9M460.6 56.9h.9M467.4 54.0h.9M464.2 61.4h.9M477.8 56.3h.9M464.4 60.7h.9M451.6 67.1h.9M461.6 70.1h.9M482.0 61.5h.9M459.3 59.1h.9M461.2 61.0h.9M461.1 57.8h.9M467.2 59.5h.9M461.9 65.2h.9M478.8 54.9h.9M448.4 65.3h.9M478.6 64.1h.9M476.9 63.4h.9M446.2 58.0h.9M458.9 60.0h.9M471.5 63.7h.9M468.4 55.2h.9M454.2 63.9h.9M473.8 60.6h.9M467.9 60.1h.9M448.3 62.5h.9M474.8 52.6h.9M472.1 62.5h.9M461.9 54.2h.9M443.9 67.0h.9M466.2 61.4h.9M479.3 50.8h.9M467.5 60.5h.9M453.1 58.6h.9M478.8 61.6h.9M477.8 59.7h.9M468.0 62.2h.9M465.5 68.8h.9M469.5 62.2h.9M464.6 56.7h.9M465.3 58.3h.9M456.7 65.6h.9M464.4 56.5h.9M448.1 66.0h.9M473.0 54.7h.9M466.7 55.4h.9M484.5 57.7h.9M473.4 67.7h.9M469.6 57.9h.9M467.7 66.2h.9M457.6 58.0h.9M473.4 63.1h.9M467.5 58.3h.9M465.0 61.9h.9M459.5 52.9h.9M464.8 61.8h.9M465.6 63.7h.9M471.2 64.3h.9M468.2 58.9h.9M474.7 63.3h.9M460.5 56.6h.9M483.3 54.7h.9M471.1 56.9h.9M470.7 66.6h.9M475.5 66.7h.9M469.8 58.0h.9M476.4 53.6h.9M476.1 65.5h.9M482.9 61.1h.9M460.1 59.4h.9M482.4 57.2h.9M466.0 61.3h.9M458.8 63.9h.9M473.3 61.2h.9M463.1 53.3h.9M460.2 60.0h.9M462.1 56.3h.9M472.1 56.0h.9M483.2 61.7h.9M466.3 52.2h.9M477.1 63.3h.9M474.5 57.2h.9M473.8 54.8h.9M469.8 61.3h.9M462.7 55.4h.9M462.9 55.9h.9M452.1 67.6h.9M464.0 57.6h.9M460.2 63.1h.9M461.7 57.0h.9M469.8 60.1h.9M454.0 56.3h.9M482.5 55.9h.9M482.0 60.5h.9M465.2 58.8h.9M486.3 53.4h.9M460.7 56.5h.9M463.5 55.5h.9M466.7 53.3h.9M473.1 60.6h.9M468.4 56.4h.9M464.0 56.3h.9M474.2 57.5h.9M468.5 62.9h.9M449.6 66.3h.9M452.0 55.7h.9M462.5 68.0h.9M458.6 63.5h.9M454.9 64.9h.9M471.1 65.1h.9M468.4 59.6h.9M442.7 65.2h.9M476.3 59.3h.9M468.9 62.4h.9M476.4 53.6h.9M465.6 62.2h.9M468.6 54.5h.9M476.6 66.9h.9M470.8 54.6h.9M471.6 58.4h.9M456.4 54.0h.9M442.5 60.0h.9M460.9 61.0h.9M466.5 61.0h.9M482.8 53.2h.9M456.5 58.7h.9M469.8 63.0h.9M488.3 58.7h.9M482.4 58.8h.9M459.9 66.5h.9M465.8 56.2h.9M486.8 60.0h.9M457.9 59.7h.9M458.4 62.3h.9M464.0 53.4h.9M448.2 68.6h.9M448.8 56.6h.9M448.3 57.5h.9M475.0 54.5h.9M457.9 61.2h.9M467.6 67.2h.9M444.2 58.5h.9M461.9 60.6h.9M472.3 49.9h.9M452.9 59.4h.9M449.0 56.2h.9M477.5 52.0h.9M469.5 60.2h.9M452.9 60.3h.9M470.2 64.8h.9M474.1 56.5h.9M461.9 66.5h.9M484.7 53.9h.9M481.7 60.2h.9M467.9 53.6h.9M449.7 64.5h.9M469.7 50.3h.9M451.9 61.3h.9M463.5 57.2h.9M459.7 63.2h.9M487.1 56.8h.9M467.1 60.2h.9M457.3 64.4h.9M458.5 55.7h.9M458.9 58.8h.9M462.7 52.1h.9M453.4 61.0h.9M473.4 58.0h.9M462.4 55.9h.9M474.8 63.4h.9M464.7 54.8h.9M482.3 53.6h.9M482.7 55.7h.9M455.8 60.2h.9M456.9 60.3h.9M471.9 57.5h.9M459.9 60.6h.9M470.8 59.0h.9M473.2 61.7h.9M470.0 62.9h.9M466.9 65.6h.9M471.6 63.3h.9M462.2 53.0h.9M460.2 60.9h.9M470.5 58.9h.9M443.2 62.4h.9M457.2 61.3h.9M448.3 57.0h.9M463.9 52.4h.9M457.2 67.8h.9M465.0 59.8h.9M467.3 59.3h.9M468.4 54.2h.9M460.3 60.1h.9M474.5 54.7h.9M471.8 62.9h.9M454.1 60.1h.9M466.0 61.3h.9M481.1 58.4h.9M462.8 59.3h.9M469.8 63.2h.9M468.6 56.5h.9M460.9 56.5h.9M454.5 59.1h.9M459.2 64.8h.9M450.9 62.5h.9M451.8 66.1h.9M470.6 65.5h.9M471.8 53.6h.9M465.8 56.6h.9M458.5 55.7h.9M462.0 60.9h.9M463.9 60.6h.9M464.5 58.7h.9M462.1 60.7h.9M463.9 63.8h.9M470.4 54.6h.9M466.1 61.3h.9M462.2 59.2h.9M465.1 63.0h.9M467.6 56.8h.9M466.2 66.0h.9M454.5 64.9h.9M473.7 58.8h.9M463.3 52.5h.9M470.1 57.7h.9M465.8 60.1h.9M454.2 62.2h.9M471.0 51.5h.9M445.8 67.2h.9M449.9 61.9h.9M462.6 65.7h.9M469.9 59.6h.9M472.9 56.4h.9M477.6 56.3h.9M479.5 58.6h.9M467.8 53.8h.9M482.4 55.6h.9M449.7 64.1h.9M450.7 62.4h.9M463.5 66.2h.9M477.6 62.7h.9M461.2 66.8h.9M465.1 60.5h.9M471.5 60.3h.9M450.0 65.6h.9M446.8 65.2h.9M465.1 60.3h.9M453.3 66.8h.9M464.7 64.2h.9M456.4 57.7h.9M467.5 64.7h.9M449.3 59.5h.9M459.5 59.5h.9M461.1 65.9h.9M474.5 58.6h.9M476.9 63.2h.9M457.8 57.5h.9M474.8 54.4h.9M476.6 59.2h.9M450.2 60.0h.9M469.7 54.7h.9M473.3 60.2h.9M462.4 62.3h.9M461.6 61.6h.9M454.8 68.7h.9M463.5 66.0h.9M465.8 60.6h.9M465.6 61.4h.9M454.4 52.6h.9M469.8 59.4h.9M448.4 57.9h.9M476.3 64.1h.9M467.5 59.9h.9M457.8 63.9h.9M469.4 54.8h.9M477.5 65.3h.9M465.4 60.6h.9M474.7 63.4h.9M475.8 53.8h.9M454.0 58.9h.9M463.0 56.9h.9M456.2 65.8h.9M470.6 63.2h.9M463.5 58.1h.9M455.5 62.7h.9M473.7 62.8h.9M464.2 54.3h.9M472.3 55.1h.9M463.6 55.3h.9M454.6 55.7h.9M465.7 63.0h.9M481.2 57.1h.9M450.9 63.7h.9M467.9 51.5h.9M462.4 58.9h.9M454.0 62.8h.9M479.5 62.7h.9M454.4 58.7h.9M474.1 56.8h.9M455.5 61.2h.9M486.6 55.8h.9M462.5 61.1h.9M462.4 62.3h.9M463.2 59.8h.9M463.5 50.3h.9M462.6 61.1h.9M455.7 66.9h.9M457.4 53.6h.9M475.5 57.6h.9M466.3 51.6h.9M448.1 57.5h.9M463.8 59.4h.9M467.3 59.1h.9M489.1 56.4h.9M477.8 55.4h.9M464.3 58.6h.9M457.6 63.0h.9M455.6 60.9h.9M442.5 63.9h.9M473.6 56.8h.9M476.9 60.7h.9M471.5 56.8h.9M463.0 59.1h.9M453.8 62.6h.9M452.1 57.3h.9M449.7 67.9h.9M458.2 56.5h.9M475.2 56.2h.9M469.8 58.3h.9M470.4 60.0h.9M476.9 50.7h.9M476.5 57.0h.9M468.2 65.9h.9M478.7 62.7h.9M457.4 54.7h.9M474.7 49.8h.9M461.2 58.7h.9M458.2 67.8h.9M469.5 58.1h.9M476.4 56.1h.9M464.1 59.2h.9M449.7 57.2h.9M446.0 62.9h.9M469.4 59.1h.9M466.1 64.3h.9M479.9 63.8h.9M464.0 60.2h.9M484.1 59.0h.9M481.5 54.9h.9M464.7 56.7h.9M465.8 61.9h.9M448.3 66.9h.9M452.7 63.3h.9M456.4 61.6h.9M466.0 55.7h.9M450.3 58.7h.9M466.6 63.7h.9M471.0 56.6h.9M466.1 61.3h.9M475.7 60.2h.9M466.7 67.5h.9M469.2 59.2h.9M478.7 52.0h.9M455.4 68.7h.9M461.9 51.5h.9M476.4 64.1h.9M455.2 54.9h.9M465.3 61.6h.9M457.7 56.5h.9M472.5 61.3h.9M445.5 57.4h.9M461.2 57.3h.9M468.6 61.8h.9M488.5 57.9h.9M475.6 50.4h.9M458.0 66.2h.9M448.9 69.1h.9M472.3 59.3h.9M463.2 54.3h.9M452.0 59.3h.9M461.3 66.6h.9M452.7 58.7h.9M444.5 63.9h.9M466.3 65.1h.9M489.3 58.7h.9M455.3 62.5h.9M468.9 58.9h.9M452.6 63.5h.9M450.7 61.7h.9M460.6 57.4h.9M475.8 51.6h.9M465.9 60.9h.9M458.6 60.5h.9M454.8 58.5h.9M472.9 54.2h.9M458.0 57.4h.9M471.4 56.9h.9M455.4 63.0h.9M470.4 68.2h.9M459.8 62.3h.9M448.7 63.0h.9M468.3 62.1h.9M455.0 69.0h.9M453.1 65.6h.9M462.9 52.0h.9M475.3 54.7h.9M452.0 59.0h.9M455.1 65.2h.9M468.4 62.7h.9M475.8 56.2h.9M475.1 64.3h.9M488.3 57.0h.9M461.7 55.7h.9M460.9 60.6h.9M467.7 52.7h.9M460.6 59.6h.9M458.0 57.9h.9M469.1 54.4h.9M470.6 53.6h.9M467.4 53.9h.9M480.6 61.1h.9M481.3 53.1h.9M448.6 55.9h.9M463.8 65.4h.9M474.8 61.7h.9M451.5 67.4h.9M474.2 55.7h.9M465.3 67.7h.9M468.2 59.0h.9M470.8 62.1h.9M480.4 53.8h.9M470.3 56.9h.9M454.3 64.1h.9M476.0 63.8h.9M462.4 52.8h.9M458.3 63.0h.9M480.5 56.5h.9M487.5 59.6h.9M485.8 55.7h.9M475.2 57.2h.9M466.9 65.4h.9M489.3 56.7h.9M468.8 54.9h.9M463.6 62.7h.9M450.2 60.1h.9M452.3 63.0h.9M477.1 59.7h.9M461.7 55.4h.9M446.1 63.0h.9M484.3 55.6h.9M464.7 57.8h.9M452.9 67.2h.9M473.4 51.2h.9M451.7 68.8h.9M455.1 61.3h.9M453.5 63.4h.9M455.8 58.4h.9M474.6 61.3h.9M465.9 59.4h.9M462.1 64.4h.9M450.2 58.1h.9M473.5 51.6h.9M485.6 55.3h.9M469.3 66.0h.9M465.4 60.6h.9M459.1 63.5h.9M473.8 54.1h.9M474.8 63.3h.9M471.1 55.2h.9M478.5 64.7h.9M458.5 51.8h.9M457.3 61.3h.9M482.9 63.2h.9M473.9 55.3h.9M475.3 58.3h.9M477.0 49.9h.9M465.7 55.6h.9M457.5 57.7h.9M471.4 64.0h.9M456.3 59.7h.9M458.8 66.8h.9M477.3 53.7h.9M462.3 61.2h.9M443.4 60.7h.9M466.5 52.6h.9M468.6 59.6h.9M459.9 66.0h.9M454.7 63.7h.9M463.6 65.7h.9M456.7 64.3h.9M474.4 64.2h.9M464.1 54.6h.9M479.0 64.7h.9M462.4 61.6h.9M482.3 58.3h.9M463.0 52.0h.9M457.9 66.1h.9M448.1 64.1h.9M468.6 59.3h.9M475.2 54.6h.9M482.7 54.9h.9M478.0 55.0h.9M468.9 57.7h.9M459.2 68.3h.9M475.9 58.1h.9M461.7 54.0h.9M462.8 62.1h.9M481.5 62.1h.9M484.2 58.9h.9M456.8 59.5h.9M485.0 57.4h.9M459.2 56.8h.9M468.5 55.4h.9M449.4 62.0h.9M470.3 53.3h.9M464.6 55.6h.9M461.8 61.7h.9M472.1 61.1h.9M457.7 68.9h.9M469.5 56.0h.9M482.3 55.2h.9M464.3 57.7h.9M455.0 57.6h.9M463.6 67.1h.9M468.2 59.1h.9M471.1 57.5h.9M449.2 54.9h.9M483.7 55.7h.9M470.3 63.2h.9M461.5 59.9h.9M467.2 59.7h.9M485.0 56.4h.9M477.6 58.7h.9M447.6 68.9h.9M458.5 62.1h.9M461.5 58.2h.9M461.7 51.0h.9M476.0 66.5h.9M470.4 50.3h.9M459.8 62.3h.9M466.2 65.7h.9M453.4 58.6h.9M473.9 56.4h.9M447.0 56.2h.9M453.1 56.2h.9M480.6 61.3h.9M466.5 56.8h.9M464.3 53.1h.9M470.3 54.2h.9M459.6 62.6h.9M453.5 54.5h.9M448.4 56.4h.9M456.4 60.6h.9M484.9 63.1h.9M477.1 57.6h.9M468.2 56.5h.9M444.5 65.1h.9M479.9 59.1h.9M466.1 64.3h.9M470.8 65.0h.9M458.9 51.4h.9M472.8 63.4h.9M455.9 62.6h.9M462.3 54.2h.9M462.1 64.1h.9M456.9 59.5h.9M473.5 53.5h.9M464.6 58.9h.9M472.7 63.3h.9M464.6 67.4h.9M459.3 58.8h.9M466.7 58.3h.9M484.8 61.2h.9M457.0 63.3h.9M442.5 61.8h.9M485.6 60.1h.9M481.0 58.0h.9M470.2 60.5h.9M477.0 65.2h.9M467.0 61.7h.9M464.8 61.5h.9M456.2 66.7h.9M475.4 60.1h.9M465.2 56.4h.9M452.7 56.0h.9M456.4 66.3h.9M470.4 51.5h.9M454.5 68.9h.9M471.4 55.7h.9M472.1 61.0h.9M457.4 61.1h.9M454.0 66.2h.9M484.2 58.6h.9M452.3 56.4h.9M476.1 57.1h.9M462.3 54.9h.9M470.0 60.6h.9M476.4 53.5h.9M465.2 52.7h.9M469.7 59.6h.9M462.7 65.5h.9M472.7 62.2h.9M469.9 55.8h.9M460.3 66.2h.9M466.9 61.7h.9M463.1 65.2h.9M474.4 51.9h.9M478.1 60.1h.9M467.0 64.7h.9M452.6 62.2h.9M468.7 64.9h.9M450.6 60.3h.9M463.6 65.8h.9M481.6 58.8h.9M480.9 58.4h.9M454.2 56.0h.9M472.7 59.5h.9M452.7 62.4h.9M465.3 62.3h.9M458.8 57.4h.9M482.1 56.1h.9M479.0 53.3h.9M463.2 58.7h.9M454.4 65.6h.9M449.1 63.9h.9M467.8 65.7h.9M465.4 53.2h.9M460.4 61.2h.9M467.4 63.9h.9M473.5 63.9h.9M457.5 62.0h.9M452.6 61.1h.9M466.4 57.4h.9M459.5 51.9h.9M457.2 58.1h.9M469.3 61.8h.9M460.3 60.0h.9M469.9 54.5h.9M470.6 56.6h.9M469.8 65.4h.9M481.3 50.4h.9M469.6 55.5h.9M460.6 62.1h.9M472.7 57.3h.9M455.0 60.6h.9M446.5 66.1h.9M467.4 59.7h.9M452.2 59.5h.9M461.2 57.8h.9M462.9 60.9h.9M460.6 63.0h.9M474.8 55.6h.9M475.4 58.6h.9M459.1 63.4h.9M479.9 55.9h.9M477.7 52.1h.9M464.5 62.4h.9M475.7 62.5h.9M484.0 51.4h.9M474.1 54.6h.9M442.4 65.1h.9M467.2 55.7h.9M469.4 63.9h.9M478.8 59.9h.9M449.4 60.7h.9M468.0 62.2h.9M465.1 59.7h.9M450.1 59.0h.9M477.4 52.4h.9M456.3 58.2h.9M457.3 58.2h.9M474.5 61.6h.9M466.9 61.8h.9M466.8 59.5h.9M479.0 52.1h.9M461.9 56.5h.9M476.6 55.2h.9M462.8 51.5h.9M469.6 58.7h.9M470.1 51.4h.9M454.5 56.2h.9M466.2 56.6h.9M453.2 68.8h.9M459.1 66.4h.9M475.2 54.2h.9M474.7 64.3h.9M470.4 61.1h.9M456.3 57.2h.9M448.1 63.9h.9M469.5 49.5h.9M461.8 63.1h.9M460.3 58.7h.9M459.3 61.8h.9M475.4 52.5h.9M462.4 57.0h.9M454.7 58.6h.9M470.0 55.1h.9M472.7 57.1h.9M460.2 61.8h.9M471.3 57.8h.9M464.1 54.4h.9M465.2 63.5h.9M466.3 58.6h.9M447.5 68.5h.9M450.7 65.6h.9M461.2 64.6h.9M478.5 55.9h.9M451.8 56.9h.9M473.8 57.6h.9M482.7 55.9h.9M476.7 59.9h.9M487.9 54.3h.9M475.7 60.8h.9M461.6 58.3h.9M477.8 54.3h.9M459.1 65.2h.9M478.7 65.9h.9M456.7 54.0h.9M459.9 59.4h.9M487.7 56.3h.9M449.8 62.1h.9M449.2 67.7h.9M466.2 54.2h.9M462.8 60.5h.9M450.1 59.1h.9M484.5 58.4h.9M479.9 57.2h.9M458.5 62.5h.9M453.9 63.5h.9M461.3 58.8h.9M461.2 55.4h.9M467.3 52.7h.9M477.0 56.7h.9M468.2 61.8h.9M470.3 60.0h.9M470.5 60.8h.9M459.3 59.1h.9M461.8 56.5h.9M459.6 67.6h.9M459.2 64.0h.9M465.4 58.8h.9M474.1 67.4h.9M464.0 59.8h.9M481.5 63.1h.9M470.2 49.6h.9M458.2 66.0h.9M457.5 57.4h.9M470.5 56.4h.9M468.9 50.7h.9M453.7 62.6h.9M476.8 57.8h.9M449.3 59.7h.9M479.3 54.4h.9M469.1 61.4h.9M458.4 61.0h.9M466.4 62.9h.9M481.8 54.6h.9M471.4 58.1h.9M454.7 57.3h.9M464.7 59.9h.9M465.6 63.2h.9M468.8 65.4h.9M463.9 54.7h.9M486.1 59.9h.9M461.8 58.9h.9M462.3 61.0h.9M443.5 63.9h.9M457.9 63.4h.9M468.7 53.6h.9M483.2 60.8h.9M452.9 56.1h.9M456.8 62.8h.9M480.7 52.5h.9M455.8 63.9h.9M464.6 59.5h.9M463.5 58.3h.9M462.1 66.8h.9M489.8 58.3h.9M468.8 56.5h.9M467.0 60.6h.9M481.2 52.2h.9M444.0 60.4h.9M462.0 55.9h.9M451.0 62.6h.9M479.0 50.4h.9M468.0 58.3h.9M473.5 58.4h.9M457.8 65.5h.9M469.8 53.5h.9M468.3 63.2h.9M457.5 58.8h.9M466.0 56.4h.9M463.0 54.8h.9M453.7 62.8h.9M445.2 62.8h.9M479.7 54.3h.9M458.0 56.4h.9M447.9 59.3h.9M448.5 61.0h.9M456.9 54.9h.9M466.0 64.6h.9M474.6 56.5h.9M463.5 54.3h.9M462.0 63.4h.9M475.4 64.9h.9M470.7 66.6h.9M465.6 65.8h.9M463.4 54.2h.9M468.2 56.3h.9M464.4 62.2h.9M474.9 61.2h.9M475.5 49.7h.9M478.5 52.9h.9M465.3 57.2h.9M450.5 66.3h.9M451.1 58.7h.9M459.9 64.3h.9M463.9 57.1h.9M472.8 54.5h.9M457.7 61.8h.9M456.0 58.2h.9M451.9 61.5h.9M477.7 57.0h.9M467.5 52.8h.9M461.6 61.9h.9M466.7 63.1h.9M470.3 54.9h.9M461.4 60.1h.9M478.0 55.8h.9M463.7 52.7h.9M484.0 58.9h.9M457.8 53.7h.9M465.3 64.1h.9M459.8 58.2h.9M452.9 64.0h.9M455.8 64.1h.9M469.6 61.1h.9M453.6 67.5h.9M461.6 53.8h.9M464.8 60.6h.9M466.7 64.4h.9M465.0 66.1h.9M466.0 66.3h.9M462.7 63.0h.9M472.9 55.3h.9M472.4 57.8h.9M463.5 66.5h.9M470.1 60.2h.9M462.4 65.4h.9M458.0 54.4h.9M463.9 69.7h.9M455.2 68.1h.9M470.4 53.3h.9M461.9 55.6h.9M470.4 53.5h.9M457.5 60.6h.9M487.3 53.5h.9M456.4 66.2h.9M456.4 55.6h.9M464.3 64.2h.9M467.0 57.5h.9M453.3 60.5h.9M467.5 59.0h.9M466.7 61.9h.9M470.3 65.5h.9M467.6 57.2h.9M472.4 56.9h.9M448.4 60.4h.9M475.6 59.8h.9M473.9 55.8h.9M473.9 66.0h.9M460.9 57.9h.9M481.5 57.8h.9M450.2 60.0h.9M482.8 58.9h.9M469.8 64.7h.9M458.7 66.5h.9M464.4 58.7h.9M470.4 56.6h.9M450.5 57.5h.9M472.6 60.3h.9M467.4 63.3h.9M454.0 59.5h.9M485.9 51.6h.9M482.0 55.8h.9M472.7 59.9h.9M462.6 60.9h.9M477.5 54.3h.9M454.3 66.1h.9M460.6 59.7h.9M463.1 58.0h.9M442.7 63.0h.9M458.8 53.8h.9M458.8 62.2h.9M487.5 53.5h.9M482.6 54.8h.9M471.6 57.6h.9M475.5 59.0h.9M459.6 52.7h.9M477.3 50.1h.9M459.5 70.1h.9M469.0 59.8h.9M467.7 60.8h.9M461.8 62.3h.9M463.5 58.5h.9M472.4 62.1h.9M471.2 64.0h.9M466.4 54.1h.9M480.7 58.1h.9M475.6 56.5h.9M476.0 52.5h.9M467.1 52.7h.9M479.6 64.9h.9M452.2 64.1h.9M482.8 56.3h.9M471.0 58.0h.9M463.5 67.5h.9M456.5 61.7h.9M473.7 59.0h.9M479.9 51.6h.9M463.4 58.6h.9M472.2 58.0h.9M461.5 64.3h.9M457.5 58.3h.9M449.9 56.2h.9M460.9 64.5h.9M459.2 56.8h.9M464.3 56.1h.9M465.3 51.3h.9M458.4 56.4h.9M459.1 57.9h.9M456.6 54.7h.9M470.0 54.8h.9M477.1 64.3h.9M451.6 61.3h.9M473.7 63.4h.9M460.3 62.2h.9M459.0 51.6h.9M477.4 57.7h.9M471.0 57.9h.9M454.5 59.1h.9M469.1 52.7h.9M460.9 63.8h.9M468.1 58.5h.9M477.3 58.5h.9M484.9 58.5h.9M447.7 61.9h.9M465.6 57.0h.9M465.1 59.8h.9M446.0 65.9h.9M465.4 65.6h.9M486.8 53.2h.9M457.9 67.1h.9M479.9 59.3h.9M475.0 56.8h.9M465.8 59.9h.9M475.2 53.7h.9M459.5 62.5h.9M475.2 58.5h.9M460.7 62.9h.9M466.9 54.6h.9M461.8 58.7h.9M473.4 52.0h.9M455.7 59.5h.9M464.8 65.5h.9M476.9 64.8h.9M488.3 59.3h.9M453.7 60.0h.9M474.1 54.3h.9M467.6 61.2h.9M478.4 62.4h.9M456.1 67.5h.9M459.3 62.4h.9M474.9 62.1h.9M472.2 56.1h.9M465.2 64.8h.9M459.4 54.9h.9M454.8 61.7h.9M452.3 59.8h.9M462.1 65.4h.9M454.0 55.6h.9M468.1 63.8h.9M454.9 64.2h.9M466.6 62.3h.9M442.6 64.0h.9M462.9 61.4h.9M457.3 60.6h.9M483.3 58.1h.9M467.1 61.4h.9M483.2 53.6h.9M446.5 57.2h.9M457.5 61.6h.9M475.7 54.5h.9M453.8 66.4h.9M478.8 53.8h.9M475.3 57.4h.9M459.5 60.1h.9M453.6 52.9h.9M447.2 58.8h.9M469.8 61.2h.9M476.0 54.1h.9M464.2 52.5h.9M454.0 67.0h.9M465.5 69.6h.9M473.9 56.0h.9M483.1 62.2h.9M469.1 53.8h.9M442.9 61.4h.9M464.1 52.3h.9M475.3 63.3h.9M453.0 60.5h.9M448.5 67.8h.9M453.3 55.8h.9M472.7 52.2h.9M454.1 61.2h.9M466.1 54.1h.9M483.4 60.3h.9M445.9 66.7h.9M468.2 57.8h.9M451.2 64.7h.9M460.1 67.8h.9M480.6 62.2h.9M442.2 65.2h.9M482.6 63.1h.9M457.0 68.9h.9M472.2 58.0h.9M467.9 57.8h.9M471.7 57.9h.9M445.6 59.7h.9M471.2 60.0h.9M485.3 61.8h.9M482.4 56.9h.9M479.0 53.9h.9M457.8 65.8h.9M468.2 55.2h.9M479.2 65.4h.9M476.7 65.0h.9M478.5 62.7h.9M457.6 55.1h.9M466.6 55.8h.9M464.9 55.1h.9M463.6 68.0h.9M484.5 60.9h.9M464.8 57.7h.9M469.3 57.2h.9M477.8 56.2h.9M457.9 63.9h.9M455.7 64.3h.9M449.9 59.4h.9M467.4 55.8h.9M478.2 57.3h.9M472.9 59.0h.9M469.3 55.4h.9M450.3 54.7h.9M465.9 59.9h.9M465.4 60.6h.9M445.3 64.6h.9M476.8 53.2h.9M467.1 57.5h.9M480.6 51.5h.9M452.8 60.6h.9M449.2 61.3h.9M472.0 67.0h.9M473.9 63.1h.9M455.6 61.7h.9M489.9 57.8h.9M456.3 61.4h.9M452.8 65.2h.9M451.3 63.8h.9M445.4 58.4h.9M469.3 62.3h.9M451.9 53.9h.9M471.9 53.4h.9M471.7 65.6h.9M472.6 50.6h.9M482.5 63.0h.9M457.5 58.8h.9M484.3 58.5h.9M472.0 64.5h.9M483.7 57.7h.9M467.1 58.0h.9M480.5 51.2h.9M476.8 54.9h.9M471.7 60.4h.9M461.8 60.3h.9M458.8 68.0h.9M483.6 56.8h.9M466.3 61.3h.9M477.9 59.2h.9M459.9 59.6h.9M469.6 58.5h.9M462.1 67.0h.9M472.3 63.7h.9M455.4 66.0h.9M466.3 58.5h.9M456.8 58.0h.9M460.2 61.5h.9M472.6 60.2h.9M464.4 56.0h.9M456.1 63.4h.9M482.8 63.1h.9M481.4 61.1h.9M486.8 52.4h.9M460.9 64.0h.9M465.8 52.4h.9M477.7 63.5h.9M463.9 62.3h.9M458.4 56.6h.9M463.4 53.8h.9M450.1 63.6h.9M480.4 64.7h.9M461.8 66.6h.9M446.2 58.9h.9M471.3 63.2h.9M471.9 60.6h.9M475.3 58.1h.9M450.4 68.4h.9M476.5 59.2h.9M485.8 56.1h.9M475.5 57.0h.9M478.4 60.0h.9M454.0 65.0h.9M466.7 64.7h.9M487.5 56.1h.9M474.5 59.7h.9M457.9 62.0h.9M461.2 63.8h.9M452.1 57.2h.9M478.2 61.0h.9M474.3 61.7h.9M480.4 60.3h.9M477.8 54.1h.9M472.6 55.1h.9M450.4 61.3h.9M475.0 58.8h.9M472.2 59.7h.9M449.4 63.0h.9M468.4 69.0h.9M456.4 61.0h.9M457.5 62.2h.9M444.6 65.1h.9M467.0 60.9h.9M472.9 58.9h.9M488.8 58.3h.9M450.6 64.8h.9M444.6 58.8h.9M458.1 55.5h.9M466.3 58.1h.9M457.4 63.4h.9M458.2 68.1h.9M474.5 56.4h.9M471.7 55.5h.9M459.3 66.6h.9M446.3 65.6h.9M450.9 59.3h.9M441.5 62.8h.9M476.3 54.2h.9M468.4 62.9h.9M488.8 55.9h.9M476.1 61.1h.9M466.7 58.0h.9M471.6 62.8h.9M448.8 60.7h.9M471.0 60.8h.9M472.0 67.8h.9M479.0 51.2h.9M486.4 53.0h.9M456.3 67.3h.9M460.6 51.7h.9M474.8 61.0h.9M472.1 51.4h.9M476.3 55.0h.9M477.0 51.5h.9M456.9 67.1h.9M468.8 56.4h.9M484.3 58.1h.9M476.6 60.1h.9M464.9 60.8h.9M472.8 64.9h.9M474.8 63.3h.9M470.4 60.0h.9M471.0 53.7h.9M467.1 54.0h.9M467.1 59.3h.9M464.0 61.9h.9M459.5 60.8h.9M476.5 66.3h.9M472.1 63.3h.9M475.1 67.4h.9M475.4 60.0h.9M456.2 52.1h.9M484.4 58.5h.9M475.2 60.6h.9M470.1 61.4h.9M470.3 58.9h.9M458.2 57.9h.9M482.6 53.3h.9M452.8 65.5h.9M452.2 56.4h.9M471.5 62.0h.9M484.5 56.6h.9M462.3 57.2h.9M480.3 54.4h.9M454.9 60.4h.9M466.0 62.0h.9M467.0 54.3h.9M461.3 54.0h.9M462.5 61.8h.9M467.1 52.4h.9M481.8 56.4h.9M468.1 67.3h.9M453.1 64.1h.9M457.2 62.2h.9M465.1 60.5h.9M446.9 61.5h.9M477.4 57.5h.9M477.7 61.5h.9M468.8 57.4h.9M466.1 54.8h.9M474.9 60.1h.9M477.5 61.0h.9M469.1 63.9h.9M483.8 55.5h.9M448.1 55.3h.9M479.4 60.2h.9M471.6 49.9h.9M457.2 52.8h.9M450.4 59.2h.9M458.2 69.6h.9M448.7 59.2h.9M456.1 61.8h.9M474.8 54.1h.9M443.6 61.0h.9M470.2 53.3h.9M477.8 52.4h.9M457.0 58.8h.9M469.7 53.8h.9M450.6 58.5h.9M467.2 55.8h.9M442.3 61.1h.9M473.2 61.7h.9M470.4 55.3h.9M472.4 57.9h.9M477.6 59.3h.9M476.3 60.0h.9M460.6 67.0h.9M452.8 65.5h.9M459.8 58.8h.9M469.0 56.5h.9M451.7 57.1h.9M451.1 62.3h.9M469.9 58.7h.9M445.6 63.7h.9M477.3 51.9h.9M454.8 66.5h.9M464.6 65.8h.9M460.3 53.0h.9M465.3 59.6h.9M469.0 54.8h.9M459.9 69.3h.9M451.4 63.4h.9M471.5 63.6h.9M465.3 56.4h.9M466.0 51.9h.9M487.1 60.9h.9M445.9 57.7h.9M469.3 54.8h.9M452.6 56.1h.9M470.8 55.2h.9M465.8 65.4h.9M480.4 58.6h.9M464.6 66.9h.9M474.3 57.5h.9M459.3 60.9h.9M478.6 61.5h.9M458.1 60.2h.9M467.7 57.3h.9M464.0 54.9h.9M455.6 63.0h.9M468.7 57.8h.9M475.2 59.8h.9M460.3 64.3h.9M480.2 57.6h.9M454.3 60.6h.9M473.4 58.7h.9M455.0 59.0h.9M462.8 58.9h.9M468.0 67.9h.9M468.6 57.4h.9M475.5 61.8h.9M451.7 58.9h.9M452.2 63.8h.9M476.9 57.0h.9M481.5 54.4h.9M461.9 60.2h.9M469.8 68.0h.9M452.2 65.0h.9M468.0 65.8h.9M448.0 56.6h.9M479.9 57.0h.9M479.8 57.8h.9M452.0 61.4h.9M461.8 55.1h.9M458.2 57.5h.9M473.6 63.8h.9M481.3 63.2h.9M452.8 65.0h.9M476.9 60.3h.9M467.4 55.3h.9M476.4 50.5h.9M472.7 56.5h.9M448.6 60.2h.9M464.8 64.4h.9M477.3 64.6h.9M475.4 56.0h.9M460.5 61.6h.9M460.2 52.1h.9M460.3 66.2h.9M468.3 62.0h.9M467.8 65.4h.9M459.1 61.1h.9M470.9 73.8h.9M459.2 66.8h.9M466.0 65.6h.9M458.0 77.2h.9M448.2 69.0h.9M454.4 64.6h.9M456.8 78.9h.9M450.0 62.6h.9M477.5 66.9h.9M447.0 70.6h.9M463.1 69.4h.9M468.0 67.9h.9M459.4 62.8h.9M462.4 69.2h.9M444.0 73.3h.9M460.8 71.7h.9M471.7 61.5h.9M440.7 67.5h.9M457.3 68.4h.9M466.4 65.4h.9M473.1 60.6h.9M467.8 70.7h.9M466.6 70.3h.9M448.5 77.5h.9M454.0 68.8h.9M448.6 74.0h.9M454.1 65.4h.9M468.2 61.1h.9M465.8 68.2h.9M467.7 66.7h.9M445.8 73.3h.9M468.8 78.8h.9M452.4 63.1h.9M469.6 69.6h.9M469.0 70.1h.9M465.5 66.3h.9M454.9 74.8h.9M463.0 75.0h.9M455.1 68.0h.9M452.3 75.1h.9M449.7 66.6h.9M460.4 66.0h.9M477.8 66.0h.9M475.9 73.8h.9M476.1 70.6h.9M456.0 72.7h.9M461.3 73.5h.9M455.1 74.5h.9M456.3 74.7h.9M479.0 71.9h.9M458.5 78.1h.9M439.9 75.2h.9M443.4 73.3h.9M446.3 72.1h.9M454.6 78.8h.9M475.4 67.8h.9M460.1 67.2h.9M445.5 67.3h.9M471.0 63.1h.9M465.0 61.4h.9M463.8 80.6h.9M470.1 73.6h.9M459.1 66.1h.9M481.1 68.3h.9M474.1 72.0h.9M462.8 65.1h.9M463.8 56.0h.9M465.0 75.3h.9M462.3 81.0h.9M455.8 63.1h.9M469.1 65.4h.9M468.7 62.3h.9M469.1 67.3h.9M466.8 73.6h.9M452.0 70.0h.9M478.0 72.4h.9M469.1 59.0h.9M463.8 65.2h.9M455.3 59.8h.9M469.6 56.5h.9M457.5 70.0h.9M455.4 73.5h.9M454.6 61.0h.9M457.3 72.6h.9M451.5 76.2h.9M476.0 68.7h.9M468.7 65.9h.9M467.4 62.0h.9M481.7 70.0h.9M447.9 70.5h.9M450.5 63.3h.9M458.7 74.4h.9M461.8 66.6h.9M446.9 72.4h.9M472.0 66.7h.9M449.2 67.0h.9M470.2 57.3h.9M476.6 70.2h.9M454.6 60.7h.9M452.6 65.8h.9M451.7 65.6h.9M461.4 66.3h.9M460.5 68.3h.9M461.3 67.7h.9M460.8 74.8h.9M470.1 66.7h.9M460.4 72.4h.9M473.6 62.1h.9M463.6 55.5h.9M453.7 73.5h.9M461.1 55.1h.9M468.6 78.1h.9M479.5 58.3h.9M459.4 71.3h.9M477.5 73.6h.9M471.6 67.8h.9M449.9 78.4h.9M455.7 76.4h.9M475.7 54.8h.9M476.5 70.6h.9M483.3 68.1h.9M451.3 69.8h.9M471.7 72.0h.9M462.1 63.3h.9M445.9 73.1h.9M456.4 73.8h.9M470.9 66.7h.9M454.7 74.4h.9M453.2 69.0h.9M446.7 68.6h.9M465.5 61.6h.9M447.9 78.9h.9M462.4 72.1h.9M465.5 68.1h.9M483.8 62.9h.9M459.8 70.3h.9M455.4 57.7h.9M457.1 69.5h.9M473.3 58.6h.9M457.7 69.6h.9M470.8 70.4h.9M472.9 66.1h.9M449.4 75.3h.9M458.1 78.5h.9M459.3 74.7h.9M445.7 66.0h.9M463.4 66.2h.9M449.0 70.2h.9M469.2 68.4h.9M469.7 68.4h.9M449.3 75.2h.9M463.8 64.5h.9M465.1 66.0h.9M454.6 77.2h.9M464.0 64.9h.9M465.3 61.0h.9M467.2 65.8h.9M461.2 74.7h.9M472.6 63.2h.9M476.5 64.2h.9M462.3 73.3h.9M449.7 61.0h.9M461.2 74.4h.9M459.3 74.9h.9M476.3 62.1h.9M461.5 67.5h.9M470.7 69.3h.9M466.4 76.4h.9M467.2 68.9h.9M452.6 71.3h.9M479.8 68.3h.9M463.1 67.4h.9M449.0 67.0h.9M474.8 65.1h.9M465.1 76.1h.9M455.9 66.8h.9M480.9 67.6h.9M442.1 73.7h.9M451.3 67.9h.9M456.3 59.0h.9M456.0 82.3h.9M458.6 66.1h.9M471.7 56.7h.9M461.3 77.3h.9M462.7 70.6h.9M459.9 71.4h.9M470.6 65.0h.9M463.8 69.7h.9M464.5 65.4h.9M479.6 59.2h.9M480.1 59.0h.9M454.0 69.8h.9M469.7 65.0h.9M475.3 67.1h.9M464.9 72.3h.9M456.2 57.0h.9M466.9 63.6h.9M468.2 73.7h.9M472.9 64.4h.9M457.4 73.7h.9M457.8 75.4h.9M453.6 75.0h.9M444.5 74.7h.9M456.9 76.3h.9M442.4 75.3h.9M476.5 65.5h.9M465.3 75.1h.9M464.5 77.1h.9M480.7 61.6h.9M479.8 68.7h.9M461.1 68.9h.9M474.1 57.3h.9M444.8 81.2h.9M472.9 54.9h.9M445.1 69.6h.9M458.4 70.8h.9M456.5 69.7h.9M461.2 73.0h.9M477.4 70.5h.9M479.7 62.7h.9M453.6 58.3h.9M442.8 79.2h.9M468.5 67.2h.9M456.3 61.8h.9M477.7 59.8h.9M469.9 75.2h.9M480.6 61.5h.9M475.9 70.9h.9M463.5 70.3h.9M451.5 73.1h.9M453.5 69.3h.9M465.1 74.1h.9M458.7 67.6h.9M457.7 72.9h.9M443.2 73.9h.9M446.0 69.0h.9M474.5 76.8h.9M465.3 71.7h.9M463.6 65.1h.9M464.8 74.4h.9M464.1 65.4h.9M457.0 73.1h.9M459.6 75.4h.9M445.7 78.1h.9M451.7 70.8h.9M455.0 67.8h.9M475.1 71.4h.9M463.1 73.3h.9M475.2 61.7h.9M469.5 65.4h.9M457.1 63.8h.9M473.3 71.2h.9M479.4 68.7h.9M466.8 63.7h.9M463.5 71.1h.9M461.3 74.3h.9M452.7 71.5h.9M454.3 65.1h.9M457.9 70.4h.9M469.9 56.3h.9M458.8 62.6h.9M454.9 65.6h.9M471.5 72.4h.9M448.7 69.1h.9M463.7 60.9h.9M481.1 63.6h.9M460.8 60.8h.9M475.2 55.7h.9M451.7 67.1h.9M457.8 59.8h.9M453.0 74.8h.9M461.6 69.3h.9M475.0 67.9h.9M474.7 65.1h.9M453.4 81.9h.9M464.7 75.0h.9M440.2 66.7h.9M465.1 64.4h.9M464.3 71.9h.9M463.2 68.7h.9M464.2 66.4h.9M467.5 73.5h.9M450.6 73.3h.9M472.8 64.2h.9M463.9 80.4h.9M485.0 60.0h.9M452.7 69.0h.9M464.7 75.9h.9M463.2 70.4h.9M456.3 58.7h.9M473.6 63.5h.9M468.1 67.0h.9M467.4 66.4h.9M452.5 73.8h.9M475.8 64.8h.9M461.2 55.8h.9M453.4 65.0h.9M473.2 69.7h.9M470.8 73.0h.9M458.9 80.8h.9M460.6 75.1h.9M466.7 66.4h.9M464.3 69.9h.9M461.2 68.8h.9M468.8 57.7h.9M452.0 67.8h.9M445.4 75.3h.9M454.9 64.6h.9M443.4 67.5h.9M465.5 59.0h.9M474.7 69.3h.9M462.9 56.9h.9M454.2 77.6h.9M456.0 64.9h.9M453.6 73.3h.9M463.2 61.2h.9M447.0 74.5h.9M478.8 55.9h.9M444.0 72.8h.9M461.8 63.3h.9M454.5 80.9h.9M447.4 61.4h.9M458.8 78.0h.9M470.4 65.8h.9M445.3 72.2h.9M472.3 54.9h.9M455.6 66.3h.9M483.1 60.7h.9M460.1 65.5h.9M436.9 71.1h.9M440.8 69.9h.9M455.0 66.7h.9M477.9 55.9h.9M458.6 72.8h.9M455.6 66.5h.9M451.5 72.8h.9M451.0 74.3h.9M445.0 78.3h.9M467.0 69.2h.9M461.9 69.8h.9M450.7 71.7h.9M469.8 69.1h.9M450.8 75.1h.9M445.2 67.8h.9M449.7 67.4h.9M461.1 73.0h.9M475.7 67.6h.9M453.4 75.6h.9M472.6 60.2h.9M446.2 71.4h.9M485.4 59.9h.9M460.5 73.4h.9M444.7 65.5h.9M461.4 74.0h.9M456.4 65.3h.9M447.7 80.9h.9M454.3 78.0h.9M481.5 57.0h.9M470.0 71.0h.9M476.7 62.1h.9M477.2 64.8h.9M450.4 78.1h.9M477.4 64.0h.9M461.1 73.6h.9M451.3 74.9h.9M462.8 70.4h.9M452.6 61.3h.9M460.6 81.2h.9M447.3 68.9h.9M454.4 72.9h.9M456.0 64.4h.9M451.4 69.9h.9M476.3 65.2h.9M453.5 69.3h.9M469.1 60.4h.9M460.8 64.8h.9M446.0 81.9h.9M444.9 67.3h.9M461.2 72.9h.9M463.1 59.4h.9M457.3 80.5h.9M457.3 63.0h.9M471.9 63.4h.9M472.5 64.1h.9M461.0 72.7h.9M448.8 61.4h.9M459.9 64.3h.9M459.8 63.7h.9M449.3 61.9h.9M468.0 79.6h.9M447.5 79.7h.9M468.7 61.9h.9M449.3 75.1h.9M456.3 67.7h.9M458.7 81.9h.9M441.6 76.5h.9M485.5 62.9h.9M464.8 72.7h.9M452.3 71.0h.9M467.6 62.2h.9M469.2 73.7h.9M446.5 71.5h.9M465.3 62.4h.9M476.4 72.7h.9M454.8 71.8h.9M453.4 69.7h.9M467.2 65.8h.9M463.0 65.0h.9M478.3 70.2h.9M454.8 74.0h.9M460.5 74.2h.9M471.5 71.5h.9M466.0 73.9h.9M477.3 69.1h.9M458.2 68.3h.9M462.1 66.9h.9M449.3 63.2h.9M459.1 63.0h.9M455.2 61.6h.9M444.0 70.4h.9M462.7 75.3h.9M468.7 68.7h.9M459.3 73.5h.9M466.2 57.8h.9M470.0 64.9h.9M440.5 68.9h.9M472.4 72.0h.9M462.5 76.5h.9M469.3 56.0h.9M448.7 74.3h.9M449.5 67.5h.9M465.2 65.6h.9M450.7 61.9h.9M458.3 76.8h.9M458.9 62.7h.9M449.3 79.6h.9M445.3 77.1h.9M481.4 59.4h.9M471.1 55.0h.9M468.4 68.0h.9M467.9 54.7h.9M482.2 60.1h.9M438.6 74.3h.9M453.5 81.1h.9M466.6 75.6h.9M450.1 66.2h.9M463.7 68.3h.9M450.6 74.9h.9M476.0 62.1h.9M454.4 66.9h.9M468.2 65.7h.9M469.1 74.0h.9M457.2 67.6h.9M460.2 78.8h.9M460.1 69.1h.9M459.1 75.1h.9M464.7 59.6h.9M474.3 67.7h.9M477.7 67.6h.9M459.0 62.1h.9M476.2 72.9h.9M450.1 70.9h.9M467.2 65.9h.9M465.7 64.6h.9M455.3 78.3h.9M440.7 78.2h.9M451.3 71.2h.9M453.0 71.6h.9M453.9 72.2h.9M441.3 66.3h.9M460.6 72.8h.9M457.7 74.6h.9M446.4 64.3h.9M440.3 70.9h.9M453.1 81.6h.9M460.8 70.3h.9M479.1 55.9h.9M446.2 67.0h.9M477.1 54.9h.9M445.3 61.6h.9M466.2 72.7h.9M450.7 78.9h.9M461.7 62.4h.9M470.5 74.5h.9M478.5 67.3h.9M478.2 63.8h.9M468.4 78.7h.9M458.5 63.5h.9M444.9 69.2h.9M446.3 71.1h.9M443.6 72.3h.9M462.6 73.4h.9M477.3 74.8h.9M455.8 60.3h.9M472.0 68.3h.9M457.3 75.1h.9M456.5 71.1h.9M444.3 66.0h.9M474.3 63.6h.9M447.5 78.6h.9M471.6 72.5h.9M486.1 65.1h.9M471.5 66.5h.9M473.7 77.0h.9M469.8 62.0h.9M444.7 68.8h.9M455.5 79.1h.9M449.7 68.7h.9M461.9 72.2h.9M467.6 59.0h.9M444.6 63.1h.9M475.9 62.8h.9M464.0 67.8h.9M457.5 72.9h.9M460.1 58.0h.9M455.9 72.1h.9M473.8 62.7h.9M470.5 67.9h.9M463.6 65.0h.9M468.3 74.1h.9M460.9 66.2h.9M467.4 56.8h.9M472.7 54.4h.9M477.3 66.4h.9M454.2 65.6h.9M463.0 65.3h.9M441.8 72.4h.9M458.0 79.8h.9M443.7 79.9h.9M442.3 68.7h.9M448.4 73.3h.9M470.3 73.1h.9M453.0 74.1h.9M459.3 72.4h.9M460.5 68.4h.9M458.0 72.7h.9M461.2 61.8h.9M471.0 65.2h.9M476.2 64.0h.9M459.1 66.0h.9M457.8 65.1h.9M476.6 70.4h.9M467.2 57.1h.9M465.7 68.6h.9M458.7 72.2h.9M460.3 71.4h.9M461.0 66.6h.9M483.2 62.3h.9M471.1 72.2h.9M449.4 70.4h.9M450.4 70.3h.9M448.3 77.9h.9M459.6 60.6h.9M466.0 60.5h.9M444.2 75.9h.9M461.1 63.6h.9M471.5 68.8h.9M465.6 74.2h.9M467.6 75.3h.9M466.7 69.4h.9M459.3 66.1h.9M440.0 78.3h.9M457.4 63.6h.9M455.7 73.5h.9M458.1 74.7h.9M463.3 59.7h.9M448.7 77.6h.9M472.5 65.6h.9M480.2 63.0h.9M458.0 69.1h.9M463.8 68.9h.9M449.7 65.9h.9M476.5 61.3h.9M459.5 75.2h.9M451.3 66.9h.9M442.5 69.4h.9M448.8 68.7h.9M477.7 69.1h.9M470.8 69.5h.9M468.0 61.9h.9M456.6 70.0h.9M448.4 70.1h.9M468.1 68.8h.9M447.4 77.2h.9M449.1 61.1h.9M473.5 67.4h.9M457.3 64.2h.9M470.7 64.1h.9M453.7 74.2h.9M463.1 59.8h.9M451.9 73.4h.9M461.7 73.7h.9M477.4 60.7h.9M460.2 63.6h.9M449.0 76.0h.9M468.0 68.3h.9M456.0 80.5h.9M467.3 70.8h.9M463.2 70.0h.9M478.0 71.1h.9M475.9 65.4h.9M461.4 60.6h.9M458.3 65.5h.9M451.3 71.2h.9M461.4 63.7h.9M439.9 72.5h.9M462.3 70.3h.9M448.3 63.1h.9M438.4 74.5h.9M455.1 74.0h.9M445.8 81.5h.9M458.7 67.6h.9M464.5 72.2h.9M455.0 73.0h.9M469.1 67.8h.9M451.0 73.9h.9M459.1 69.0h.9M476.6 63.6h.9M469.6 76.0h.9M471.9 57.1h.9M474.4 63.7h.9M454.5 69.6h.9M447.7 75.8h.9M451.7 77.0h.9M464.6 67.1h.9M468.0 64.9h.9M463.1 76.0h.9M483.4 66.2h.9M463.2 67.8h.9M456.5 73.3h.9M478.0 73.3h.9M478.5 64.4h.9M456.1 77.6h.9M472.0 62.7h.9M480.7 57.9h.9M446.6 72.1h.9M445.3 71.9h.9M460.2 65.0h.9M460.7 60.4h.9M474.8 70.7h.9M457.6 72.6h.9M459.8 76.9h.9M447.8 74.1h.9M457.4 74.4h.9M459.9 57.2h.9M456.3 63.4h.9M469.0 72.2h.9M447.8 75.1h.9M448.6 68.7h.9M465.9 75.4h.9M468.8 70.9h.9M455.7 69.1h.9M469.9 67.4h.9M464.6 70.4h.9M480.3 66.1h.9M450.6 63.8h.9M462.3 61.9h.9M437.6 73.0h.9M463.9 67.6h.9M462.0 59.7h.9M466.8 72.5h.9M466.0 69.5h.9M463.9 72.9h.9M456.2 70.0h.9M468.6 61.9h.9M464.3 67.7h.9M470.4 63.2h.9M471.2 71.0h.9M458.6 68.5h.9M455.4 65.6h.9M452.6 63.9h.9M471.7 68.6h.9M460.8 69.5h.9M465.1 77.6h.9M472.4 63.5h.9M467.9 56.1h.9M454.8 65.3h.9M465.1 64.0h.9M451.1 66.6h.9M442.2 65.0h.9M450.5 73.9h.9M466.4 72.2h.9M484.0 68.5h.9M438.5 70.6h.9M480.7 64.4h.9M466.9 68.5h.9M445.6 75.5h.9M458.3 62.8h.9M469.2 77.7h.9M457.4 61.1h.9M458.7 63.3h.9M464.8 61.3h.9M460.2 67.8h.9M455.3 67.4h.9M457.1 67.7h.9M460.7 71.9h.9M454.1 64.9h.9M466.4 62.6h.9M486.1 63.4h.9M466.7 72.8h.9M466.5 66.1h.9M455.8 63.8h.9M451.2 76.7h.9M472.3 63.4h.9M447.3 74.7h.9M456.7 72.0h.9M457.1 69.3h.9M440.2 73.5h.9M451.8 77.5h.9M453.3 73.2h.9M467.7 65.3h.9M450.8 71.8h.9M460.3 73.4h.9M447.3 64.0h.9M469.5 67.4h.9M477.3 72.6h.9M438.1 75.8h.9M462.4 68.1h.9M457.9 67.9h.9M469.7 70.6h.9M460.3 73.8h.9M476.2 60.4h.9M474.5 59.2h.9M474.6 58.4h.9M447.5 62.5h.9M456.2 68.8h.9M457.7 66.2h.9M456.1 65.8h.9M455.4 70.1h.9M453.2 70.8h.9M444.4 63.3h.9M467.9 60.6h.9M459.3 61.5h.9M450.9 78.8h.9M451.2 71.7h.9M454.9 69.9h.9M446.4 78.6h.9M461.3 64.5h.9M466.9 55.9h.9M451.3 72.4h.9M478.0 59.7h.9M483.8 69.3h.9M449.6 74.1h.9M472.0 58.3h.9M478.6 70.5h.9M481.7 67.7h.9M460.7 57.3h.9M482.8 66.2h.9M469.4 61.7h.9M449.0 70.8h.9M464.8 58.2h.9M464.3 61.8h.9M454.2 74.6h.9M440.9 69.3h.9M458.7 75.1h.9M460.0 72.4h.9M443.9 62.4h.9M460.5 78.2h.9M465.5 63.6h.9M454.3 78.4h.9M465.3 57.1h.9M461.9 67.6h.9M464.2 66.3h.9M458.0 68.1h.9M455.8 76.2h.9M471.3 62.4h.9M458.4 68.9h.9M454.0 79.2h.9M450.2 78.1h.9M459.2 60.4h.9M454.2 68.3h.9M475.3 72.5h.9M437.5 70.8h.9M474.1 67.6h.9M467.4 70.3h.9M471.5 73.5h.9M464.8 62.5h.9M439.4 73.8h.9M450.5 70.1h.9M459.4 69.3h.9M449.4 65.4h.9M472.6 68.7h.9M454.5 61.4h.9M465.2 63.2h.9M469.0 60.9h.9M462.5 69.6h.9M453.8 73.1h.9M445.0 80.6h.9M453.8 66.7h.9M456.9 66.4h.9M451.3 71.5h.9M451.5 68.2h.9M461.4 66.1h.9M451.1 75.5h.9M482.7 57.9h.9M469.2 60.8h.9M454.6 62.2h.9M451.3 65.2h.9M457.9 66.3h.9M450.5 75.7h.9M442.8 82.8h.9M442.4 77.0h.9M451.3 73.2h.9M444.1 83.0h.9M443.4 61.6h.9M429.0 80.6h.9M430.9 66.2h.9M451.9 61.2h.9M455.3 77.9h.9M432.1 81.7h.9M432.9 78.3h.9M445.9 72.6h.9M457.2 78.0h.9M462.5 66.9h.9M452.4 77.0h.9M441.1 78.3h.9M444.3 79.0h.9M440.8 75.3h.9M434.5 72.8h.9M445.0 76.2h.9M447.5 80.0h.9M434.3 70.4h.9M462.2 73.6h.9M448.0 68.0h.9M445.6 84.1h.9M444.0 64.1h.9M445.6 74.0h.9M453.4 84.4h.9M443.8 77.9h.9M451.5 66.8h.9M438.6 63.4h.9M446.2 79.1h.9M446.9 77.1h.9M434.3 70.1h.9M456.4 76.9h.9M440.0 79.4h.9M434.1 69.0h.9M446.2 73.3h.9M447.2 75.0h.9M440.9 71.5h.9M441.2 74.2h.9M438.5 67.4h.9M447.9 64.4h.9M430.2 78.7h.9M442.3 63.7h.9M444.3 81.4h.9M453.2 77.8h.9M437.1 74.8h.9M435.7 84.4h.9M434.4 68.4h.9M439.3 87.5h.9M450.1 69.5h.9M443.4 63.9h.9M447.6 77.3h.9M435.8 77.3h.9M444.2 78.7h.9M451.5 81.0h.9M442.9 79.0h.9M454.2 84.8h.9M443.8 71.3h.9M436.6 75.2h.9M456.3 68.1h.9M456.0 75.1h.9M439.9 85.0h.9M453.7 79.5h.9M450.5 80.7h.9M440.2 73.3h.9M438.7 82.2h.9M449.5 80.9h.9M439.9 73.5h.9M443.4 75.0h.9M443.0 85.3h.9M437.8 77.7h.9M445.2 75.1h.9M443.4 85.9h.9M436.6 81.7h.9M454.2 80.1h.9M437.8 78.8h.9M449.8 78.1h.9M436.7 73.6h.9M460.3 77.0h.9M451.6 79.8h.9M461.7 70.9h.9M445.1 63.5h.9M440.9 77.9h.9M449.4 68.9h.9M429.4 71.6h.9M443.0 78.5h.9M458.5 73.5h.9M436.3 77.7h.9M441.3 82.9h.9M452.2 61.5h.9M455.4 71.4h.9M447.2 73.1h.9M451.9 75.4h.9M448.9 72.1h.9M442.2 77.8h.9M438.7 67.1h.9M431.2 78.9h.9M433.9 70.1h.9M437.2 80.6h.9M444.6 72.8h.9M457.3 69.8h.9M446.3 76.4h.9M439.7 77.9h.9M440.1 62.6h.9M429.5 70.2h.9M437.9 66.5h.9M456.4 71.2h.9M431.9 71.0h.9M442.1 69.9h.9M430.2 67.6h.9M444.1 86.4h.9M441.5 68.4h.9M431.2 81.7h.9M443.6 82.3h.9M432.9 78.5h.9M457.8 69.5h.9M431.4 73.4h.9M443.7 71.2h.9M447.7 81.2h.9M431.7 64.8h.9M431.0 64.5h.9M433.8 73.6h.9M439.0 62.9h.9M435.0 63.2h.9M446.6 70.6h.9M447.2 82.4h.9M447.3 72.4h.9M443.1 69.8h.9M442.4 85.6h.9M434.8 73.7h.9M443.2 75.5h.9M446.4 64.3h.9M435.4 73.7h.9M444.0 77.2h.9M444.5 73.2h.9M430.1 67.2h.9M429.9 81.1h.9M454.6 64.9h.9M441.8 69.3h.9M438.8 78.3h.9M443.2 69.6h.9M448.7 60.0h.9M455.3 71.9h.9M454.1 66.3h.9M430.9 65.6h.9M442.7 73.8h.9M438.4 74.3h.9M443.7 67.2h.9M447.4 61.0h.9M436.1 76.5h.9M437.9 74.9h.9M438.0 63.8h.9M444.2 63.9h.9M430.5 65.9h.9M441.0 67.6h.9M446.8 77.9h.9M437.3 77.5h.9M448.6 70.9h.9M442.3 78.9h.9M434.1 72.3h.9M439.7 61.5h.9M437.9 75.7h.9M440.9 74.3h.9M438.1 60.1h.9M444.8 79.5h.9M439.6 59.4h.9M437.9 79.6h.9M446.2 77.9h.9M447.4 64.9h.9M443.5 75.3h.9M430.3 71.4h.9M442.0 87.1h.9M451.1 72.0h.9M439.6 62.7h.9M442.6 80.5h.9M437.7 78.1h.9M454.1 69.3h.9M440.1 73.1h.9M450.0 66.9h.9M437.6 73.3h.9M439.7 76.6h.9M451.4 68.7h.9M447.9 73.1h.9M448.6 81.7h.9M438.7 71.1h.9M444.8 72.4h.9M458.3 69.2h.9M437.9 88.4h.9M435.6 80.4h.9M436.3 79.4h.9M458.5 80.6h.9M438.3 78.5h.9M453.4 72.8h.9M458.4 71.3h.9M444.2 65.1h.9M433.9 79.6h.9M434.9 75.6h.9M430.6 71.1h.9M430.3 78.3h.9M434.9 76.3h.9M447.2 70.6h.9M449.2 84.1h.9M457.7 77.5h.9M445.2 62.1h.9M445.6 66.5h.9M453.9 76.3h.9M450.1 78.3h.9M448.4 65.6h.9M431.4 76.7h.9M452.2 72.1h.9M434.0 71.8h.9M436.5 70.5h.9M433.3 87.1h.9M441.8 62.5h.9M444.4 77.5h.9M449.1 65.7h.9M445.1 81.5h.9M450.8 66.7h.9M441.3 69.0h.9M441.1 69.5h.9M439.9 73.5h.9M454.8 66.9h.9M438.8 71.4h.9M444.3 85.8h.9M434.1 66.7h.9M430.0 71.8h.9M434.2 79.0h.9M443.9 71.2h.9M445.6 73.7h.9M439.7 68.2h.9M449.7 72.5h.9M439.3 71.9h.9M443.2 73.2h.9M429.0 72.1h.9M449.0 71.5h.9M439.5 67.2h.9M433.7 70.4h.9M430.0 75.1h.9M449.1 79.2h.9M459.5 75.2h.9M429.3 66.1h.9M445.7 79.6h.9M451.5 72.9h.9M455.5 72.4h.9M438.2 73.9h.9M443.9 78.4h.9M428.9 69.1h.9M453.5 69.7h.9M454.8 76.8h.9M446.9 82.2h.9M441.7 79.2h.9M451.8 80.2h.9M433.0 75.8h.9M458.3 76.7h.9M457.9 82.7h.9M436.7 75.3h.9M457.6 75.6h.9M434.4 79.1h.9M446.0 70.1h.9M439.9 81.5h.9M448.3 65.5h.9M433.1 73.9h.9M442.6 73.9h.9M434.6 78.1h.9M442.6 74.3h.9M441.7 77.0h.9M443.7 71.8h.9M458.1 70.8h.9M449.6 64.0h.9M440.1 67.4h.9M438.2 78.2h.9M437.1 81.9h.9M437.2 88.5h.9M440.4 65.0h.9M449.6 74.7h.9M438.6 79.0h.9M435.7 78.8h.9M435.4 85.8h.9M453.3 64.3h.9M430.8 85.5h.9M430.1 76.7h.9M448.2 79.6h.9M441.9 68.7h.9M451.4 76.2h.9M452.2 65.2h.9M458.7 75.3h.9M440.1 79.3h.9M439.3 61.6h.9M436.3 77.9h.9M445.5 75.5h.9M433.5 68.4h.9M438.2 76.4h.9M441.7 76.9h.9M434.8 71.4h.9M435.8 73.3h.9M436.1 74.9h.9M439.3 84.4h.9M433.9 68.9h.9M448.5 85.1h.9M439.2 66.1h.9M448.6 65.6h.9M441.3 72.5h.9M431.4 82.0h.9M445.4 72.6h.9M443.5 65.5h.9M439.5 77.0h.9M446.9 60.1h.9M445.4 66.0h.9M451.8 65.0h.9M450.3 73.2h.9M452.4 86.1h.9M454.7 73.2h.9M429.8 71.2h.9M438.2 70.5h.9M446.6 77.8h.9M441.7 71.4h.9M448.5 76.4h.9M452.0 67.4h.9M435.1 80.4h.9M451.4 68.0h.9M447.8 80.8h.9M445.7 70.8h.9M448.9 72.3h.9M429.3 73.5h.9M441.8 67.5h.9M451.4 63.8h.9M458.6 68.7h.9M434.3 73.8h.9M448.9 80.9h.9M432.3 81.0h.9M436.3 65.7h.9M432.3 84.9h.9M444.6 84.9h.9M441.9 62.2h.9M437.3 72.7h.9M447.5 71.0h.9M437.0 76.7h.9M451.4 63.0h.9M442.4 72.5h.9M442.7 80.9h.9M434.1 64.7h.9M438.3 65.5h.9M460.4 81.1h.9M431.2 76.1h.9M439.6 88.5h.9M447.3 75.0h.9M453.0 69.4h.9M448.2 68.1h.9M438.5 89.0h.9M435.7 82.2h.9M434.6 76.8h.9M429.8 84.4h.9M432.8 65.2h.9M447.7 63.8h.9M440.4 75.3h.9M441.2 87.8h.9M429.2 71.3h.9M440.0 78.5h.9M457.1 71.7h.9M450.7 75.6h.9M456.2 71.5h.9M445.5 78.7h.9M454.1 67.1h.9M439.5 67.7h.9M443.6 73.5h.9M433.4 73.9h.9M447.3 82.3h.9M445.2 74.6h.9M430.2 71.7h.9M439.8 60.7h.9M436.8 75.3h.9M429.1 82.3h.9M445.3 80.3h.9M445.9 61.0h.9M446.9 66.2h.9M439.8 74.6h.9M445.2 79.4h.9M443.8 82.2h.9M444.5 69.7h.9M446.0 70.3h.9M449.8 70.0h.9M439.8 81.8h.9M437.8 80.1h.9M447.2 66.3h.9M448.8 84.9h.9M439.0 80.3h.9M442.1 87.8h.9M440.2 73.5h.9M450.5 77.4h.9M455.8 76.0h.9M446.4 84.1h.9M446.8 77.2h.9M459.1 67.4h.9M441.4 81.2h.9M436.7 69.6h.9M438.5 79.6h.9M433.7 73.0h.9M443.8 67.4h.9M436.5 76.5h.9M443.4 68.1h.9M437.4 81.6h.9M437.1 74.7h.9M439.7 69.6h.9M448.7 70.8h.9M439.5 75.5h.9M444.4 70.4h.9M429.5 69.3h.9M436.5 79.9h.9M439.0 78.0h.9M441.3 65.8h.9M448.8 71.2h.9M437.4 67.4h.9M437.9 63.8h.9M451.2 74.5h.9M437.1 66.8h.9M444.9 67.2h.9M452.7 76.9h.9M434.1 73.7h.9M460.2 75.2h.9M450.8 68.5h.9M447.7 63.4h.9M449.3 79.5h.9" stroke="#000" stroke-opacity="0.19" stroke-width=".9" fill="none"/>
<text x="464.4" y="10.7" font-size="12" font-weight="bold" text-anchor="middle" fill="#000" >CTL+</text>
<text x="465.6" y="25.2" font-size="12" font-weight="bold" text-anchor="middle" fill="#000" >T2(Melan-A)</text>
<text x="506.3" y="44.8" font-size="12.5" font-weight="bold" text-anchor="end" fill="#000" >82%</text>
<text x="428.5" y="119.6" font-size="6.1" text-anchor="middle" fill="#000" stroke="#000" stroke-width=".25">10<tspan dy="-2.4">0</tspan></text>
<text x="449.7" y="119.6" font-size="6.1" text-anchor="middle" fill="#000" stroke="#000" stroke-width=".25">10<tspan dy="-2.4">1</tspan></text>
<text x="470.9" y="119.6" font-size="6.1" text-anchor="middle" fill="#000" stroke="#000" stroke-width=".25">10<tspan dy="-2.4">2</tspan></text>
<text x="492.0" y="119.6" font-size="6.1" text-anchor="middle" fill="#000" stroke="#000" stroke-width=".25">10<tspan dy="-2.4">3</tspan></text>
<text x="513.2" y="119.6" font-size="6.1" text-anchor="middle" fill="#000" stroke="#000" stroke-width=".25">10<tspan dy="-2.4">4</tspan></text>
<text x="426.5" y="112.3" font-size="6.5" text-anchor="middle" fill="#000" stroke="#000" stroke-width=".25" transform="rotate(-90 426.5 112.3)">10<tspan dy="-2.4">0</tspan></text>
<text x="426.5" y="92.3" font-size="6.5" text-anchor="middle" fill="#000" stroke="#000" stroke-width=".25" transform="rotate(-90 426.5 92.3)">10<tspan dy="-2.4">1</tspan></text>
<text x="426.5" y="72.3" font-size="6.5" text-anchor="middle" fill="#000" stroke="#000" stroke-width=".25" transform="rotate(-90 426.5 72.3)">10<tspan dy="-2.4">2</tspan></text>
<text x="426.5" y="52.3" font-size="6.5" text-anchor="middle" fill="#000" stroke="#000" stroke-width=".25" transform="rotate(-90 426.5 52.3)">10<tspan dy="-2.4">3</tspan></text>
<text x="426.5" y="32.3" font-size="6.5" text-anchor="middle" fill="#000" stroke="#000" stroke-width=".25" transform="rotate(-90 426.5 32.3)">10<tspan dy="-2.4">4</tspan></text>
<text x="8.2" y="72.6" font-size="6.2" text-anchor="middle" fill="#000" stroke="#000" stroke-width=".15" transform="rotate(-90 8.2 72.6)">PKH26 (red)</text>
<line x1="125" y1="131.2" x2="206.3" y2="131.2" stroke="#000" stroke-width="1"/>
<line x1="284" y1="131.2" x2="383" y2="131.2" stroke="#000" stroke-width="1"/>
<path d="M382 128.6 L388.5 131.2 L382 133.79999999999998Z" fill="#000"/>
<text x="245" y="135.5" font-size="12.3" font-weight="bold" text-anchor="middle" fill="#000" >annV-FITC</text>
<text x="1.0" y="180.4" font-size="25" font-weight="bold" text-anchor="start" fill="#000" >B</text>
<polygon points="26.3,283.0 26.5,283.0 27.3,279.0 28.1,281.2 28.9,281.3 29.7,280.0 30.5,277.9 31.3,276.8 32.1,275.9 32.9,272.4 33.7,269.8 34.5,267.9 35.3,264.5 36.1,261.7 36.9,257.8 37.7,254.7 38.5,251.5 39.3,250.1 40.1,248.8 40.9,248.4 41.7,248.1 42.5,247.7 43.3,248.4 44.1,250.0 44.9,251.1 45.7,253.8 46.5,256.8 47.3,258.4 48.1,262.3 48.9,264.2 49.7,266.6 50.5,268.7 51.3,272.2 52.1,273.3 52.9,275.0 53.7,276.8 54.5,277.9 55.3,279.0 56.1,280.2 56.9,280.1 57.7,280.6 58.5,280.9 59.3,281.2 60.1,281.4 60.9,281.5 61.7,281.6 62.5,281.7 63.3,281.7 64.1,281.8 64.9,281.8 65.7,281.9 66.5,282.0 67.3,282.0 68.1,282.1 68.9,282.1 69.7,282.2 70.5,282.2 71.3,282.3 72.1,282.3 72.9,282.3 73.7,282.2 74.5,282.2 75.3,282.2 76.1,282.2 76.9,282.1 77.7,282.1 78.5,282.1 79.3,282.1 80.1,282.0 80.9,282.0 81.7,282.0 82.5,282.0 83.3,281.9 84.1,281.9 84.9,281.9 85.7,281.9 86.5,281.9 87.3,281.8 88.1,281.8 88.9,281.8 89.7,281.9 90.5,281.9 91.3,282.0 92.1,282.0 92.9,282.1 93.7,282.1 94.5,282.2 95.3,282.2 96.1,282.3 96.3,283.0" fill="#777" stroke="#111" stroke-width="0.9" stroke-linejoin="round"/>
<path d="M26.3 222.4V283.0H96.5" fill="none" stroke="#111" stroke-width="1"/>
<line x1="23.7" y1="283.0" x2="26.3" y2="283.0" stroke="#111" stroke-width="1"/>
<line x1="23.7" y1="267.9" x2="26.3" y2="267.9" stroke="#111" stroke-width="1"/>
<line x1="23.7" y1="252.7" x2="26.3" y2="252.7" stroke="#111" stroke-width="1"/>
<line x1="23.7" y1="237.6" x2="26.3" y2="237.6" stroke="#111" stroke-width="1"/>
<line x1="23.7" y1="222.4" x2="26.3" y2="222.4" stroke="#111" stroke-width="1"/>
<line x1="26.3" y1="283.0" x2="26.3" y2="284.8" stroke="#111" stroke-width=".8"/>
<text x="26.6" y="293.9" font-size="9.6" text-anchor="middle" fill="#111">10</text>
<text x="31.9" y="289.8" font-size="5.6" fill="#111">0</text>
<line x1="46.8" y1="283.0" x2="46.8" y2="284.8" stroke="#111" stroke-width=".8"/>
<text x="47.1" y="293.9" font-size="9.6" text-anchor="middle" fill="#111">10</text>
<text x="52.4" y="289.8" font-size="5.6" fill="#111">1</text>
<line x1="67.3" y1="283.0" x2="67.3" y2="284.8" stroke="#111" stroke-width=".8"/>
<text x="67.6" y="293.9" font-size="9.6" text-anchor="middle" fill="#111">10</text>
<text x="72.9" y="289.8" font-size="5.6" fill="#111">2</text>
<line x1="87.8" y1="283.0" x2="87.8" y2="284.8" stroke="#111" stroke-width=".8"/>
<text x="88.1" y="293.9" font-size="9.6" text-anchor="middle" fill="#111">10</text>
<text x="93.4" y="289.8" font-size="5.6" fill="#111">3</text>
<text x="22.1" y="222.4" font-size="8.6" text-anchor="middle" fill="#111" transform="rotate(-90 22.1 222.4)" dy="0">512</text>
<text x="22.1" y="283.0" font-size="8.6" text-anchor="middle" fill="#111" transform="rotate(-90 22.1 283.0)" dy="0">0</text>
<text x="13.9" y="253" font-size="9.2" text-anchor="middle" fill="#111" transform="rotate(-90 13.9 253)">Events</text>
<text x="56.65" y="209.4" font-size="12" font-weight="bold" text-anchor="middle" fill="#000" >medium</text>
<text x="85.9" y="232.7" font-size="12.5" font-weight="bold" text-anchor="end" fill="#000" >5%</text>
<polygon points="122.5,283.3 122.7,283.0 123.5,276.7 124.3,279.3 125.1,280.9 125.9,279.9 126.7,279.6 127.5,278.0 128.3,276.3 129.1,274.8 129.9,272.5 130.7,270.4 131.5,267.0 132.3,265.3 133.1,262.2 133.9,259.4 134.7,256.7 135.5,252.6 136.3,247.8 137.1,247.1 137.9,247.7 138.7,249.4 139.5,250.1 140.3,252.6 141.1,254.8 141.9,256.3 142.7,259.2 143.5,262.4 144.3,264.6 145.1,266.9 145.9,268.2 146.7,270.8 147.5,273.0 148.3,275.5 149.1,276.0 149.9,277.9 150.7,278.5 151.5,279.4 152.3,280.2 153.1,280.4 153.9,280.9 154.7,281.1 155.5,281.3 156.3,281.5 157.1,281.7 157.9,281.8 158.7,281.9 159.5,281.9 160.3,282.0 161.1,282.1 161.9,282.1 162.7,282.2 163.5,282.2 164.3,282.3 165.1,282.3 165.9,282.4 166.7,282.4 167.5,282.5 168.3,282.5 169.1,282.5 169.9,282.5 170.7,282.5 171.5,282.4 172.3,282.4 173.1,282.4 173.9,282.4 174.7,282.4 175.5,282.4 176.3,282.4 177.1,282.4 177.9,282.3 178.7,282.3 179.5,282.3 180.3,282.3 181.1,282.2 181.9,282.1 182.7,281.9 183.5,281.8 184.3,281.7 185.1,281.6 185.9,281.6 186.7,281.7 187.5,281.8 188.3,282.0 189.1,282.1 189.9,282.1 190.7,282.2 191.5,282.3 192.3,282.4 192.5,283.3" fill="#777" stroke="#111" stroke-width="0.9" stroke-linejoin="round"/>
<path d="M122.5 222.4V283.3H193.7" fill="none" stroke="#111" stroke-width="1"/>
<line x1="119.9" y1="283.3" x2="122.5" y2="283.3" stroke="#111" stroke-width="1"/>
<line x1="119.9" y1="268.1" x2="122.5" y2="268.1" stroke="#111" stroke-width="1"/>
<line x1="119.9" y1="252.9" x2="122.5" y2="252.9" stroke="#111" stroke-width="1"/>
<line x1="119.9" y1="237.6" x2="122.5" y2="237.6" stroke="#111" stroke-width="1"/>
<line x1="119.9" y1="222.4" x2="122.5" y2="222.4" stroke="#111" stroke-width="1"/>
<line x1="122.5" y1="283.3" x2="122.5" y2="285.1" stroke="#111" stroke-width=".8"/>
<text x="122.8" y="294.2" font-size="9.6" text-anchor="middle" fill="#111">10</text>
<text x="128.1" y="290.1" font-size="5.6" fill="#111">0</text>
<line x1="143.1" y1="283.3" x2="143.1" y2="285.1" stroke="#111" stroke-width=".8"/>
<text x="143.4" y="294.2" font-size="9.6" text-anchor="middle" fill="#111">10</text>
<text x="148.7" y="290.1" font-size="5.6" fill="#111">1</text>
<line x1="163.7" y1="283.3" x2="163.7" y2="285.1" stroke="#111" stroke-width=".8"/>
<text x="164.0" y="294.2" font-size="9.6" text-anchor="middle" fill="#111">10</text>
<text x="169.3" y="290.1" font-size="5.6" fill="#111">2</text>
<line x1="184.3" y1="283.3" x2="184.3" y2="285.1" stroke="#111" stroke-width=".8"/>
<text x="184.6" y="294.2" font-size="9.6" text-anchor="middle" fill="#111">10</text>
<text x="189.9" y="290.1" font-size="5.6" fill="#111">3</text>
<text x="118.3" y="222.4" font-size="8.6" text-anchor="middle" fill="#111" transform="rotate(-90 118.3 222.4)" dy="0">512</text>
<text x="118.3" y="283.3" font-size="8.6" text-anchor="middle" fill="#111" transform="rotate(-90 118.3 283.3)" dy="0">0</text>
<text x="110.1" y="253" font-size="9.2" text-anchor="middle" fill="#111" transform="rotate(-90 110.1 253)">Events</text>
<text x="163.6" y="200.5" font-size="12" font-weight="bold" text-anchor="middle">IFN<tspan font-weight="normal">-γ</tspan></text>
<text x="162.4" y="214.8" font-size="11.6" font-weight="bold" text-anchor="middle" fill="#000" >(2,000U/mL)</text>
<text x="182.9" y="232.7" font-size="12.5" font-weight="bold" text-anchor="end" fill="#000" >7%</text>
<polygon points="224.1,282.2 224.3,282.2 225.1,278.3 225.9,279.7 226.7,279.6 227.5,279.0 228.3,276.5 229.1,275.3 229.9,272.5 230.7,269.8 231.5,266.9 232.3,264.8 233.1,261.1 233.9,259.1 234.7,255.0 235.5,253.0 236.3,250.5 237.1,247.6 237.9,248.1 238.7,247.8 239.5,248.8 240.3,248.8 241.1,250.7 241.9,253.1 242.7,255.8 243.5,258.9 244.3,260.8 245.1,264.2 245.9,266.9 246.7,268.5 247.5,271.5 248.3,273.8 249.1,274.7 249.9,275.4 250.7,277.4 251.5,278.2 252.3,279.0 253.1,279.5 253.9,279.8 254.7,280.2 255.5,280.6 256.3,280.7 257.1,280.8 257.9,280.9 258.7,281.0 259.5,281.1 260.3,281.2 261.1,281.4 261.9,281.5 262.7,281.5 263.5,281.5 264.3,281.6 265.1,281.6 265.9,281.6 266.7,281.6 267.5,281.7 268.3,281.7 269.1,281.7 269.9,281.7 270.7,281.8 271.5,281.8 272.3,281.8 273.1,281.8 273.9,281.8 274.7,281.7 275.5,281.7 276.3,281.7 277.1,281.7 277.9,281.7 278.7,281.6 279.5,281.6 280.3,281.6 281.1,281.5 281.9,281.4 282.7,281.3 283.5,281.2 284.3,280.9 285.1,280.5 285.9,280.1 286.7,279.8 287.5,279.8 288.3,279.5 289.1,278.3 289.9,277.6 290.7,277.6 291.5,278.4 292.3,278.5 293.1,279.8 293.9,278.9 294.7,279.9 295.5,280.6 296.3,281.1 297.1,281.5 297.9,281.8 298.7,282.2 299.5,282.2 300.3,282.2 301.1,282.2 301.6,282.2" fill="#777" stroke="#111" stroke-width="0.9" stroke-linejoin="round"/>
<path d="M224.1 220.3V282.2H302" fill="none" stroke="#111" stroke-width="1"/>
<line x1="221.5" y1="282.2" x2="224.1" y2="282.2" stroke="#111" stroke-width="1"/>
<line x1="221.5" y1="266.7" x2="224.1" y2="266.7" stroke="#111" stroke-width="1"/>
<line x1="221.5" y1="251.2" x2="224.1" y2="251.2" stroke="#111" stroke-width="1"/>
<line x1="221.5" y1="235.8" x2="224.1" y2="235.8" stroke="#111" stroke-width="1"/>
<line x1="221.5" y1="220.3" x2="224.1" y2="220.3" stroke="#111" stroke-width="1"/>
<line x1="224.1" y1="282.2" x2="224.1" y2="284.0" stroke="#111" stroke-width=".8"/>
<text x="224.4" y="293.1" font-size="9.6" text-anchor="middle" fill="#111">10</text>
<text x="229.7" y="289.0" font-size="5.6" fill="#111">0</text>
<line x1="244.0" y1="282.2" x2="244.0" y2="284.0" stroke="#111" stroke-width=".8"/>
<text x="244.3" y="293.1" font-size="9.6" text-anchor="middle" fill="#111">10</text>
<text x="249.6" y="289.0" font-size="5.6" fill="#111">1</text>
<line x1="263.9" y1="282.2" x2="263.9" y2="284.0" stroke="#111" stroke-width=".8"/>
<text x="264.2" y="293.1" font-size="9.6" text-anchor="middle" fill="#111">10</text>
<text x="269.5" y="289.0" font-size="5.6" fill="#111">2</text>
<line x1="283.8" y1="282.2" x2="283.8" y2="284.0" stroke="#111" stroke-width=".8"/>
<text x="284.1" y="293.1" font-size="9.6" text-anchor="middle" fill="#111">10</text>
<text x="289.4" y="289.0" font-size="5.6" fill="#111">3</text>
<text x="299.4" y="293.1" font-size="9.6" fill="#111">1</text>
<text x="219.9" y="220.3" font-size="8.6" text-anchor="middle" fill="#111" transform="rotate(-90 219.9 220.3)" dy="0">512</text>
<text x="219.9" y="282.2" font-size="8.6" text-anchor="middle" fill="#111" transform="rotate(-90 219.9 282.2)" dy="0">0</text>
<text x="211.7" y="253" font-size="9.2" text-anchor="middle" fill="#111" transform="rotate(-90 211.7 253)">Events</text>
<text x="269.2" y="199.1" font-size="12" font-weight="bold" text-anchor="middle" fill="#000" >IL-2</text>
<text x="270.1" y="212.3" font-size="12.4" font-weight="bold" text-anchor="middle" fill="#000" >(200U/mL)</text>
<text x="291" y="232.7" font-size="12.5" font-weight="bold" text-anchor="end" fill="#000" >10%</text>
<polygon points="327.2,284.0 327.5,284.0 328.3,283.9 329.1,283.9 329.9,283.8 330.7,283.7 331.5,283.7 332.3,283.6 333.1,283.5 333.9,283.5 334.7,283.4 335.5,283.3 336.3,283.1 337.1,282.9 337.9,282.8 338.7,282.6 339.5,282.4 340.3,282.1 341.1,281.7 341.9,282.0 342.7,281.1 343.5,280.7 344.3,281.0 345.1,280.6 345.9,280.0 346.7,279.6 347.5,277.7 348.3,277.7 349.1,277.0 349.9,276.7 350.7,274.2 351.5,274.7 352.3,273.7 353.1,273.5 353.9,272.4 354.7,272.8 355.5,270.5 356.3,269.8 357.1,269.4 357.9,267.0 358.7,265.9 359.5,264.6 360.3,262.2 361.1,260.4 361.9,258.4 362.7,257.9 363.5,255.7 364.3,254.8 365.1,253.3 365.9,252.3 366.7,253.3 367.5,253.3 368.3,255.3 369.1,254.9 369.9,256.3 370.7,256.7 371.5,255.4 372.3,255.7 373.1,256.1 373.9,257.2 374.7,257.2 375.5,257.1 376.3,256.7 377.1,256.7 377.9,258.3 378.7,256.9 379.5,257.1 380.3,255.7 381.1,255.9 381.9,256.6 382.7,254.7 383.5,252.0 384.3,253.3 385.1,252.2 385.9,251.4 386.7,250.3 387.5,250.5 388.3,251.1 389.1,250.8 389.9,251.5 390.7,253.9 391.5,255.8 392.3,260.5 393.1,262.3 393.9,265.5 394.7,269.3 395.5,272.8 396.3,277.4 397.1,279.3 397.9,281.9 398.7,283.0 399.29999999999995,284.0" fill="#777" stroke="#111" stroke-width="0.9" stroke-linejoin="round"/>
<path d="M327.2 220.0V284.0H404.6" fill="none" stroke="#111" stroke-width="1"/>
<line x1="324.59999999999997" y1="284.0" x2="327.2" y2="284.0" stroke="#111" stroke-width="1"/>
<line x1="324.59999999999997" y1="268.0" x2="327.2" y2="268.0" stroke="#111" stroke-width="1"/>
<line x1="324.59999999999997" y1="252.0" x2="327.2" y2="252.0" stroke="#111" stroke-width="1"/>
<line x1="324.59999999999997" y1="236.0" x2="327.2" y2="236.0" stroke="#111" stroke-width="1"/>
<line x1="324.59999999999997" y1="220.0" x2="327.2" y2="220.0" stroke="#111" stroke-width="1"/>
<line x1="327.2" y1="284.0" x2="327.2" y2="285.8" stroke="#111" stroke-width=".8"/>
<text x="327.5" y="294.9" font-size="9.6" text-anchor="middle" fill="#111">10</text>
<text x="332.8" y="290.8" font-size="5.6" fill="#111">0</text>
<line x1="347.7" y1="284.0" x2="347.7" y2="285.8" stroke="#111" stroke-width=".8"/>
<text x="348.0" y="294.9" font-size="9.6" text-anchor="middle" fill="#111">10</text>
<text x="353.3" y="290.8" font-size="5.6" fill="#111">1</text>
<line x1="368.2" y1="284.0" x2="368.2" y2="285.8" stroke="#111" stroke-width=".8"/>
<text x="368.5" y="294.9" font-size="9.6" text-anchor="middle" fill="#111">10</text>
<text x="373.8" y="290.8" font-size="5.6" fill="#111">2</text>
<line x1="388.7" y1="284.0" x2="388.7" y2="285.8" stroke="#111" stroke-width=".8"/>
<text x="389.0" y="294.9" font-size="9.6" text-anchor="middle" fill="#111">10</text>
<text x="394.3" y="290.8" font-size="5.6" fill="#111">3</text>
<text x="323.0" y="220.0" font-size="8.6" text-anchor="middle" fill="#111" transform="rotate(-90 323.0 220.0)" dy="0">256</text>
<text x="323.0" y="284.0" font-size="8.6" text-anchor="middle" fill="#111" transform="rotate(-90 323.0 284.0)" dy="0">0</text>
<text x="314.8" y="253" font-size="9.2" text-anchor="middle" fill="#111" transform="rotate(-90 314.8 253)">Events</text>
<text x="367.2" y="197.7" font-size="12" font-weight="bold" text-anchor="middle"><tspan font-weight="normal">α</tspan>-CD3/CD28</text>
<text x="366.9" y="211.3" font-size="12" font-weight="bold" text-anchor="middle" fill="#000" >beads</text>
<text x="390.4" y="232.7" font-size="12.5" font-weight="bold" text-anchor="end" fill="#000" >78%</text>
<polygon points="425.4,282.8 425.6,282.8 426.4,282.8 427.2,282.8 428.0,282.7 428.8,282.7 429.6,282.7 430.4,282.7 431.2,282.6 432.0,282.6 432.8,282.6 433.6,282.6 434.4,282.5 435.2,282.5 436.0,281.2 436.8,281.1 437.6,282.1 438.4,281.9 439.2,281.8 440.0,281.6 440.8,281.3 441.6,281.1 442.4,280.6 443.2,280.6 444.0,280.7 444.8,278.3 445.6,279.2 446.4,278.2 447.2,279.1 448.0,278.4 448.8,277.8 449.6,275.4 450.4,274.0 451.2,274.7 452.0,275.2 452.8,275.1 453.6,275.3 454.4,273.0 455.2,269.9 456.0,267.1 456.8,265.3 457.6,265.8 458.4,262.5 459.2,261.8 460.0,258.9 460.8,258.7 461.6,258.1 462.4,257.1 463.2,251.5 464.0,249.7 464.8,252.6 465.6,255.9 466.4,255.4 467.2,254.8 468.0,251.9 468.8,250.1 469.6,247.8 470.4,246.7 471.2,251.7 472.0,253.5 472.8,252.3 473.6,250.2 474.4,248.6 475.2,247.8 476.0,246.2 476.8,244.7 477.6,245.7 478.4,248.5 479.2,249.4 480.0,251.2 480.8,252.1 481.6,250.9 482.4,250.6 483.2,253.4 484.0,254.9 484.8,254.2 485.6,253.0 486.4,255.0 487.2,253.5 488.0,254.9 488.8,254.9 489.6,256.8 490.4,257.1 491.2,259.7 492.0,258.6 492.8,259.1 493.6,261.2 494.4,262.3 495.2,263.1 496.0,264.5 496.8,266.1 497.6,269.0 498.4,270.5 499.2,274.1 500.0,277.8 500.8,278.0 501.6,281.1 502.4,282.0 503.2,282.6 503.4,282.8" fill="#777" stroke="#111" stroke-width="0.9" stroke-linejoin="round"/>
<path d="M425.4 220.2V282.8H508.5" fill="none" stroke="#111" stroke-width="1"/>
<line x1="422.79999999999995" y1="282.8" x2="425.4" y2="282.8" stroke="#111" stroke-width="1"/>
<line x1="422.79999999999995" y1="267.1" x2="425.4" y2="267.1" stroke="#111" stroke-width="1"/>
<line x1="422.79999999999995" y1="251.5" x2="425.4" y2="251.5" stroke="#111" stroke-width="1"/>
<line x1="422.79999999999995" y1="235.8" x2="425.4" y2="235.8" stroke="#111" stroke-width="1"/>
<line x1="422.79999999999995" y1="220.2" x2="425.4" y2="220.2" stroke="#111" stroke-width="1"/>
<line x1="425.4" y1="282.8" x2="425.4" y2="284.6" stroke="#111" stroke-width=".8"/>
<text x="425.7" y="293.7" font-size="9.6" text-anchor="middle" fill="#111">10</text>
<text x="431.0" y="289.6" font-size="5.6" fill="#111">0</text>
<line x1="445.9" y1="282.8" x2="445.9" y2="284.6" stroke="#111" stroke-width=".8"/>
<text x="446.2" y="293.7" font-size="9.6" text-anchor="middle" fill="#111">10</text>
<text x="451.5" y="289.6" font-size="5.6" fill="#111">1</text>
<line x1="466.4" y1="282.8" x2="466.4" y2="284.6" stroke="#111" stroke-width=".8"/>
<text x="466.7" y="293.7" font-size="9.6" text-anchor="middle" fill="#111">10</text>
<text x="472.0" y="289.6" font-size="5.6" fill="#111">2</text>
<line x1="486.9" y1="282.8" x2="486.9" y2="284.6" stroke="#111" stroke-width=".8"/>
<text x="487.2" y="293.7" font-size="9.6" text-anchor="middle" fill="#111">10</text>
<text x="492.5" y="289.6" font-size="5.6" fill="#111">3</text>
<text x="507.7" y="293.7" font-size="9.6" text-anchor="middle" fill="#111">10</text>
<text x="513.0" y="289.6" font-size="5.6" fill="#111">4</text>
<text x="421.2" y="220.2" font-size="8.6" text-anchor="middle" fill="#111" transform="rotate(-90 421.2 220.2)" dy="0">256</text>
<text x="421.2" y="282.8" font-size="8.6" text-anchor="middle" fill="#111" transform="rotate(-90 421.2 282.8)" dy="0">0</text>
<text x="413.0" y="253" font-size="9.2" text-anchor="middle" fill="#111" transform="rotate(-90 413.0 253)">Events</text>
<text x="462.9" y="200.8" font-size="12" font-weight="bold" text-anchor="middle" fill="#000" >T2</text>
<text x="465.2" y="214.5" font-size="12.1" font-weight="bold" text-anchor="middle" fill="#000" >(Melan-A)</text>
<text x="489.8" y="232.7" font-size="12.5" font-weight="bold" text-anchor="end" fill="#000" >92%</text>
<line x1="125" y1="306.8" x2="206.3" y2="306.8" stroke="#000" stroke-width="1"/>
<line x1="284" y1="306.8" x2="383" y2="306.8" stroke="#000" stroke-width="1"/>
<path d="M382 304.2 L388.5 306.8 L382 309.40000000000003Z" fill="#000"/>
<text x="245" y="311.1" font-size="12.3" font-weight="bold" text-anchor="middle" fill="#000" >annV-FITC</text>
<text x="4.3" y="356.6" font-size="25" font-weight="bold" text-anchor="start" fill="#000" >C</text>
<rect x="57.5" y="347" width="172.5" height="46.8" fill="#fff" stroke="#8a8a8a" stroke-width="1"/>
<line x1="58.5" y1="419.4" x2="228.6" y2="419.4" stroke="#a0a0a0" stroke-width="1"/>
<line x1="58.5" y1="439.0" x2="228.6" y2="439.0" stroke="#a0a0a0" stroke-width="1"/>
<line x1="58.5" y1="458.6" x2="228.6" y2="458.6" stroke="#a0a0a0" stroke-width="1"/>
<line x1="58.5" y1="478.8" x2="228.6" y2="478.8" stroke="#a0a0a0" stroke-width="1"/>
<line x1="58.5" y1="498.4" x2="228.6" y2="498.4" stroke="#a0a0a0" stroke-width="1"/>
<line x1="58.5" y1="518.0" x2="228.6" y2="518.0" stroke="#a0a0a0" stroke-width="1"/>
<rect x="58.5" y="399.5" width="170.1" height="138.0" fill="none" stroke="#777" stroke-width="1"/>
<text x="50.6" y="542.5" font-size="12.6" text-anchor="end" fill="#111" >0</text>
<text x="50.6" y="522.7857142857143" font-size="12.6" text-anchor="end" fill="#111" >10</text>
<text x="50.6" y="503.07142857142856" font-size="12.6" text-anchor="end" fill="#111" >20</text>
<text x="50.6" y="483.35714285714283" font-size="12.6" text-anchor="end" fill="#111" >30</text>
<text x="50.6" y="463.6428571428571" font-size="12.6" text-anchor="end" fill="#111" >40</text>
<text x="50.6" y="443.92857142857144" font-size="12.6" text-anchor="end" fill="#111" >50</text>
<text x="50.6" y="424.2142857142857" font-size="12.6" text-anchor="end" fill="#111" >60</text>
<text x="50.6" y="404.5" font-size="12.6" text-anchor="end" fill="#111" >70</text>
<text x="58.8" y="559.2" font-size="12.6" text-anchor="middle" fill="#111" >0</text>
<text x="83.1" y="559.2" font-size="12.6" text-anchor="middle" fill="#111" >10</text>
<text x="107.39999999999999" y="559.2" font-size="12.6" text-anchor="middle" fill="#111" >20</text>
<text x="131.70000000000002" y="559.2" font-size="12.6" text-anchor="middle" fill="#111" >30</text>
<text x="156.0" y="559.2" font-size="12.6" text-anchor="middle" fill="#111" >40</text>
<text x="180.3" y="559.2" font-size="12.6" text-anchor="middle" fill="#111" >50</text>
<text x="204.60000000000002" y="559.2" font-size="12.6" text-anchor="middle" fill="#111" >60</text>
<text x="228.9" y="559.2" font-size="12.6" text-anchor="middle" fill="#111" >70</text>
<text x="29.2" y="466.3" font-size="12.4" font-weight="bold" text-anchor="middle" transform="rotate(-90 29.2 466.3)">% annV-FITC+ cells</text>
<text x="144.6" y="579.6" font-size="12" font-weight="bold" text-anchor="middle" fill="#000" >time [min]</text>
<path d="M64.6 478.4V482.3M61.6 478.4h6M61.6 482.3h6" stroke="#000" stroke-width="1" fill="none"/>
<path d="M70.7 409.8V434.2M67.7 409.8h6M67.7 434.2h6" stroke="#000" stroke-width="1" fill="none"/>
<path d="M82.8 409.8V432.6M79.8 409.8h6M79.8 432.6h6" stroke="#000" stroke-width="1" fill="none"/>
<path d="M95.0 407.0V431.8M92.0 407.0h6M92.0 431.8h6" stroke="#000" stroke-width="1" fill="none"/>
<path d="M107.1 414.5V432.2M104.1 414.5h6M104.1 432.2h6" stroke="#000" stroke-width="1" fill="none"/>
<path d="M119.2 416.3V422.6M116.2 416.3h6M116.2 422.6h6" stroke="#000" stroke-width="1" fill="none"/>
<path d="M131.4 423.4V438.7M128.4 423.4h6M128.4 438.7h6" stroke="#000" stroke-width="1" fill="none"/>
<path d="M143.6 423.6V430.6M140.6 423.6h6M140.6 430.6h6" stroke="#000" stroke-width="1" fill="none"/>
<path d="M155.7 434.4V448.6M152.7 434.4h6M152.7 448.6h6" stroke="#000" stroke-width="1" fill="none"/>
<path d="M167.8 434.8V438.7M164.8 434.8h6M164.8 438.7h6" stroke="#000" stroke-width="1" fill="none"/>
<path d="M180.0 435.2V443.5M177.0 435.2h6M177.0 443.5h6" stroke="#000" stroke-width="1" fill="none"/>
<path d="M192.2 430.6V440.5M189.2 430.6h6M189.2 440.5h6" stroke="#000" stroke-width="1" fill="none"/>
<path d="M204.3 441.5V445.4M201.3 441.5h6M201.3 445.4h6" stroke="#000" stroke-width="1" fill="none"/>
<path d="M58.5 522.5V527.2M55.5 527.2h6" stroke="#000" stroke-width="1" fill="none"/>
<path d="M70.7 523.5V528.2M67.7 528.2h6" stroke="#000" stroke-width="1" fill="none"/>
<path d="M82.8 523.5V527.4M79.8 527.4h6" stroke="#000" stroke-width="1" fill="none"/>
<path d="M95.0 524.5V528.2M92.0 528.2h6" stroke="#000" stroke-width="1" fill="none"/>
<path d="M107.1 522.7V523.9M104.1 523.9h6" stroke="#000" stroke-width="1" fill="none"/>
<path d="M119.2 524.9V526.1M116.2 526.1h6" stroke="#000" stroke-width="1" fill="none"/>
<path d="M131.4 525.1V526.3M128.4 526.3h6" stroke="#000" stroke-width="1" fill="none"/>
<path d="M143.6 526.7V527.6M140.6 527.6h6" stroke="#000" stroke-width="1" fill="none"/>
<path d="M155.7 525.9V527.1M152.7 527.1h6" stroke="#000" stroke-width="1" fill="none"/>
<path d="M180.0 526.9V529.6M177.0 529.6h6" stroke="#000" stroke-width="1" fill="none"/>
<path d="M204.3 525.7V528.2M201.3 528.2h6" stroke="#000" stroke-width="1" fill="none"/>
<polyline points="58.5,521.3 64.6,480.3 70.7,422.0 76.7,438.7 82.8,421.2 95.0,419.4 107.1,423.4 119.2,419.4 131.4,431.0 143.6,427.1 155.7,441.5 167.8,436.8 180.0,439.3 192.2,435.6 204.3,443.5" fill="none" stroke="#000" stroke-width="1.1"/>
<polyline points="58.5,522.5 64.6,517.2 70.7,523.5 76.7,519.0 82.8,523.5 95.0,524.5 107.1,522.7 119.2,524.9 131.4,525.1 143.6,526.7 155.7,525.9 167.8,528.4 180.0,526.9 192.2,527.6 204.3,525.7" fill="none" stroke="#000" stroke-width="1.1"/>
<path d="M58.5 517.4L62.2 524.1L54.8 524.1Z" fill="#000"/>
<path d="M64.6 476.4L68.3 483.1L60.9 483.1Z" fill="#000"/>
<path d="M70.7 418.1L74.4 424.7L66.9 424.7Z" fill="#000"/>
<path d="M76.7 434.8L80.4 441.5L73.0 441.5Z" fill="#000"/>
<path d="M82.8 417.3L86.5 423.9L79.1 423.9Z" fill="#000"/>
<path d="M95.0 415.5L98.7 422.1L91.2 422.1Z" fill="#000"/>
<path d="M107.1 419.5L110.8 426.1L103.4 426.1Z" fill="#000"/>
<path d="M119.2 415.5L123.0 422.1L115.5 422.1Z" fill="#000"/>
<path d="M131.4 427.1L135.1 433.8L127.7 433.8Z" fill="#000"/>
<path d="M143.6 423.2L147.3 429.8L139.8 429.8Z" fill="#000"/>
<path d="M155.7 437.6L159.4 444.2L152.0 444.2Z" fill="#000"/>
<path d="M167.8 432.9L171.6 439.5L164.1 439.5Z" fill="#000"/>
<path d="M180.0 435.4L183.7 442.1L176.3 442.1Z" fill="#000"/>
<path d="M192.2 431.7L195.9 438.3L188.4 438.3Z" fill="#000"/>
<path d="M204.3 439.6L208.0 446.2L200.6 446.2Z" fill="#000"/>
<circle cx="58.5" cy="522.5" r="2.4" fill="#fff" stroke="#000" stroke-width="1"/>
<circle cx="64.6" cy="517.2" r="2.4" fill="#fff" stroke="#000" stroke-width="1"/>
<circle cx="70.7" cy="523.5" r="2.4" fill="#fff" stroke="#000" stroke-width="1"/>
<circle cx="76.7" cy="519.0" r="2.4" fill="#fff" stroke="#000" stroke-width="1"/>
<circle cx="82.8" cy="523.5" r="2.4" fill="#fff" stroke="#000" stroke-width="1"/>
<circle cx="95.0" cy="524.5" r="2.4" fill="#fff" stroke="#000" stroke-width="1"/>
<circle cx="107.1" cy="522.7" r="2.4" fill="#fff" stroke="#000" stroke-width="1"/>
<circle cx="119.2" cy="524.9" r="2.4" fill="#fff" stroke="#000" stroke-width="1"/>
<circle cx="131.4" cy="525.1" r="2.4" fill="#fff" stroke="#000" stroke-width="1"/>
<circle cx="143.6" cy="526.7" r="2.4" fill="#fff" stroke="#000" stroke-width="1"/>
<circle cx="155.7" cy="525.9" r="2.4" fill="#fff" stroke="#000" stroke-width="1"/>
<circle cx="167.8" cy="528.4" r="2.4" fill="#fff" stroke="#000" stroke-width="1"/>
<circle cx="180.0" cy="526.9" r="2.4" fill="#fff" stroke="#000" stroke-width="1"/>
<circle cx="192.2" cy="527.6" r="2.4" fill="#fff" stroke="#000" stroke-width="1"/>
<circle cx="204.3" cy="525.7" r="2.4" fill="#fff" stroke="#000" stroke-width="1"/>
<line x1="87.9" y1="359.5" x2="112" y2="359.5" stroke="#000" stroke-width="1.1"/><path d="M100.0 356.1L103.3 362.1L96.7 362.1Z" fill="#000"/>
<line x1="87.9" y1="382.6" x2="112" y2="382.6" stroke="#000" stroke-width="1.1"/><circle cx="99.5" cy="382.5" r="2.3" fill="#fff" stroke="#000" stroke-width="1"/>
<text x="114.3" y="363.4" font-size="12.3" text-anchor="start" fill="#111" >2.5μM ionomycin</text>
<text x="114.3" y="387" font-size="12.3" text-anchor="start" fill="#111" >w/o ionomycin</text>
<text x="282.6" y="357.6" font-size="25" font-weight="bold" text-anchor="start" fill="#000" >D</text>
<rect x="318.5" y="347.5" width="172" height="47.8" fill="#fff" stroke="#8a8a8a" stroke-width="1"/>
<line x1="319.5" y1="516.5" x2="490.5" y2="516.5" stroke="#a0a0a0" stroke-width="1"/>
<line x1="319.5" y1="493.5" x2="490.5" y2="493.5" stroke="#a0a0a0" stroke-width="1"/>
<line x1="319.5" y1="470.5" x2="490.5" y2="470.5" stroke="#a0a0a0" stroke-width="1"/>
<line x1="319.5" y1="447.5" x2="490.5" y2="447.5" stroke="#a0a0a0" stroke-width="1"/>
<line x1="319.5" y1="424.5" x2="490.5" y2="424.5" stroke="#a0a0a0" stroke-width="1"/>
<rect x="319.5" y="401.5" width="171.0" height="138.0" fill="none" stroke="#777" stroke-width="1"/>
<line x1="317.5" y1="539.5" x2="319.5" y2="539.5" stroke="#8a8a8a" stroke-width="1"/>
<text x="316.0" y="546.3" font-size="12.6" text-anchor="end" fill="#111" >0</text>
<line x1="317.5" y1="516.5" x2="319.5" y2="516.5" stroke="#8a8a8a" stroke-width="1"/>
<text x="316.0" y="523.3" font-size="12.6" text-anchor="end" fill="#111" >10</text>
<line x1="317.5" y1="493.5" x2="319.5" y2="493.5" stroke="#8a8a8a" stroke-width="1"/>
<text x="316.0" y="500.3" font-size="12.6" text-anchor="end" fill="#111" >20</text>
<line x1="317.5" y1="470.5" x2="319.5" y2="470.5" stroke="#8a8a8a" stroke-width="1"/>
<text x="316.0" y="477.3" font-size="12.6" text-anchor="end" fill="#111" >30</text>
<line x1="317.5" y1="447.5" x2="319.5" y2="447.5" stroke="#8a8a8a" stroke-width="1"/>
<text x="316.0" y="454.3" font-size="12.6" text-anchor="end" fill="#111" >40</text>
<line x1="317.5" y1="424.5" x2="319.5" y2="424.5" stroke="#8a8a8a" stroke-width="1"/>
<text x="316.0" y="431.3" font-size="12.6" text-anchor="end" fill="#111" >50</text>
<line x1="317.5" y1="401.5" x2="319.5" y2="401.5" stroke="#8a8a8a" stroke-width="1"/>
<text x="316.0" y="408.3" font-size="12.6" text-anchor="end" fill="#111" >60</text>
<text x="343.675" y="558.0" font-size="12.2" text-anchor="middle" fill="#111" >0.06</text>
<text x="386.425" y="558.0" font-size="12.2" text-anchor="middle" fill="#111" >0.2</text>
<text x="429.175" y="558.0" font-size="12.2" text-anchor="middle" fill="#111" >0.6</text>
<text x="471.925" y="558.0" font-size="12.2" text-anchor="middle" fill="#111" >1.8</text>
<text x="295.2" y="460.5" font-size="12.2" font-weight="bold" text-anchor="middle" transform="rotate(-90 295.2 460.5)">% annV+ PKH-26+ CTL</text>
<text x="405.6" y="575.8" font-size="12.3" font-weight="bold" text-anchor="middle" fill="#000" >tumor cells : CTL</text>
<polyline points="340.4,525.0 382.9,464.5 425.4,430.7 468.2,427.3" fill="none" stroke="#000" stroke-width="1.1"/>
<polyline points="340.4,522.7 382.9,508.4 425.4,507.3 468.2,512.6" fill="none" stroke="#000" stroke-width="1.1"/>
<polyline points="340.4,539.5 382.9,526.2 425.4,526.2 468.2,529.4" fill="none" stroke="#000" stroke-width="1.1"/>
<path d="M340.4 518.0L344.4 525.2L336.4 525.2Z" fill="#000"/>
<path d="M382.9 503.8L386.9 510.9L378.9 510.9Z" fill="#000"/>
<path d="M425.4 502.6L429.4 509.7L421.4 509.7Z" fill="#000"/>
<path d="M468.2 507.9L472.2 515.0L464.2 515.0Z" fill="#000"/>
<circle cx="340.4" cy="525.0" r="3.3" fill="#000"/>
<circle cx="382.9" cy="464.5" r="3.3" fill="#000"/>
<circle cx="425.4" cy="430.7" r="3.3" fill="#000"/>
<circle cx="468.2" cy="427.3" r="3.3" fill="#000"/>
<circle cx="340.4" cy="539.5" r="3.1" fill="#fff" stroke="#000" stroke-width="1"/>
<circle cx="382.9" cy="526.2" r="3.1" fill="#fff" stroke="#000" stroke-width="1"/>
<circle cx="425.4" cy="526.2" r="3.1" fill="#fff" stroke="#000" stroke-width="1"/>
<circle cx="468.2" cy="529.4" r="3.1" fill="#fff" stroke="#000" stroke-width="1"/>
<line x1="328" y1="355.8" x2="346.5" y2="355.8" stroke="#000" stroke-width="1.1"/>
<circle cx="337" cy="355.8" r="3.3" fill="#000"/>
<line x1="328" y1="372.2" x2="346.5" y2="372.2" stroke="#000" stroke-width="1.1"/>
<path d="M337.0 367.9L341.1 375.2L332.9 375.2Z" fill="#000"/>
<line x1="328" y1="389.2" x2="346.5" y2="389.2" stroke="#000" stroke-width="1.1"/>
<circle cx="337" cy="389.2" r="3" fill="#fff" stroke="#000" stroke-width="1"/>
<text x="348.2" y="363.0" font-size="12.3" text-anchor="start" fill="#111" >Mel493</text>
<text x="348.8" y="377.2" font-size="12.3" fill="#111">Mel494 + <tspan font-family="Liberation Serif" font-size="14">α</tspan>-MHC-I mAb</text>
<text x="348.2" y="393.8" font-size="12.3" text-anchor="start" fill="#111" >Na8</text>
</svg></body></html>
